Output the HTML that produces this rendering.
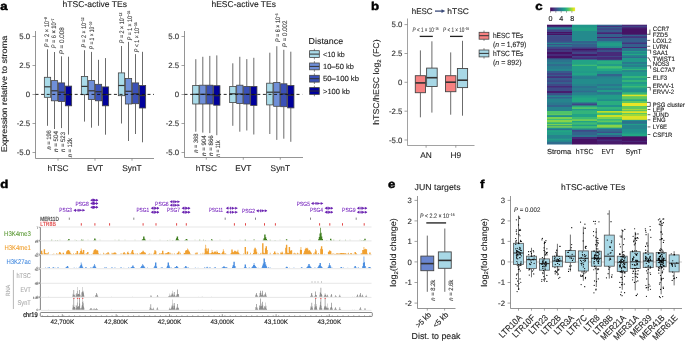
<!DOCTYPE html><html><head><meta charset="utf-8"><style>html,body{margin:0;padding:0;background:#fff;overflow:hidden}svg{display:block;text-rendering:geometricPrecision;will-change:transform}</style></head><body>
<svg width="685" height="341" viewBox="0 0 685 341" font-family='"Liberation Sans", sans-serif'>
<rect width="685" height="341" fill="#fff"/>
<text transform="translate(0.2,10.3) scale(1.15,1)" font-size="11.5" font-weight="bold" fill="#000" stroke="#000" stroke-width="0.45">a</text>
<line x1="35.5" y1="31" x2="35.5" y2="158.5" stroke="#7a7a7a" stroke-width="0.8" />
<line x1="32.5" y1="36.5" x2="35.5" y2="36.5" stroke="#7a7a7a" stroke-width="0.7" />
<text x="30.2" y="39.3" font-size="7.8" fill="#333" stroke="#333" stroke-width="0.12" text-anchor="end" >5.0</text>
<line x1="32.5" y1="65.5" x2="35.5" y2="65.5" stroke="#7a7a7a" stroke-width="0.7" />
<text x="30.2" y="68.3" font-size="7.8" fill="#333" stroke="#333" stroke-width="0.12" text-anchor="end" >2.5</text>
<line x1="32.5" y1="94.5" x2="35.5" y2="94.5" stroke="#7a7a7a" stroke-width="0.7" />
<text x="30.2" y="97.3" font-size="7.8" fill="#333" stroke="#333" stroke-width="0.12" text-anchor="end" >0</text>
<line x1="32.5" y1="123.5" x2="35.5" y2="123.5" stroke="#7a7a7a" stroke-width="0.7" />
<text x="30.2" y="126.3" font-size="7.8" fill="#333" stroke="#333" stroke-width="0.12" text-anchor="end" >-2.5</text>
<line x1="32.5" y1="152.5" x2="35.5" y2="152.5" stroke="#7a7a7a" stroke-width="0.7" />
<text x="30.2" y="155.3" font-size="7.8" fill="#333" stroke="#333" stroke-width="0.12" text-anchor="end" >-5.0</text>
<line x1="35.5" y1="158.5" x2="154.0" y2="158.5" stroke="#7a7a7a" stroke-width="0.8" />
<text x="62.6" y="7" font-size="8.5" fill="#222" stroke="#222" stroke-width="0.12" textLength="64.4" lengthAdjust="spacingAndGlyphs" >hTSC-active TEs</text>
<line x1="47.5" y1="49.3" x2="47.5" y2="77.3" stroke="#454545" stroke-width="0.8" />
<line x1="47.5" y1="97.3" x2="47.5" y2="125.8" stroke="#454545" stroke-width="0.8" />
<rect x="44.35" y="77.30" width="6.30" height="20.00" fill="#a9dbe9" stroke="#454545" stroke-width="0.8"/>
<line x1="44.35" y1="86.8" x2="50.65" y2="86.8" stroke="#333" stroke-width="1.2" />
<line x1="54.5" y1="52" x2="54.5" y2="80.6" stroke="#454545" stroke-width="0.8" />
<line x1="54.5" y1="100.8" x2="54.5" y2="129" stroke="#454545" stroke-width="0.8" />
<rect x="51.35" y="80.60" width="6.30" height="20.20" fill="#6f8fd8" stroke="#454545" stroke-width="0.8"/>
<line x1="51.35" y1="90.8" x2="57.65" y2="90.8" stroke="#333" stroke-width="1.2" />
<line x1="61.5" y1="56.3" x2="61.5" y2="82.9" stroke="#454545" stroke-width="0.8" />
<line x1="61.5" y1="101.4" x2="61.5" y2="128.1" stroke="#454545" stroke-width="0.8" />
<rect x="58.35" y="82.90" width="6.30" height="18.50" fill="#3a50b8" stroke="#454545" stroke-width="0.8"/>
<line x1="58.35" y1="92.2" x2="64.65" y2="92.2" stroke="#333" stroke-width="1.2" />
<line x1="68.5" y1="56.7" x2="68.5" y2="86.1" stroke="#454545" stroke-width="0.8" />
<line x1="68.5" y1="105.8" x2="68.5" y2="134.6" stroke="#454545" stroke-width="0.8" />
<rect x="65.35" y="86.10" width="6.30" height="19.70" fill="#00009b" stroke="#454545" stroke-width="0.8"/>
<line x1="65.35" y1="94.7" x2="71.65" y2="94.7" stroke="#333" stroke-width="1.2" />
<line x1="58.0" y1="158.5" x2="58.0" y2="160.7" stroke="#7a7a7a" stroke-width="0.7" />
<text x="58.0" y="170.7" font-size="8.3" fill="#222" stroke="#222" stroke-width="0.12" text-anchor="middle" >hTSC</text>
<line x1="84.5" y1="50.2" x2="84.5" y2="76.4" stroke="#454545" stroke-width="0.8" />
<line x1="84.5" y1="94.7" x2="84.5" y2="121.6" stroke="#454545" stroke-width="0.8" />
<rect x="81.35" y="76.40" width="6.30" height="18.30" fill="#a9dbe9" stroke="#454545" stroke-width="0.8"/>
<line x1="81.35" y1="86.4" x2="87.65" y2="86.4" stroke="#333" stroke-width="1.2" />
<line x1="91.5" y1="51.9" x2="91.5" y2="80.6" stroke="#454545" stroke-width="0.8" />
<line x1="91.5" y1="99.4" x2="91.5" y2="127.7" stroke="#454545" stroke-width="0.8" />
<rect x="88.35" y="80.60" width="6.30" height="18.80" fill="#6f8fd8" stroke="#454545" stroke-width="0.8"/>
<line x1="88.35" y1="90.8" x2="94.65" y2="90.8" stroke="#333" stroke-width="1.2" />
<line x1="98.5" y1="59.8" x2="98.5" y2="84.3" stroke="#454545" stroke-width="0.8" />
<line x1="98.5" y1="100.8" x2="98.5" y2="125.8" stroke="#454545" stroke-width="0.8" />
<rect x="95.35" y="84.30" width="6.30" height="16.50" fill="#3a50b8" stroke="#454545" stroke-width="0.8"/>
<line x1="95.35" y1="91.7" x2="101.65" y2="91.7" stroke="#333" stroke-width="1.2" />
<line x1="105.5" y1="58.1" x2="105.5" y2="86.9" stroke="#454545" stroke-width="0.8" />
<line x1="105.5" y1="105.8" x2="105.5" y2="134.7" stroke="#454545" stroke-width="0.8" />
<rect x="102.35" y="86.90" width="6.30" height="18.90" fill="#00009b" stroke="#454545" stroke-width="0.8"/>
<line x1="102.35" y1="94.7" x2="108.65" y2="94.7" stroke="#333" stroke-width="1.2" />
<line x1="95.0" y1="158.5" x2="95.0" y2="160.7" stroke="#7a7a7a" stroke-width="0.7" />
<text x="95.0" y="170.7" font-size="8.3" fill="#222" stroke="#222" stroke-width="0.12" text-anchor="middle" >EVT</text>
<line x1="121.5" y1="46" x2="121.5" y2="72.9" stroke="#454545" stroke-width="0.8" />
<line x1="121.5" y1="95.7" x2="121.5" y2="123.5" stroke="#454545" stroke-width="0.8" />
<rect x="118.35" y="72.90" width="6.30" height="22.80" fill="#a9dbe9" stroke="#454545" stroke-width="0.8"/>
<line x1="118.35" y1="85.5" x2="124.65" y2="85.5" stroke="#333" stroke-width="1.2" />
<line x1="128.5" y1="41.9" x2="128.5" y2="78.5" stroke="#454545" stroke-width="0.8" />
<line x1="128.5" y1="104" x2="128.5" y2="141" stroke="#454545" stroke-width="0.8" />
<rect x="125.35" y="78.50" width="6.30" height="25.50" fill="#6f8fd8" stroke="#454545" stroke-width="0.8"/>
<line x1="125.35" y1="91.3" x2="131.65" y2="91.3" stroke="#333" stroke-width="1.2" />
<line x1="135.5" y1="54.1" x2="135.5" y2="82.9" stroke="#454545" stroke-width="0.8" />
<line x1="135.5" y1="103.7" x2="135.5" y2="134" stroke="#454545" stroke-width="0.8" />
<rect x="132.35" y="82.90" width="6.30" height="20.80" fill="#3a50b8" stroke="#454545" stroke-width="0.8"/>
<line x1="132.35" y1="93.8" x2="138.65" y2="93.8" stroke="#333" stroke-width="1.2" />
<line x1="142.5" y1="51.8" x2="142.5" y2="85.5" stroke="#454545" stroke-width="0.8" />
<line x1="142.5" y1="108" x2="142.5" y2="142.3" stroke="#454545" stroke-width="0.8" />
<rect x="139.35" y="85.50" width="6.30" height="22.50" fill="#00009b" stroke="#454545" stroke-width="0.8"/>
<line x1="139.35" y1="95.6" x2="145.65" y2="95.6" stroke="#333" stroke-width="1.2" />
<line x1="132.0" y1="158.5" x2="132.0" y2="160.7" stroke="#7a7a7a" stroke-width="0.7" />
<text x="132.0" y="170.7" font-size="8.3" fill="#222" stroke="#222" stroke-width="0.12" text-anchor="middle" >SynT</text>
<line x1="35.5" y1="94.4" x2="154" y2="94.4" stroke="#111" stroke-width="0.9" stroke-dasharray="3,2.6"/>
<text transform="translate(48.5,47.3) rotate(-90)" font-size="6.6" fill="#444" stroke="#444" stroke-width="0.12" textLength="30.2" lengthAdjust="spacingAndGlyphs" ><tspan font-style="italic">P</tspan> = 2 × 10<tspan dy="-2" font-size="4">−8</tspan></text>
<text transform="translate(56.4,48.3) rotate(-90)" font-size="6.6" fill="#444" stroke="#444" stroke-width="0.12" textLength="29.8" lengthAdjust="spacingAndGlyphs" ><tspan font-style="italic">P</tspan> = 6 × 10<tspan dy="-2" font-size="4">−7</tspan></text>
<text transform="translate(64.10000000000001,54.3) rotate(-90)" font-size="6.6" fill="#444" stroke="#444" stroke-width="0.12" textLength="27" lengthAdjust="spacingAndGlyphs" ><tspan font-style="italic">P</tspan> = 0.008</text>
<text transform="translate(86.2,47.6) rotate(-90)" font-size="6.6" fill="#444" stroke="#444" stroke-width="0.12" textLength="30.2" lengthAdjust="spacingAndGlyphs" ><tspan font-style="italic">P</tspan> = 2 × 10<tspan dy="-2" font-size="4">−12</tspan></text>
<text transform="translate(94.10000000000001,49.2) rotate(-90)" font-size="6.6" fill="#444" stroke="#444" stroke-width="0.12" textLength="27.5" lengthAdjust="spacingAndGlyphs" ><tspan font-style="italic">P</tspan> = 1 × 10<tspan dy="-2" font-size="4">−10</tspan></text>
<text transform="translate(123.5,43.2) rotate(-90)" font-size="6.6" fill="#444" stroke="#444" stroke-width="0.12" textLength="30.5" lengthAdjust="spacingAndGlyphs" ><tspan font-style="italic">P</tspan> = 2 × 10<tspan dy="-2" font-size="4">−12</tspan></text>
<text transform="translate(131.70000000000002,40.2) rotate(-90)" font-size="6.6" fill="#444" stroke="#444" stroke-width="0.12" textLength="29.5" lengthAdjust="spacingAndGlyphs" ><tspan font-style="italic">P</tspan> = 1 × 10<tspan dy="-2" font-size="4">−16</tspan></text>
<text transform="translate(138.8,52.3) rotate(-90)" font-size="6.6" fill="#444" stroke="#444" stroke-width="0.12" textLength="29.8" lengthAdjust="spacingAndGlyphs" ><tspan font-style="italic">P</tspan> &lt; 1 × 10<tspan dy="-2" font-size="4">−16</tspan></text>
<text transform="translate(51.2,149.6) rotate(-90)" font-size="6.4" fill="#444" stroke="#444" stroke-width="0.12" textLength="19.4" lengthAdjust="spacingAndGlyphs" ><tspan font-style="italic">n</tspan> = 196</text>
<text transform="translate(58.0,152) rotate(-90)" font-size="6.4" fill="#444" stroke="#444" stroke-width="0.12" textLength="21" lengthAdjust="spacingAndGlyphs" ><tspan font-style="italic">n</tspan> = 504</text>
<text transform="translate(65.39999999999999,152) rotate(-90)" font-size="6.4" fill="#444" stroke="#444" stroke-width="0.12" textLength="20" lengthAdjust="spacingAndGlyphs" ><tspan font-style="italic">n</tspan> = 523</text>
<text transform="translate(72.39999999999999,157.2) rotate(-90)" font-size="6.4" fill="#444" stroke="#444" stroke-width="0.12" textLength="19" lengthAdjust="spacingAndGlyphs" ><tspan font-style="italic">n</tspan> = 12k</text>
<line x1="184.5" y1="31" x2="184.5" y2="157.5" stroke="#7a7a7a" stroke-width="0.8" />
<line x1="181.5" y1="36.5" x2="184.5" y2="36.5" stroke="#7a7a7a" stroke-width="0.7" />
<text x="179.2" y="39.3" font-size="7.8" fill="#333" stroke="#333" stroke-width="0.12" text-anchor="end" >5.0</text>
<line x1="181.5" y1="65.5" x2="184.5" y2="65.5" stroke="#7a7a7a" stroke-width="0.7" />
<text x="179.2" y="68.3" font-size="7.8" fill="#333" stroke="#333" stroke-width="0.12" text-anchor="end" >2.5</text>
<line x1="181.5" y1="94.5" x2="184.5" y2="94.5" stroke="#7a7a7a" stroke-width="0.7" />
<text x="179.2" y="97.3" font-size="7.8" fill="#333" stroke="#333" stroke-width="0.12" text-anchor="end" >0</text>
<line x1="181.5" y1="123.5" x2="184.5" y2="123.5" stroke="#7a7a7a" stroke-width="0.7" />
<text x="179.2" y="126.3" font-size="7.8" fill="#333" stroke="#333" stroke-width="0.12" text-anchor="end" >-2.5</text>
<line x1="181.5" y1="152.5" x2="184.5" y2="152.5" stroke="#7a7a7a" stroke-width="0.7" />
<text x="179.2" y="155.3" font-size="7.8" fill="#333" stroke="#333" stroke-width="0.12" text-anchor="end" >-5.0</text>
<line x1="184.5" y1="157.5" x2="303.0" y2="157.5" stroke="#7a7a7a" stroke-width="0.8" />
<text x="211.5" y="7" font-size="8.5" fill="#222" stroke="#222" stroke-width="0.12" textLength="64.4" lengthAdjust="spacingAndGlyphs" >hESC-active TEs</text>
<line x1="195.8" y1="59.2" x2="195.8" y2="85.5" stroke="#454545" stroke-width="0.8" />
<line x1="195.8" y1="104" x2="195.8" y2="131.7" stroke="#454545" stroke-width="0.8" />
<rect x="192.65" y="85.50" width="6.30" height="18.50" fill="#a9dbe9" stroke="#454545" stroke-width="0.8"/>
<line x1="192.65" y1="94.3" x2="198.95000000000002" y2="94.3" stroke="#333" stroke-width="1.2" />
<line x1="202.8" y1="56.8" x2="202.8" y2="85.2" stroke="#454545" stroke-width="0.8" />
<line x1="202.8" y1="104" x2="202.8" y2="132.6" stroke="#454545" stroke-width="0.8" />
<rect x="199.65" y="85.20" width="6.30" height="18.80" fill="#6f8fd8" stroke="#454545" stroke-width="0.8"/>
<line x1="199.65" y1="94.3" x2="205.95000000000002" y2="94.3" stroke="#333" stroke-width="1.2" />
<line x1="209.8" y1="55.9" x2="209.8" y2="85.2" stroke="#454545" stroke-width="0.8" />
<line x1="209.8" y1="104" x2="209.8" y2="133.1" stroke="#454545" stroke-width="0.8" />
<rect x="206.65" y="85.20" width="6.30" height="18.80" fill="#3a50b8" stroke="#454545" stroke-width="0.8"/>
<line x1="206.65" y1="94.7" x2="212.95000000000002" y2="94.7" stroke="#333" stroke-width="1.2" />
<line x1="216.8" y1="55.4" x2="216.8" y2="85.7" stroke="#454545" stroke-width="0.8" />
<line x1="216.8" y1="105.2" x2="216.8" y2="135.2" stroke="#454545" stroke-width="0.8" />
<rect x="213.65" y="85.70" width="6.30" height="19.50" fill="#00009b" stroke="#454545" stroke-width="0.8"/>
<line x1="213.65" y1="95.7" x2="219.95000000000002" y2="95.7" stroke="#333" stroke-width="1.2" />
<line x1="206.3" y1="157.5" x2="206.3" y2="159.7" stroke="#7a7a7a" stroke-width="0.7" />
<text x="206.3" y="170.7" font-size="8.3" fill="#222" stroke="#222" stroke-width="0.12" text-anchor="middle" >hTSC</text>
<line x1="232.8" y1="63.3" x2="232.8" y2="86.4" stroke="#454545" stroke-width="0.8" />
<line x1="232.8" y1="102.6" x2="232.8" y2="125.8" stroke="#454545" stroke-width="0.8" />
<rect x="229.65" y="86.40" width="6.30" height="16.20" fill="#a9dbe9" stroke="#454545" stroke-width="0.8"/>
<line x1="229.65" y1="93.8" x2="235.95000000000002" y2="93.8" stroke="#333" stroke-width="1.2" />
<line x1="239.8" y1="56.8" x2="239.8" y2="85.2" stroke="#454545" stroke-width="0.8" />
<line x1="239.8" y1="103.5" x2="239.8" y2="131.7" stroke="#454545" stroke-width="0.8" />
<rect x="236.65" y="85.20" width="6.30" height="18.30" fill="#6f8fd8" stroke="#454545" stroke-width="0.8"/>
<line x1="236.65" y1="94" x2="242.95000000000002" y2="94" stroke="#333" stroke-width="1.2" />
<line x1="246.8" y1="59.1" x2="246.8" y2="86.4" stroke="#454545" stroke-width="0.8" />
<line x1="246.8" y1="104" x2="246.8" y2="130.5" stroke="#454545" stroke-width="0.8" />
<rect x="243.65" y="86.40" width="6.30" height="17.60" fill="#3a50b8" stroke="#454545" stroke-width="0.8"/>
<line x1="243.65" y1="94.3" x2="249.95000000000002" y2="94.3" stroke="#333" stroke-width="1.2" />
<line x1="253.8" y1="57.8" x2="253.8" y2="86.4" stroke="#454545" stroke-width="0.8" />
<line x1="253.8" y1="105.4" x2="253.8" y2="134.5" stroke="#454545" stroke-width="0.8" />
<rect x="250.65" y="86.40" width="6.30" height="19.00" fill="#00009b" stroke="#454545" stroke-width="0.8"/>
<line x1="250.65" y1="94.7" x2="256.95" y2="94.7" stroke="#333" stroke-width="1.2" />
<line x1="243.3" y1="157.5" x2="243.3" y2="159.7" stroke="#7a7a7a" stroke-width="0.7" />
<text x="243.3" y="170.7" font-size="8.3" fill="#222" stroke="#222" stroke-width="0.12" text-anchor="middle" >EVT</text>
<line x1="269.8" y1="52.7" x2="269.8" y2="83.2" stroke="#454545" stroke-width="0.8" />
<line x1="269.8" y1="104.9" x2="269.8" y2="134" stroke="#454545" stroke-width="0.8" />
<rect x="266.65" y="83.20" width="6.30" height="21.70" fill="#a9dbe9" stroke="#454545" stroke-width="0.8"/>
<line x1="266.65000000000003" y1="92.2" x2="272.95" y2="92.2" stroke="#333" stroke-width="1.2" />
<line x1="276.8" y1="46.2" x2="276.8" y2="82.4" stroke="#454545" stroke-width="0.8" />
<line x1="276.8" y1="106.3" x2="276.8" y2="139.9" stroke="#454545" stroke-width="0.8" />
<rect x="273.65" y="82.40" width="6.30" height="23.90" fill="#6f8fd8" stroke="#454545" stroke-width="0.8"/>
<line x1="273.65000000000003" y1="92.2" x2="279.95" y2="92.2" stroke="#333" stroke-width="1.2" />
<line x1="283.8" y1="49.8" x2="283.8" y2="83.8" stroke="#454545" stroke-width="0.8" />
<line x1="283.8" y1="106.7" x2="283.8" y2="138.7" stroke="#454545" stroke-width="0.8" />
<rect x="280.65" y="83.80" width="6.30" height="22.90" fill="#3a50b8" stroke="#454545" stroke-width="0.8"/>
<line x1="280.65000000000003" y1="94" x2="286.95" y2="94" stroke="#333" stroke-width="1.2" />
<line x1="290.8" y1="51.7" x2="290.8" y2="85.5" stroke="#454545" stroke-width="0.8" />
<line x1="290.8" y1="107.9" x2="290.8" y2="141.8" stroke="#454545" stroke-width="0.8" />
<rect x="287.65" y="85.50" width="6.30" height="22.40" fill="#00009b" stroke="#454545" stroke-width="0.8"/>
<line x1="287.65000000000003" y1="95.2" x2="293.95" y2="95.2" stroke="#333" stroke-width="1.2" />
<line x1="280.3" y1="157.5" x2="280.3" y2="159.7" stroke="#7a7a7a" stroke-width="0.7" />
<text x="280.3" y="170.7" font-size="8.3" fill="#222" stroke="#222" stroke-width="0.12" text-anchor="middle" >SynT</text>
<line x1="184.5" y1="94.4" x2="302.3" y2="94.4" stroke="#111" stroke-width="0.9" stroke-dasharray="3,2.6"/>
<text transform="translate(279.5,42) rotate(-90)" font-size="6.6" fill="#444" stroke="#444" stroke-width="0.12" textLength="28.7" lengthAdjust="spacingAndGlyphs" ><tspan font-style="italic">P</tspan> = 6 × 10<tspan dy="-2" font-size="4">−5</tspan></text>
<text transform="translate(286.79999999999995,47.2) rotate(-90)" font-size="6.6" fill="#444" stroke="#444" stroke-width="0.12" textLength="26.7" lengthAdjust="spacingAndGlyphs" ><tspan font-style="italic">P</tspan> = 0.002</text>
<text transform="translate(198.1,152.8) rotate(-90)" font-size="6.4" fill="#444" stroke="#444" stroke-width="0.12" textLength="19.3" lengthAdjust="spacingAndGlyphs" ><tspan font-style="italic">n</tspan> = 368</text>
<text transform="translate(206.0,156) rotate(-90)" font-size="6.4" fill="#444" stroke="#444" stroke-width="0.12" textLength="20.8" lengthAdjust="spacingAndGlyphs" ><tspan font-style="italic">n</tspan> = 904</text>
<text transform="translate(213.0,156) rotate(-90)" font-size="6.4" fill="#444" stroke="#444" stroke-width="0.12" textLength="20.8" lengthAdjust="spacingAndGlyphs" ><tspan font-style="italic">n</tspan> = 866</text>
<text transform="translate(220.0,156.7) rotate(-90)" font-size="6.4" fill="#444" stroke="#444" stroke-width="0.12" textLength="16.2" lengthAdjust="spacingAndGlyphs" ><tspan font-style="italic">n</tspan> = 11k</text>
<text transform="translate(7.2,152.3) rotate(-90)" font-size="8.2" fill="#222" stroke="#222" stroke-width="0.12" textLength="116.5" lengthAdjust="spacingAndGlyphs" >Expression relative to stroma</text>
<text x="308.6" y="44.4" font-size="8.6" fill="#222" stroke="#222" stroke-width="0.12" textLength="34.5" lengthAdjust="spacingAndGlyphs" >Distance</text>
<line x1="314.4" y1="48.800000000000004" x2="314.4" y2="59.4" stroke="#555" stroke-width="0.7" />
<rect x="309.60" y="50.70" width="9.70" height="6.80" fill="#a9dbe9" stroke="#454545" stroke-width="0.8"/>
<line x1="309.6" y1="54.1" x2="319.3" y2="54.1" stroke="#333" stroke-width="1.0" />
<text x="323" y="56.7" font-size="7.4" fill="#222" stroke="#222" stroke-width="0.12" textLength="21.8" lengthAdjust="spacingAndGlyphs" >&lt;10 kb</text>
<line x1="314.4" y1="61.10000000000001" x2="314.4" y2="71.7" stroke="#555" stroke-width="0.7" />
<rect x="309.60" y="63.00" width="9.70" height="6.80" fill="#6f8fd8" stroke="#454545" stroke-width="0.8"/>
<line x1="309.6" y1="66.4" x2="319.3" y2="66.4" stroke="#333" stroke-width="1.0" />
<text x="323" y="69.0" font-size="7.4" fill="#222" stroke="#222" stroke-width="0.12" textLength="30.8" lengthAdjust="spacingAndGlyphs" >10–50 kb</text>
<line x1="314.4" y1="73.4" x2="314.4" y2="84.0" stroke="#555" stroke-width="0.7" />
<rect x="309.60" y="75.30" width="9.70" height="6.80" fill="#3a50b8" stroke="#454545" stroke-width="0.8"/>
<line x1="309.6" y1="78.7" x2="319.3" y2="78.7" stroke="#333" stroke-width="1.0" />
<text x="323" y="81.3" font-size="7.4" fill="#222" stroke="#222" stroke-width="0.12" textLength="36" lengthAdjust="spacingAndGlyphs" >50–100 kb</text>
<line x1="314.4" y1="85.7" x2="314.4" y2="96.3" stroke="#555" stroke-width="0.7" />
<rect x="309.60" y="87.60" width="9.70" height="6.80" fill="#00009b" stroke="#454545" stroke-width="0.8"/>
<line x1="309.6" y1="91.0" x2="319.3" y2="91.0" stroke="#333" stroke-width="1.0" />
<text x="323" y="93.6" font-size="7.4" fill="#222" stroke="#222" stroke-width="0.12" textLength="26.9" lengthAdjust="spacingAndGlyphs" >&gt;100 kb</text>
<text transform="translate(370.9,10.1) scale(1.15,1)" font-size="11.5" font-weight="bold" fill="#000" stroke="#000" stroke-width="0.45">b</text>
<text x="411.8" y="13.7" font-size="8.2" fill="#222" stroke="#222" stroke-width="0.12" textLength="20.8" lengthAdjust="spacingAndGlyphs" >hESC</text>
<line x1="435" y1="11.1" x2="442.5" y2="11.1" stroke="#3a4a78" stroke-width="1.3" />
<path d="M441.5,9.2 L445.3,11.1 L441.5,13 Z" fill="#3a4a78"/>
<text x="447.3" y="13.7" font-size="8.2" fill="#222" stroke="#222" stroke-width="0.12" textLength="21.6" lengthAdjust="spacingAndGlyphs" >hTSC</text>
<line x1="407.5" y1="18.5" x2="407.5" y2="145.5" stroke="#7a7a7a" stroke-width="0.7" />
<line x1="404.5" y1="24.6" x2="407.5" y2="24.6" stroke="#7a7a7a" stroke-width="0.7" />
<text x="402.4" y="27.400000000000002" font-size="7.8" fill="#333" stroke="#333" stroke-width="0.12" text-anchor="end" >5.0</text>
<line x1="404.5" y1="53.5" x2="407.5" y2="53.5" stroke="#7a7a7a" stroke-width="0.7" />
<text x="402.4" y="56.3" font-size="7.8" fill="#333" stroke="#333" stroke-width="0.12" text-anchor="end" >2.5</text>
<line x1="404.5" y1="82.3" x2="407.5" y2="82.3" stroke="#7a7a7a" stroke-width="0.7" />
<text x="402.4" y="85.1" font-size="7.8" fill="#333" stroke="#333" stroke-width="0.12" text-anchor="end" >0</text>
<line x1="404.5" y1="111.2" x2="407.5" y2="111.2" stroke="#7a7a7a" stroke-width="0.7" />
<text x="402.4" y="114.0" font-size="7.8" fill="#333" stroke="#333" stroke-width="0.12" text-anchor="end" >-2.5</text>
<line x1="404.5" y1="140" x2="407.5" y2="140" stroke="#7a7a7a" stroke-width="0.7" />
<text x="402.4" y="142.8" font-size="7.8" fill="#333" stroke="#333" stroke-width="0.12" text-anchor="end" >-5.0</text>
<line x1="407.5" y1="145.5" x2="474.5" y2="145.5" stroke="#7a7a7a" stroke-width="0.7" />
<line x1="426.1" y1="145.5" x2="426.1" y2="147.7" stroke="#7a7a7a" stroke-width="0.7" />
<text x="426.1" y="157.7" font-size="8.3" fill="#222" stroke="#222" stroke-width="0.12" text-anchor="middle" >AN</text>
<line x1="455.8" y1="145.5" x2="455.8" y2="147.7" stroke="#7a7a7a" stroke-width="0.7" />
<text x="455.8" y="157.7" font-size="8.3" fill="#222" stroke="#222" stroke-width="0.12" text-anchor="middle" >H9</text>
<line x1="420.4" y1="50.4" x2="420.4" y2="75.7" stroke="#454545" stroke-width="0.8" />
<line x1="420.4" y1="92.7" x2="420.4" y2="117.3" stroke="#454545" stroke-width="0.8" />
<rect x="415.30" y="75.70" width="10.20" height="17.00" fill="#f78181" stroke="#454545" stroke-width="0.9"/>
<line x1="415.29999999999995" y1="82.9" x2="425.5" y2="82.9" stroke="#333" stroke-width="1.6" />
<line x1="431.9" y1="41.3" x2="431.9" y2="68.1" stroke="#454545" stroke-width="0.8" />
<line x1="431.9" y1="86.5" x2="431.9" y2="112.6" stroke="#454545" stroke-width="0.8" />
<rect x="426.60" y="68.10" width="10.60" height="18.40" fill="#a8d8e6" stroke="#454545" stroke-width="0.9"/>
<line x1="426.59999999999997" y1="77.7" x2="437.2" y2="77.7" stroke="#333" stroke-width="1.6" />
<line x1="450.7" y1="52.4" x2="450.7" y2="75.7" stroke="#454545" stroke-width="0.8" />
<line x1="450.7" y1="91.7" x2="450.7" y2="114.7" stroke="#454545" stroke-width="0.8" />
<rect x="445.50" y="75.70" width="10.40" height="16.00" fill="#f78181" stroke="#454545" stroke-width="0.9"/>
<line x1="445.5" y1="82.2" x2="455.9" y2="82.2" stroke="#333" stroke-width="1.6" />
<line x1="462.5" y1="40.8" x2="462.5" y2="68.5" stroke="#454545" stroke-width="0.8" />
<line x1="462.5" y1="87.6" x2="462.5" y2="115.7" stroke="#454545" stroke-width="0.8" />
<rect x="457.40" y="68.50" width="10.20" height="19.10" fill="#a8d8e6" stroke="#454545" stroke-width="0.9"/>
<line x1="457.4" y1="80.2" x2="467.6" y2="80.2" stroke="#333" stroke-width="1.6" />
<line x1="419.7" y1="36.4" x2="432.8" y2="36.4" stroke="#222" stroke-width="1.3" />
<line x1="450" y1="36.4" x2="462.7" y2="36.4" stroke="#222" stroke-width="1.3" />
<text x="412.6" y="31.8" font-size="6.6" fill="#444" stroke="#444" stroke-width="0.12" textLength="26" lengthAdjust="spacingAndGlyphs" ><tspan font-style="italic">P</tspan> &lt; 1 × 10<tspan dy="-2" font-size="4">−16</tspan></text>
<text x="443" y="31.8" font-size="6.6" fill="#444" stroke="#444" stroke-width="0.12" textLength="26.2" lengthAdjust="spacingAndGlyphs" ><tspan font-style="italic">P</tspan> &lt; 1 × 10<tspan dy="-2" font-size="4">−16</tspan></text>
<text transform="translate(379.3,124.8) rotate(-90)" font-size="8.3" fill="#222" stroke="#222" stroke-width="0.12" textLength="85.4" lengthAdjust="spacingAndGlyphs" >hTSC/hESC log<tspan dy="1.8" font-size="5.5">2</tspan><tspan dy="-1.8"> (FC)</tspan></text>
<line x1="484" y1="30.500000000000004" x2="484" y2="40.900000000000006" stroke="#555" stroke-width="0.7" />
<rect x="479.10" y="32.30" width="9.80" height="6.90" fill="#f78181" stroke="#454545" stroke-width="0.8"/>
<line x1="479.1" y1="35.7" x2="488.9" y2="35.7" stroke="#333" stroke-width="1.0" />
<text x="492.9" y="38.1" font-size="7.5" fill="#222" stroke="#222" stroke-width="0.12" textLength="30.5" lengthAdjust="spacingAndGlyphs" >hESC TEs</text>
<text x="492.9" y="47.0" font-size="7.5" fill="#222" stroke="#222" stroke-width="0.12" textLength="33.4" lengthAdjust="spacingAndGlyphs" >(<tspan font-style="italic">n</tspan> = 1,679)</text>
<line x1="484" y1="48.199999999999996" x2="484" y2="58.6" stroke="#555" stroke-width="0.7" />
<rect x="479.10" y="50.00" width="9.80" height="6.90" fill="#a8d8e6" stroke="#454545" stroke-width="0.8"/>
<line x1="479.1" y1="53.4" x2="488.9" y2="53.4" stroke="#333" stroke-width="1.0" />
<text x="492.9" y="55.8" font-size="7.5" fill="#222" stroke="#222" stroke-width="0.12" textLength="30.5" lengthAdjust="spacingAndGlyphs" >hTSC TEs</text>
<text x="492.9" y="64.7" font-size="7.5" fill="#222" stroke="#222" stroke-width="0.12" textLength="28.6" lengthAdjust="spacingAndGlyphs" >(<tspan font-style="italic">n</tspan> = 892)</text>
<text transform="translate(535.3,10.2) scale(1.15,1)" font-size="11.5" font-weight="bold" fill="#000" stroke="#000" stroke-width="0.45">c</text>
<defs><linearGradient id="vg" x1="0" x2="1" y1="0" y2="0"><stop offset="0.0" stop-color="#440154"/><stop offset="0.1" stop-color="#482475"/><stop offset="0.2" stop-color="#414487"/><stop offset="0.3" stop-color="#355f8d"/><stop offset="0.4" stop-color="#2a788e"/><stop offset="0.5" stop-color="#21918c"/><stop offset="0.6" stop-color="#22a884"/><stop offset="0.7" stop-color="#44bf70"/><stop offset="0.8" stop-color="#7ad151"/><stop offset="0.9" stop-color="#bddf26"/><stop offset="1.0" stop-color="#fde725"/></linearGradient></defs>
<rect x="550.20" y="7.50" width="24.90" height="3.70" fill="url(#vg)"/>
<line x1="550.5" y1="11.2" x2="550.5" y2="12.6" stroke="#444" stroke-width="0.6" />
<line x1="555.8" y1="11.2" x2="555.8" y2="12.6" stroke="#444" stroke-width="0.6" />
<line x1="561.2" y1="11.2" x2="561.2" y2="12.6" stroke="#444" stroke-width="0.6" />
<line x1="566.5" y1="11.2" x2="566.5" y2="12.6" stroke="#444" stroke-width="0.6" />
<line x1="571.9" y1="11.2" x2="571.9" y2="12.6" stroke="#444" stroke-width="0.6" />
<text x="550.5" y="21.2" font-size="7.2" fill="#222" stroke="#222" stroke-width="0.12" text-anchor="middle" >0</text>
<text x="561.3" y="21.2" font-size="7.2" fill="#222" stroke="#222" stroke-width="0.12" text-anchor="middle" >4</text>
<text x="572.2" y="21.2" font-size="7.2" fill="#222" stroke="#222" stroke-width="0.12" text-anchor="middle" >8</text>
<defs><linearGradient id="hm0" gradientUnits="userSpaceOnUse" x1="0" y1="24.7" x2="0" y2="144.5"><stop offset="0.0000" stop-color="#461264"/><stop offset="0.0134" stop-color="#461264"/><stop offset="0.0184" stop-color="#355f8d"/><stop offset="0.0225" stop-color="#355f8d"/><stop offset="0.0275" stop-color="#26848d"/><stop offset="0.0342" stop-color="#26848d"/><stop offset="0.0392" stop-color="#355f8d"/><stop offset="0.0434" stop-color="#355f8d"/><stop offset="0.0484" stop-color="#414487"/><stop offset="0.0576" stop-color="#414487"/><stop offset="0.0626" stop-color="#461264"/><stop offset="0.0668" stop-color="#461264"/><stop offset="0.0718" stop-color="#472a79"/><stop offset="0.0760" stop-color="#472a79"/><stop offset="0.0810" stop-color="#461264"/><stop offset="0.0835" stop-color="#461264"/><stop offset="0.0885" stop-color="#3b528a"/><stop offset="0.0943" stop-color="#3b528a"/><stop offset="0.0993" stop-color="#3f4988"/><stop offset="0.1386" stop-color="#3f4988"/><stop offset="0.1436" stop-color="#355f8d"/><stop offset="0.1494" stop-color="#355f8d"/><stop offset="0.1544" stop-color="#26848d"/><stop offset="0.1569" stop-color="#26848d"/><stop offset="0.1619" stop-color="#3b528a"/><stop offset="0.1678" stop-color="#3b528a"/><stop offset="0.1728" stop-color="#2a788e"/><stop offset="0.1786" stop-color="#2a788e"/><stop offset="0.1836" stop-color="#355f8d"/><stop offset="0.1861" stop-color="#355f8d"/><stop offset="0.1912" stop-color="#414487"/><stop offset="0.2012" stop-color="#414487"/><stop offset="0.2062" stop-color="#472a79"/><stop offset="0.2120" stop-color="#472a79"/><stop offset="0.2170" stop-color="#423e83"/><stop offset="0.2229" stop-color="#423e83"/><stop offset="0.2279" stop-color="#461264"/><stop offset="0.2421" stop-color="#461264"/><stop offset="0.2471" stop-color="#472a79"/><stop offset="0.2604" stop-color="#472a79"/><stop offset="0.2654" stop-color="#461264"/><stop offset="0.2788" stop-color="#461264"/><stop offset="0.2838" stop-color="#355f8d"/><stop offset="0.2896" stop-color="#355f8d"/><stop offset="0.2947" stop-color="#2c738e"/><stop offset="0.3122" stop-color="#2c738e"/><stop offset="0.3172" stop-color="#26848d"/><stop offset="0.3230" stop-color="#26848d"/><stop offset="0.3280" stop-color="#306c8e"/><stop offset="0.3447" stop-color="#306c8e"/><stop offset="0.3497" stop-color="#287d8e"/><stop offset="0.3706" stop-color="#287d8e"/><stop offset="0.3756" stop-color="#238c8c"/><stop offset="0.3815" stop-color="#238c8c"/><stop offset="0.3865" stop-color="#375a8c"/><stop offset="0.3998" stop-color="#375a8c"/><stop offset="0.4048" stop-color="#414487"/><stop offset="0.4182" stop-color="#414487"/><stop offset="0.4232" stop-color="#375a8c"/><stop offset="0.4290" stop-color="#375a8c"/><stop offset="0.4341" stop-color="#472a79"/><stop offset="0.4399" stop-color="#472a79"/><stop offset="0.4449" stop-color="#375a8c"/><stop offset="0.4624" stop-color="#375a8c"/><stop offset="0.4674" stop-color="#3f4988"/><stop offset="0.4766" stop-color="#3f4988"/><stop offset="0.4816" stop-color="#355f8d"/><stop offset="0.4925" stop-color="#355f8d"/><stop offset="0.4975" stop-color="#3f4988"/><stop offset="0.5075" stop-color="#3f4988"/><stop offset="0.5125" stop-color="#472a79"/><stop offset="0.5217" stop-color="#472a79"/><stop offset="0.5267" stop-color="#3f4988"/><stop offset="0.5509" stop-color="#3f4988"/><stop offset="0.5559" stop-color="#471d6e"/><stop offset="0.5659" stop-color="#471d6e"/><stop offset="0.5710" stop-color="#3b528a"/><stop offset="0.5876" stop-color="#3b528a"/><stop offset="0.5927" stop-color="#26848d"/><stop offset="0.6027" stop-color="#26848d"/><stop offset="0.6077" stop-color="#33648d"/><stop offset="0.6135" stop-color="#33648d"/><stop offset="0.6185" stop-color="#26848d"/><stop offset="0.6469" stop-color="#26848d"/><stop offset="0.6519" stop-color="#2a788e"/><stop offset="0.6686" stop-color="#2a788e"/><stop offset="0.6736" stop-color="#33648d"/><stop offset="0.6836" stop-color="#33648d"/><stop offset="0.6886" stop-color="#26848d"/><stop offset="0.7162" stop-color="#26848d"/><stop offset="0.7212" stop-color="#4fc36a"/><stop offset="0.7429" stop-color="#4fc36a"/><stop offset="0.7479" stop-color="#5fc860"/><stop offset="0.7538" stop-color="#5fc860"/><stop offset="0.7588" stop-color="#21918c"/><stop offset="0.7688" stop-color="#21918c"/><stop offset="0.7738" stop-color="#7ad151"/><stop offset="0.7830" stop-color="#7ad151"/><stop offset="0.7880" stop-color="#44bf70"/><stop offset="0.7947" stop-color="#44bf70"/><stop offset="0.7997" stop-color="#87d448"/><stop offset="0.8130" stop-color="#87d448"/><stop offset="0.8180" stop-color="#33b47a"/><stop offset="0.8272" stop-color="#33b47a"/><stop offset="0.8322" stop-color="#7ad151"/><stop offset="0.8381" stop-color="#7ad151"/><stop offset="0.8431" stop-color="#21918c"/><stop offset="0.8456" stop-color="#21918c"/><stop offset="0.8506" stop-color="#7ad151"/><stop offset="0.8564" stop-color="#7ad151"/><stop offset="0.8614" stop-color="#21918c"/><stop offset="0.8681" stop-color="#21918c"/><stop offset="0.8731" stop-color="#2c738e"/><stop offset="0.8790" stop-color="#2c738e"/><stop offset="0.8840" stop-color="#22a884"/><stop offset="0.8898" stop-color="#22a884"/><stop offset="0.8948" stop-color="#229c88"/><stop offset="0.9190" stop-color="#229c88"/><stop offset="0.9240" stop-color="#26848d"/><stop offset="0.9482" stop-color="#26848d"/><stop offset="0.9533" stop-color="#229c88"/><stop offset="0.9633" stop-color="#229c88"/><stop offset="0.9683" stop-color="#26848d"/><stop offset="0.9775" stop-color="#26848d"/><stop offset="0.9825" stop-color="#306c8e"/><stop offset="1.0000" stop-color="#306c8e"/></linearGradient></defs>
<rect x="547" y="24.7" width="25.2" height="119.80" fill="url(#hm0)"/>
<defs><linearGradient id="hm1" gradientUnits="userSpaceOnUse" x1="0" y1="24.7" x2="0" y2="144.5"><stop offset="0.0000" stop-color="#21968a"/><stop offset="0.0209" stop-color="#21968a"/><stop offset="0.0259" stop-color="#22a186"/><stop offset="0.0501" stop-color="#22a186"/><stop offset="0.0551" stop-color="#248a8d"/><stop offset="0.1277" stop-color="#248a8d"/><stop offset="0.1327" stop-color="#21918c"/><stop offset="0.1352" stop-color="#21918c"/><stop offset="0.1402" stop-color="#33648d"/><stop offset="0.1494" stop-color="#33648d"/><stop offset="0.1544" stop-color="#2c738e"/><stop offset="0.1603" stop-color="#2c738e"/><stop offset="0.1653" stop-color="#355f8d"/><stop offset="0.1828" stop-color="#355f8d"/><stop offset="0.1878" stop-color="#3f4988"/><stop offset="0.1970" stop-color="#3f4988"/><stop offset="0.2020" stop-color="#461264"/><stop offset="0.2120" stop-color="#461264"/><stop offset="0.2170" stop-color="#44347e"/><stop offset="0.2262" stop-color="#44347e"/><stop offset="0.2312" stop-color="#414487"/><stop offset="0.2421" stop-color="#414487"/><stop offset="0.2471" stop-color="#471a6b"/><stop offset="0.2604" stop-color="#471a6b"/><stop offset="0.2654" stop-color="#414487"/><stop offset="0.2713" stop-color="#414487"/><stop offset="0.2763" stop-color="#472a79"/><stop offset="0.2821" stop-color="#472a79"/><stop offset="0.2871" stop-color="#3b528a"/><stop offset="0.2896" stop-color="#3b528a"/><stop offset="0.2947" stop-color="#22a386"/><stop offset="0.3306" stop-color="#22a386"/><stop offset="0.3356" stop-color="#3dba74"/><stop offset="0.3414" stop-color="#3dba74"/><stop offset="0.3464" stop-color="#229f87"/><stop offset="0.3890" stop-color="#229f87"/><stop offset="0.3940" stop-color="#21918c"/><stop offset="0.3965" stop-color="#21918c"/><stop offset="0.4015" stop-color="#22a386"/><stop offset="0.4215" stop-color="#22a386"/><stop offset="0.4265" stop-color="#26848d"/><stop offset="0.4290" stop-color="#26848d"/><stop offset="0.4341" stop-color="#287d8e"/><stop offset="0.4516" stop-color="#287d8e"/><stop offset="0.4566" stop-color="#238c8c"/><stop offset="0.4925" stop-color="#238c8c"/><stop offset="0.4975" stop-color="#26848d"/><stop offset="0.5075" stop-color="#26848d"/><stop offset="0.5125" stop-color="#2c738e"/><stop offset="0.5259" stop-color="#2c738e"/><stop offset="0.5309" stop-color="#287d8e"/><stop offset="0.5476" stop-color="#287d8e"/><stop offset="0.5526" stop-color="#306c8e"/><stop offset="0.5626" stop-color="#306c8e"/><stop offset="0.5676" stop-color="#26848d"/><stop offset="0.5876" stop-color="#26848d"/><stop offset="0.5927" stop-color="#229c88"/><stop offset="0.6060" stop-color="#229c88"/><stop offset="0.6110" stop-color="#22a884"/><stop offset="0.6469" stop-color="#22a884"/><stop offset="0.6519" stop-color="#355f8d"/><stop offset="0.6578" stop-color="#355f8d"/><stop offset="0.6628" stop-color="#414487"/><stop offset="0.6720" stop-color="#414487"/><stop offset="0.6770" stop-color="#29ad80"/><stop offset="0.6870" stop-color="#29ad80"/><stop offset="0.6920" stop-color="#4fc36a"/><stop offset="0.7012" stop-color="#4fc36a"/><stop offset="0.7062" stop-color="#229c88"/><stop offset="0.7129" stop-color="#229c88"/><stop offset="0.7179" stop-color="#33b47a"/><stop offset="0.7429" stop-color="#33b47a"/><stop offset="0.7479" stop-color="#22a386"/><stop offset="0.7688" stop-color="#22a386"/><stop offset="0.7738" stop-color="#3dba74"/><stop offset="0.7871" stop-color="#3dba74"/><stop offset="0.7922" stop-color="#6fcd57"/><stop offset="0.8013" stop-color="#6fcd57"/><stop offset="0.8063" stop-color="#22a386"/><stop offset="0.8130" stop-color="#22a386"/><stop offset="0.8180" stop-color="#3dba74"/><stop offset="0.8314" stop-color="#3dba74"/><stop offset="0.8364" stop-color="#229c88"/><stop offset="0.8422" stop-color="#229c88"/><stop offset="0.8472" stop-color="#3dba74"/><stop offset="0.8639" stop-color="#3dba74"/><stop offset="0.8689" stop-color="#26848d"/><stop offset="0.8748" stop-color="#26848d"/><stop offset="0.8798" stop-color="#3f4988"/><stop offset="0.8898" stop-color="#3f4988"/><stop offset="0.8948" stop-color="#33648d"/><stop offset="0.9190" stop-color="#33648d"/><stop offset="0.9240" stop-color="#2c738e"/><stop offset="0.9341" stop-color="#2c738e"/><stop offset="0.9391" stop-color="#472a79"/><stop offset="0.9524" stop-color="#472a79"/><stop offset="0.9574" stop-color="#461264"/><stop offset="1.0000" stop-color="#461264"/></linearGradient></defs>
<rect x="572" y="24.7" width="25.2" height="119.80" fill="url(#hm1)"/>
<defs><linearGradient id="hm2" gradientUnits="userSpaceOnUse" x1="0" y1="24.7" x2="0" y2="144.5"><stop offset="0.0000" stop-color="#355f8d"/><stop offset="0.0067" stop-color="#355f8d"/><stop offset="0.0117" stop-color="#44347e"/><stop offset="0.0175" stop-color="#44347e"/><stop offset="0.0225" stop-color="#355f8d"/><stop offset="0.0284" stop-color="#355f8d"/><stop offset="0.0334" stop-color="#414487"/><stop offset="0.0392" stop-color="#414487"/><stop offset="0.0442" stop-color="#375a8c"/><stop offset="0.0618" stop-color="#375a8c"/><stop offset="0.0668" stop-color="#482475"/><stop offset="0.0760" stop-color="#482475"/><stop offset="0.0810" stop-color="#355f8d"/><stop offset="0.0985" stop-color="#355f8d"/><stop offset="0.1035" stop-color="#482475"/><stop offset="0.1093" stop-color="#482475"/><stop offset="0.1144" stop-color="#355f8d"/><stop offset="0.1352" stop-color="#355f8d"/><stop offset="0.1402" stop-color="#26848d"/><stop offset="0.1461" stop-color="#26848d"/><stop offset="0.1511" stop-color="#229c88"/><stop offset="0.1786" stop-color="#229c88"/><stop offset="0.1836" stop-color="#26848d"/><stop offset="0.1937" stop-color="#26848d"/><stop offset="0.1987" stop-color="#44347e"/><stop offset="0.2120" stop-color="#44347e"/><stop offset="0.2170" stop-color="#375a8c"/><stop offset="0.2229" stop-color="#375a8c"/><stop offset="0.2279" stop-color="#472a79"/><stop offset="0.2571" stop-color="#472a79"/><stop offset="0.2621" stop-color="#414487"/><stop offset="0.2679" stop-color="#414487"/><stop offset="0.2730" stop-color="#472a79"/><stop offset="0.2896" stop-color="#472a79"/><stop offset="0.2947" stop-color="#26848d"/><stop offset="0.2972" stop-color="#26848d"/><stop offset="0.3022" stop-color="#29ad80"/><stop offset="0.3264" stop-color="#29ad80"/><stop offset="0.3314" stop-color="#229c88"/><stop offset="0.3447" stop-color="#229c88"/><stop offset="0.3497" stop-color="#44bf70"/><stop offset="0.3631" stop-color="#44bf70"/><stop offset="0.3681" stop-color="#22a884"/><stop offset="0.3856" stop-color="#22a884"/><stop offset="0.3907" stop-color="#21918c"/><stop offset="0.4107" stop-color="#21918c"/><stop offset="0.4157" stop-color="#33648d"/><stop offset="0.4290" stop-color="#33648d"/><stop offset="0.4341" stop-color="#26848d"/><stop offset="0.4474" stop-color="#26848d"/><stop offset="0.4524" stop-color="#248a8d"/><stop offset="0.4925" stop-color="#248a8d"/><stop offset="0.4975" stop-color="#2a788e"/><stop offset="0.5109" stop-color="#2a788e"/><stop offset="0.5159" stop-color="#238c8c"/><stop offset="0.5292" stop-color="#238c8c"/><stop offset="0.5342" stop-color="#2c738e"/><stop offset="0.5401" stop-color="#2c738e"/><stop offset="0.5451" stop-color="#229c88"/><stop offset="0.5584" stop-color="#229c88"/><stop offset="0.5634" stop-color="#2a788e"/><stop offset="0.5810" stop-color="#2a788e"/><stop offset="0.5860" stop-color="#229c88"/><stop offset="0.6210" stop-color="#229c88"/><stop offset="0.6260" stop-color="#238c8c"/><stop offset="0.6361" stop-color="#238c8c"/><stop offset="0.6411" stop-color="#29ad80"/><stop offset="0.6686" stop-color="#29ad80"/><stop offset="0.6736" stop-color="#21918c"/><stop offset="0.6836" stop-color="#21918c"/><stop offset="0.6886" stop-color="#33b47a"/><stop offset="0.7053" stop-color="#33b47a"/><stop offset="0.7104" stop-color="#22a386"/><stop offset="0.7162" stop-color="#22a386"/><stop offset="0.7212" stop-color="#bddf26"/><stop offset="0.7312" stop-color="#bddf26"/><stop offset="0.7362" stop-color="#44bf70"/><stop offset="0.7504" stop-color="#44bf70"/><stop offset="0.7554" stop-color="#cae126"/><stop offset="0.7688" stop-color="#cae126"/><stop offset="0.7738" stop-color="#7ad151"/><stop offset="0.7830" stop-color="#7ad151"/><stop offset="0.7880" stop-color="#3dba74"/><stop offset="0.7980" stop-color="#3dba74"/><stop offset="0.8030" stop-color="#5fc860"/><stop offset="0.8130" stop-color="#5fc860"/><stop offset="0.8180" stop-color="#22a386"/><stop offset="0.8314" stop-color="#22a386"/><stop offset="0.8364" stop-color="#87d448"/><stop offset="0.8564" stop-color="#87d448"/><stop offset="0.8614" stop-color="#21918c"/><stop offset="0.8681" stop-color="#21918c"/><stop offset="0.8731" stop-color="#306c8e"/><stop offset="0.8898" stop-color="#306c8e"/><stop offset="0.8948" stop-color="#3b528a"/><stop offset="0.9007" stop-color="#3b528a"/><stop offset="0.9057" stop-color="#26848d"/><stop offset="0.9190" stop-color="#26848d"/><stop offset="0.9240" stop-color="#355f8d"/><stop offset="0.9341" stop-color="#355f8d"/><stop offset="0.9391" stop-color="#461264"/><stop offset="0.9558" stop-color="#461264"/><stop offset="0.9608" stop-color="#472a79"/><stop offset="0.9708" stop-color="#472a79"/><stop offset="0.9758" stop-color="#471a6b"/><stop offset="1.0000" stop-color="#471a6b"/></linearGradient></defs>
<rect x="597" y="24.7" width="25.2" height="119.80" fill="url(#hm2)"/>
<defs><linearGradient id="hm3" gradientUnits="userSpaceOnUse" x1="0" y1="24.7" x2="0" y2="144.5"><stop offset="0.0000" stop-color="#472a79"/><stop offset="0.0067" stop-color="#472a79"/><stop offset="0.0117" stop-color="#414487"/><stop offset="0.0175" stop-color="#414487"/><stop offset="0.0225" stop-color="#472a79"/><stop offset="0.0284" stop-color="#472a79"/><stop offset="0.0334" stop-color="#461264"/><stop offset="0.0801" stop-color="#461264"/><stop offset="0.0851" stop-color="#355f8d"/><stop offset="0.0943" stop-color="#355f8d"/><stop offset="0.0993" stop-color="#44347e"/><stop offset="0.1093" stop-color="#44347e"/><stop offset="0.1144" stop-color="#375a8c"/><stop offset="0.1235" stop-color="#375a8c"/><stop offset="0.1285" stop-color="#355f8d"/><stop offset="0.1461" stop-color="#355f8d"/><stop offset="0.1511" stop-color="#44347e"/><stop offset="0.1569" stop-color="#44347e"/><stop offset="0.1619" stop-color="#355f8d"/><stop offset="0.1828" stop-color="#355f8d"/><stop offset="0.1878" stop-color="#472a79"/><stop offset="0.1937" stop-color="#472a79"/><stop offset="0.1987" stop-color="#2c738e"/><stop offset="0.2154" stop-color="#2c738e"/><stop offset="0.2204" stop-color="#229c88"/><stop offset="0.2262" stop-color="#229c88"/><stop offset="0.2312" stop-color="#238c8c"/><stop offset="0.2421" stop-color="#238c8c"/><stop offset="0.2471" stop-color="#22a884"/><stop offset="0.2496" stop-color="#22a884"/><stop offset="0.2546" stop-color="#26848d"/><stop offset="0.2638" stop-color="#26848d"/><stop offset="0.2688" stop-color="#306c8e"/><stop offset="0.2755" stop-color="#306c8e"/><stop offset="0.2805" stop-color="#21988a"/><stop offset="0.3080" stop-color="#21988a"/><stop offset="0.3130" stop-color="#2a788e"/><stop offset="0.3230" stop-color="#2a788e"/><stop offset="0.3280" stop-color="#21918c"/><stop offset="0.3339" stop-color="#21918c"/><stop offset="0.3389" stop-color="#27808d"/><stop offset="0.3523" stop-color="#27808d"/><stop offset="0.3573" stop-color="#229c88"/><stop offset="0.3673" stop-color="#229c88"/><stop offset="0.3723" stop-color="#33b47a"/><stop offset="0.3781" stop-color="#33b47a"/><stop offset="0.3831" stop-color="#27808d"/><stop offset="0.3890" stop-color="#27808d"/><stop offset="0.3940" stop-color="#21988a"/><stop offset="0.4257" stop-color="#21988a"/><stop offset="0.4307" stop-color="#33b47a"/><stop offset="0.4441" stop-color="#33b47a"/><stop offset="0.4491" stop-color="#229c88"/><stop offset="0.4591" stop-color="#229c88"/><stop offset="0.4641" stop-color="#33b47a"/><stop offset="0.4766" stop-color="#33b47a"/><stop offset="0.4816" stop-color="#21988a"/><stop offset="0.4925" stop-color="#21988a"/><stop offset="0.4975" stop-color="#22a884"/><stop offset="0.5075" stop-color="#22a884"/><stop offset="0.5125" stop-color="#3ab876"/><stop offset="0.5217" stop-color="#3ab876"/><stop offset="0.5267" stop-color="#229c88"/><stop offset="0.5367" stop-color="#229c88"/><stop offset="0.5417" stop-color="#21918c"/><stop offset="0.5626" stop-color="#21918c"/><stop offset="0.5676" stop-color="#3ab876"/><stop offset="0.5810" stop-color="#3ab876"/><stop offset="0.5860" stop-color="#dde326"/><stop offset="0.5952" stop-color="#dde326"/><stop offset="0.6002" stop-color="#5fc860"/><stop offset="0.6210" stop-color="#5fc860"/><stop offset="0.6260" stop-color="#29ad80"/><stop offset="0.6361" stop-color="#29ad80"/><stop offset="0.6411" stop-color="#5fc860"/><stop offset="0.6503" stop-color="#5fc860"/><stop offset="0.6553" stop-color="#eae525"/><stop offset="0.6761" stop-color="#eae525"/><stop offset="0.6811" stop-color="#5fc860"/><stop offset="0.7012" stop-color="#5fc860"/><stop offset="0.7062" stop-color="#9bd83c"/><stop offset="0.7129" stop-color="#9bd83c"/><stop offset="0.7179" stop-color="#44bf70"/><stop offset="0.7204" stop-color="#44bf70"/><stop offset="0.7254" stop-color="#dde326"/><stop offset="0.7346" stop-color="#dde326"/><stop offset="0.7396" stop-color="#5fc860"/><stop offset="0.7429" stop-color="#5fc860"/><stop offset="0.7479" stop-color="#9bd83c"/><stop offset="0.7579" stop-color="#9bd83c"/><stop offset="0.7629" stop-color="#dde326"/><stop offset="0.7905" stop-color="#dde326"/><stop offset="0.7955" stop-color="#21918c"/><stop offset="0.8013" stop-color="#21918c"/><stop offset="0.8063" stop-color="#2c738e"/><stop offset="0.8239" stop-color="#2c738e"/><stop offset="0.8289" stop-color="#229c88"/><stop offset="0.8347" stop-color="#229c88"/><stop offset="0.8397" stop-color="#26848d"/><stop offset="0.8681" stop-color="#26848d"/><stop offset="0.8731" stop-color="#21918c"/><stop offset="0.8973" stop-color="#21918c"/><stop offset="0.9023" stop-color="#229c88"/><stop offset="0.9115" stop-color="#229c88"/><stop offset="0.9165" stop-color="#22a884"/><stop offset="0.9299" stop-color="#22a884"/><stop offset="0.9349" stop-color="#461264"/><stop offset="0.9708" stop-color="#461264"/><stop offset="0.9758" stop-color="#472a79"/><stop offset="0.9783" stop-color="#472a79"/><stop offset="0.9833" stop-color="#461264"/><stop offset="1.0000" stop-color="#461264"/></linearGradient></defs>
<rect x="622" y="24.7" width="25.0" height="119.80" fill="url(#hm3)"/>
<text x="559.1" y="154.3" font-size="7.3" fill="#222" stroke="#222" stroke-width="0.12" text-anchor="middle" textLength="24.2" lengthAdjust="spacingAndGlyphs" >Stroma</text>
<text x="584.6" y="154.3" font-size="7.3" fill="#222" stroke="#222" stroke-width="0.12" text-anchor="middle" textLength="17.5" lengthAdjust="spacingAndGlyphs" >hTSC</text>
<text x="608" y="154.3" font-size="7.3" fill="#222" stroke="#222" stroke-width="0.12" text-anchor="middle" textLength="12.8" lengthAdjust="spacingAndGlyphs" >EVT</text>
<text x="633.7" y="154.3" font-size="7.3" fill="#222" stroke="#222" stroke-width="0.12" text-anchor="middle" textLength="16.4" lengthAdjust="spacingAndGlyphs" >SynT</text>
<text x="652.8" y="30.9" font-size="6.3" fill="#222" stroke="#222" stroke-width="0.12" textLength="16.34" lengthAdjust="spacingAndGlyphs" >CCR7</text>
<text x="652.8" y="37.0" font-size="6.3" fill="#222" stroke="#222" stroke-width="0.12" textLength="15.0" lengthAdjust="spacingAndGlyphs" >FZD5</text>
<text x="652.8" y="42.7" font-size="6.3" fill="#222" stroke="#222" stroke-width="0.12" textLength="18.68" lengthAdjust="spacingAndGlyphs" >LOXL2</text>
<text x="652.8" y="48.7" font-size="6.3" fill="#222" stroke="#222" stroke-width="0.12" textLength="15.56" lengthAdjust="spacingAndGlyphs" >LVRN</text>
<text x="652.8" y="54.6" font-size="6.3" fill="#222" stroke="#222" stroke-width="0.12" textLength="15.34" lengthAdjust="spacingAndGlyphs" >SAA1</text>
<text x="652.8" y="61.2" font-size="6.3" fill="#222" stroke="#222" stroke-width="0.12" textLength="22.0" lengthAdjust="spacingAndGlyphs" >TWIST1</text>
<text x="652.8" y="65.6" font-size="6.3" fill="#222" stroke="#222" stroke-width="0.12" textLength="16.34" lengthAdjust="spacingAndGlyphs" >NOS3</text>
<text x="652.8" y="71.8" font-size="6.3" fill="#222" stroke="#222" stroke-width="0.12" textLength="22.35" lengthAdjust="spacingAndGlyphs" >SLC7A7</text>
<text x="652.8" y="79.8" font-size="6.3" fill="#222" stroke="#222" stroke-width="0.12" textLength="14.34" lengthAdjust="spacingAndGlyphs" >ELF3</text>
<text x="652.8" y="88.4" font-size="6.3" fill="#222" stroke="#222" stroke-width="0.12" textLength="21.23" lengthAdjust="spacingAndGlyphs" >ERVV-1</text>
<text x="652.8" y="94.0" font-size="6.3" fill="#222" stroke="#222" stroke-width="0.12" textLength="21.23" lengthAdjust="spacingAndGlyphs" >ERVV-2</text>
<text x="652.8" y="106.6" font-size="6.3" fill="#222" stroke="#222" stroke-width="0.12" textLength="32.01" lengthAdjust="spacingAndGlyphs" >PSG cluster</text>
<text x="652.8" y="111.8" font-size="6.3" fill="#222" stroke="#222" stroke-width="0.12" textLength="11.34" lengthAdjust="spacingAndGlyphs" >LEP</text>
<text x="652.8" y="117.0" font-size="6.3" fill="#222" stroke="#222" stroke-width="0.12" textLength="16.0" lengthAdjust="spacingAndGlyphs" >JUND</text>
<text x="652.8" y="122.0" font-size="6.3" fill="#222" stroke="#222" stroke-width="0.12" textLength="13.0" lengthAdjust="spacingAndGlyphs" >ENG</text>
<text x="652.8" y="128.9" font-size="6.3" fill="#222" stroke="#222" stroke-width="0.12" textLength="14.23" lengthAdjust="spacingAndGlyphs" >LY6E</text>
<text x="652.8" y="136.5" font-size="6.3" fill="#222" stroke="#222" stroke-width="0.12" textLength="19.67" lengthAdjust="spacingAndGlyphs" >CSF1R</text>
<line x1="649.9" y1="29.6" x2="649.9" y2="34.3" stroke="#222" stroke-width="0.7" />
<line x1="647.2" y1="34.3" x2="650.3" y2="34.3" stroke="#222" stroke-width="0.7" />
<line x1="647.2" y1="40.4" x2="650.2" y2="40.4" stroke="#222" stroke-width="0.7" />
<line x1="647.2" y1="46.3" x2="650.2" y2="46.3" stroke="#222" stroke-width="0.7" />
<line x1="647.2" y1="50.1" x2="650.6" y2="50.1" stroke="#222" stroke-width="0.7" />
<line x1="650.6" y1="50.1" x2="650.6" y2="53.6" stroke="#222" stroke-width="0.7" />
<line x1="647.4" y1="57.8" x2="648.6" y2="57.8" stroke="#222" stroke-width="0.7" />
<line x1="648.6" y1="57.8" x2="650.6" y2="61.6" stroke="#222" stroke-width="0.7" />
<line x1="647.2" y1="65.8" x2="650.6" y2="65.8" stroke="#222" stroke-width="0.7" />
<line x1="650.6" y1="65.8" x2="650.6" y2="68.6" stroke="#222" stroke-width="0.7" />
<line x1="647.2" y1="77.5" x2="650.4" y2="77.5" stroke="#222" stroke-width="0.7" />
<line x1="647.2" y1="87.4" x2="650.3" y2="87.4" stroke="#222" stroke-width="0.7" />
<line x1="650.3" y1="87.4" x2="650.3" y2="90.5" stroke="#222" stroke-width="0.7" />
<line x1="647.0" y1="102.4" x2="650.3" y2="102.4" stroke="#222" stroke-width="0.7" />
<line x1="650.3" y1="102.4" x2="650.3" y2="106.4" stroke="#222" stroke-width="0.7" />
<line x1="647.0" y1="106.4" x2="650.3" y2="106.4" stroke="#222" stroke-width="0.7" />
<line x1="647.6" y1="109.5" x2="650.4" y2="109.5" stroke="#222" stroke-width="0.7" />
<line x1="647.6" y1="114.7" x2="650.4" y2="114.7" stroke="#222" stroke-width="0.7" />
<line x1="647.6" y1="119.8" x2="650.4" y2="119.8" stroke="#222" stroke-width="0.7" />
<line x1="647.6" y1="126.9" x2="650.4" y2="126.9" stroke="#222" stroke-width="0.7" />
<line x1="647.6" y1="134.5" x2="650.4" y2="134.5" stroke="#222" stroke-width="0.7" />
<text transform="translate(0.2,187.8) scale(1.15,1)" font-size="11.5" font-weight="bold" fill="#000" stroke="#000" stroke-width="0.45">d</text>
<text x="75.5" y="205.5" font-size="6.0" fill="#7d2fc0" stroke="#7d2fc0" stroke-width="0.12" textLength="13.2" lengthAdjust="spacingAndGlyphs" >PSG8</text>
<text x="59.3" y="212.4" font-size="6.0" fill="#7d2fc0" stroke="#7d2fc0" stroke-width="0.12" textLength="12.7" lengthAdjust="spacingAndGlyphs" >PSG3</text>
<text x="136.4" y="212.4" font-size="6.0" fill="#7d2fc0" stroke="#7d2fc0" stroke-width="0.12" textLength="12.9" lengthAdjust="spacingAndGlyphs" >PSG1</text>
<text x="155.1" y="205.5" font-size="6.0" fill="#7d2fc0" stroke="#7d2fc0" stroke-width="0.12" textLength="13.6" lengthAdjust="spacingAndGlyphs" >PSG6</text>
<text x="166.9" y="212.4" font-size="6.0" fill="#7d2fc0" stroke="#7d2fc0" stroke-width="0.12" textLength="13.2" lengthAdjust="spacingAndGlyphs" >PSG7</text>
<text x="209" y="212.4" font-size="6.0" fill="#7d2fc0" stroke="#7d2fc0" stroke-width="0.12" textLength="14.1" lengthAdjust="spacingAndGlyphs" >PSG11</text>
<text x="241.9" y="212.9" font-size="6.0" fill="#7d2fc0" stroke="#7d2fc0" stroke-width="0.12" textLength="13.2" lengthAdjust="spacingAndGlyphs" >PSG2</text>
<text x="296.7" y="205.5" font-size="6.0" fill="#7d2fc0" stroke="#7d2fc0" stroke-width="0.12" textLength="13.2" lengthAdjust="spacingAndGlyphs" >PSG5</text>
<text x="309.9" y="212.4" font-size="6.0" fill="#7d2fc0" stroke="#7d2fc0" stroke-width="0.12" textLength="13.2" lengthAdjust="spacingAndGlyphs" >PSG4</text>
<text x="342" y="212.4" font-size="6.0" fill="#7d2fc0" stroke="#7d2fc0" stroke-width="0.12" textLength="13.7" lengthAdjust="spacingAndGlyphs" >PSG9</text>
<line x1="91.5" y1="200.2" x2="98" y2="200.2" stroke="#6a22b0" stroke-width="0.7" />
<path d="M90.20,200.20 l2.6,-1.6 v3.2 Z" fill="#6a22b0"/>
<rect x="93.00" y="198.80" width="1.0" height="2.8" fill="#6a22b0"/>
<path d="M93.95,198.70 l2.3,1.5 l-2.3,1.5 Z" fill="#6a22b0"/>
<path d="M96.05,198.70 l2.3,1.5 l-2.3,1.5 Z" fill="#6a22b0"/>
<line x1="91.5" y1="203.4" x2="98" y2="203.4" stroke="#6a22b0" stroke-width="0.7" />
<path d="M90.20,203.40 l2.6,-1.6 v3.2 Z" fill="#6a22b0"/>
<rect x="93.00" y="202.00" width="1.0" height="2.8" fill="#6a22b0"/>
<path d="M93.95,201.90 l2.3,1.5 l-2.3,1.5 Z" fill="#6a22b0"/>
<path d="M96.05,201.90 l2.3,1.5 l-2.3,1.5 Z" fill="#6a22b0"/>
<line x1="91.5" y1="207.3" x2="98" y2="207.3" stroke="#6a22b0" stroke-width="0.7" />
<path d="M90.20,207.30 l2.6,-1.6 v3.2 Z" fill="#6a22b0"/>
<rect x="93.00" y="205.90" width="1.0" height="2.8" fill="#6a22b0"/>
<path d="M93.95,205.80 l2.3,1.5 l-2.3,1.5 Z" fill="#6a22b0"/>
<path d="M96.05,205.80 l2.3,1.5 l-2.3,1.5 Z" fill="#6a22b0"/>
<line x1="74.7" y1="210.3" x2="84.8" y2="210.3" stroke="#6a22b0" stroke-width="0.7" />
<path d="M73.40,210.30 l2.6,-1.6 v3.2 Z" fill="#6a22b0"/>
<rect x="77.64" y="208.90" width="1.0" height="2.8" fill="#6a22b0"/>
<path d="M79.38,208.80 l2.3,1.5 l-2.3,1.5 Z" fill="#6a22b0"/>
<path d="M82.49,208.80 l2.3,1.5 l-2.3,1.5 Z" fill="#6a22b0"/>
<line x1="152" y1="208.2" x2="159" y2="208.2" stroke="#6a22b0" stroke-width="0.7" />
<path d="M150.70,208.20 l2.6,-1.6 v3.2 Z" fill="#6a22b0"/>
<rect x="153.70" y="206.80" width="1.0" height="2.8" fill="#6a22b0"/>
<path d="M154.76,206.70 l2.3,1.5 l-2.3,1.5 Z" fill="#6a22b0"/>
<path d="M157.00,206.70 l2.3,1.5 l-2.3,1.5 Z" fill="#6a22b0"/>
<line x1="152" y1="212.2" x2="159" y2="212.2" stroke="#6a22b0" stroke-width="0.7" />
<path d="M150.70,212.20 l2.6,-1.6 v3.2 Z" fill="#6a22b0"/>
<rect x="153.70" y="210.80" width="1.0" height="2.8" fill="#6a22b0"/>
<path d="M154.76,210.70 l2.3,1.5 l-2.3,1.5 Z" fill="#6a22b0"/>
<path d="M157.00,210.70 l2.3,1.5 l-2.3,1.5 Z" fill="#6a22b0"/>
<line x1="171" y1="201.7" x2="179.6" y2="201.7" stroke="#6a22b0" stroke-width="0.7" />
<path d="M169.70,201.70 l2.6,-1.6 v3.2 Z" fill="#6a22b0"/>
<rect x="173.34" y="200.30" width="1.0" height="2.8" fill="#6a22b0"/>
<path d="M174.75,200.20 l2.3,1.5 l-2.3,1.5 Z" fill="#6a22b0"/>
<path d="M177.44,200.20 l2.3,1.5 l-2.3,1.5 Z" fill="#6a22b0"/>
<line x1="171" y1="205.2" x2="179.6" y2="205.2" stroke="#6a22b0" stroke-width="0.7" />
<path d="M169.70,205.20 l2.6,-1.6 v3.2 Z" fill="#6a22b0"/>
<rect x="173.34" y="203.80" width="1.0" height="2.8" fill="#6a22b0"/>
<path d="M174.75,203.70 l2.3,1.5 l-2.3,1.5 Z" fill="#6a22b0"/>
<path d="M177.44,203.70 l2.3,1.5 l-2.3,1.5 Z" fill="#6a22b0"/>
<line x1="182.9" y1="208.2" x2="190.1" y2="208.2" stroke="#6a22b0" stroke-width="0.7" />
<path d="M181.60,208.20 l2.6,-1.6 v3.2 Z" fill="#6a22b0"/>
<rect x="184.68" y="206.80" width="1.0" height="2.8" fill="#6a22b0"/>
<path d="M185.78,206.70 l2.3,1.5 l-2.3,1.5 Z" fill="#6a22b0"/>
<path d="M188.08,206.70 l2.3,1.5 l-2.3,1.5 Z" fill="#6a22b0"/>
<line x1="182.9" y1="212.2" x2="190.1" y2="212.2" stroke="#6a22b0" stroke-width="0.7" />
<path d="M181.60,212.20 l2.6,-1.6 v3.2 Z" fill="#6a22b0"/>
<rect x="184.68" y="210.80" width="1.0" height="2.8" fill="#6a22b0"/>
<path d="M185.78,210.70 l2.3,1.5 l-2.3,1.5 Z" fill="#6a22b0"/>
<path d="M188.08,210.70 l2.3,1.5 l-2.3,1.5 Z" fill="#6a22b0"/>
<line x1="227.1" y1="208.2" x2="237.5" y2="208.2" stroke="#6a22b0" stroke-width="0.7" />
<path d="M225.80,208.20 l2.6,-1.6 v3.2 Z" fill="#6a22b0"/>
<rect x="230.16" y="206.80" width="1.0" height="2.8" fill="#6a22b0"/>
<path d="M231.97,206.70 l2.3,1.5 l-2.3,1.5 Z" fill="#6a22b0"/>
<path d="M235.16,206.70 l2.3,1.5 l-2.3,1.5 Z" fill="#6a22b0"/>
<line x1="227.1" y1="212.2" x2="237.5" y2="212.2" stroke="#6a22b0" stroke-width="0.7" />
<path d="M225.80,212.20 l2.6,-1.6 v3.2 Z" fill="#6a22b0"/>
<rect x="230.16" y="210.80" width="1.0" height="2.8" fill="#6a22b0"/>
<path d="M231.97,210.70 l2.3,1.5 l-2.3,1.5 Z" fill="#6a22b0"/>
<path d="M235.16,210.70 l2.3,1.5 l-2.3,1.5 Z" fill="#6a22b0"/>
<line x1="257.4" y1="210.8" x2="267.1" y2="210.8" stroke="#6a22b0" stroke-width="0.7" />
<path d="M256.10,210.80 l2.6,-1.6 v3.2 Z" fill="#6a22b0"/>
<rect x="260.18" y="209.40" width="1.0" height="2.8" fill="#6a22b0"/>
<path d="M261.83,209.30 l2.3,1.5 l-2.3,1.5 Z" fill="#6a22b0"/>
<path d="M264.83,209.30 l2.3,1.5 l-2.3,1.5 Z" fill="#6a22b0"/>
<line x1="312.3" y1="203.4" x2="323.1" y2="203.4" stroke="#6a22b0" stroke-width="0.7" />
<path d="M311.00,203.40 l2.6,-1.6 v3.2 Z" fill="#6a22b0"/>
<rect x="315.52" y="202.00" width="1.0" height="2.8" fill="#6a22b0"/>
<path d="M317.42,201.90 l2.3,1.5 l-2.3,1.5 Z" fill="#6a22b0"/>
<path d="M320.72,201.90 l2.3,1.5 l-2.3,1.5 Z" fill="#6a22b0"/>
<line x1="325.9" y1="208.2" x2="332.8" y2="208.2" stroke="#6a22b0" stroke-width="0.7" />
<path d="M324.60,208.20 l2.6,-1.6 v3.2 Z" fill="#6a22b0"/>
<rect x="327.56" y="206.80" width="1.0" height="2.8" fill="#6a22b0"/>
<path d="M328.60,206.70 l2.3,1.5 l-2.3,1.5 Z" fill="#6a22b0"/>
<path d="M330.81,206.70 l2.3,1.5 l-2.3,1.5 Z" fill="#6a22b0"/>
<line x1="325.9" y1="212.2" x2="332.8" y2="212.2" stroke="#6a22b0" stroke-width="0.7" />
<path d="M324.60,212.20 l2.6,-1.6 v3.2 Z" fill="#6a22b0"/>
<rect x="327.56" y="210.80" width="1.0" height="2.8" fill="#6a22b0"/>
<path d="M328.60,210.70 l2.3,1.5 l-2.3,1.5 Z" fill="#6a22b0"/>
<path d="M330.81,210.70 l2.3,1.5 l-2.3,1.5 Z" fill="#6a22b0"/>
<line x1="358.1" y1="208.2" x2="367.1" y2="208.2" stroke="#6a22b0" stroke-width="0.7" />
<path d="M356.80,208.20 l2.6,-1.6 v3.2 Z" fill="#6a22b0"/>
<rect x="360.60" y="206.80" width="1.0" height="2.8" fill="#6a22b0"/>
<path d="M362.10,206.70 l2.3,1.5 l-2.3,1.5 Z" fill="#6a22b0"/>
<path d="M364.90,206.70 l2.3,1.5 l-2.3,1.5 Z" fill="#6a22b0"/>
<line x1="358.1" y1="212.2" x2="367.1" y2="212.2" stroke="#6a22b0" stroke-width="0.7" />
<path d="M356.80,212.20 l2.6,-1.6 v3.2 Z" fill="#6a22b0"/>
<rect x="360.60" y="210.80" width="1.0" height="2.8" fill="#6a22b0"/>
<path d="M362.10,210.70 l2.3,1.5 l-2.3,1.5 Z" fill="#6a22b0"/>
<path d="M364.90,210.70 l2.3,1.5 l-2.3,1.5 Z" fill="#6a22b0"/>
<text x="40.3" y="220.5" font-size="6.0" fill="#222" stroke="#222" stroke-width="0.12" textLength="18.5" lengthAdjust="spacingAndGlyphs" >MER11D</text>
<text x="40.3" y="226.1" font-size="6.0" fill="#d33" stroke="#d33" stroke-width="0.12" textLength="15.5" lengthAdjust="spacingAndGlyphs" >LTR8B</text>
<line x1="69.3" y1="217.6" x2="69.3" y2="219.8" stroke="#666" stroke-width="0.8" />
<line x1="133.8" y1="217.6" x2="133.8" y2="219.8" stroke="#666" stroke-width="0.8" />
<line x1="225.2" y1="217.6" x2="225.2" y2="219.8" stroke="#666" stroke-width="0.8" />
<line x1="255.5" y1="217.6" x2="255.5" y2="219.8" stroke="#666" stroke-width="0.8" />
<line x1="310.5" y1="217.6" x2="310.5" y2="219.8" stroke="#666" stroke-width="0.8" />
<line x1="356.2" y1="217.6" x2="356.2" y2="219.8" stroke="#666" stroke-width="0.8" />
<line x1="81.3" y1="223.2" x2="81.3" y2="225.6" stroke="#e03030" stroke-width="0.9" />
<line x1="94.9" y1="223.2" x2="94.9" y2="225.6" stroke="#e03030" stroke-width="0.9" />
<line x1="109.6" y1="223.2" x2="109.6" y2="225.6" stroke="#e03030" stroke-width="0.9" />
<line x1="143.1" y1="223.2" x2="143.1" y2="225.6" stroke="#e03030" stroke-width="0.9" />
<line x1="156" y1="223.2" x2="156" y2="225.6" stroke="#e03030" stroke-width="0.9" />
<line x1="176.6" y1="223.2" x2="176.6" y2="225.6" stroke="#e03030" stroke-width="0.9" />
<line x1="186.3" y1="223.2" x2="186.3" y2="225.6" stroke="#e03030" stroke-width="0.9" />
<line x1="234.4" y1="223.2" x2="234.4" y2="225.6" stroke="#e03030" stroke-width="0.9" />
<line x1="245.5" y1="223.2" x2="245.5" y2="225.6" stroke="#e03030" stroke-width="0.9" />
<line x1="264.5" y1="223.2" x2="264.5" y2="225.6" stroke="#e03030" stroke-width="0.9" />
<line x1="275.4" y1="223.2" x2="275.4" y2="225.6" stroke="#e03030" stroke-width="0.9" />
<line x1="319.6" y1="223.2" x2="319.6" y2="225.6" stroke="#e03030" stroke-width="0.9" />
<line x1="329.8" y1="223.2" x2="329.8" y2="225.6" stroke="#e03030" stroke-width="0.9" />
<line x1="342.5" y1="223.2" x2="342.5" y2="225.6" stroke="#e03030" stroke-width="0.9" />
<line x1="364.2" y1="223.2" x2="364.2" y2="225.6" stroke="#e03030" stroke-width="0.9" />
<line x1="40.4" y1="227.3" x2="40.4" y2="240.3" stroke="#666" stroke-width="0.8" />
<line x1="38.8" y1="227.3" x2="40.4" y2="227.3" stroke="#666" stroke-width="0.6" />
<line x1="38.8" y1="240.3" x2="40.4" y2="240.3" stroke="#666" stroke-width="0.6" />
<line x1="40.8" y1="240.9" x2="371.5" y2="240.9" stroke="#dcdcdc" stroke-width="0.7" />
<text x="30.8" y="236.3" font-size="7.0" fill="#5f9c3a" stroke="#5f9c3a" stroke-width="0.12" text-anchor="end" textLength="26.7" lengthAdjust="spacingAndGlyphs" >H3K4me3</text>
<text x="38.2" y="228.8" font-size="3.2" fill="#666" stroke="#666" stroke-width="0.12" text-anchor="end" >7</text>
<text x="38.2" y="241.5" font-size="3.2" fill="#666" stroke="#666" stroke-width="0.12" text-anchor="end" >0</text>
<line x1="40.4" y1="241.1" x2="40.4" y2="254.2" stroke="#666" stroke-width="0.8" />
<line x1="38.8" y1="241.1" x2="40.4" y2="241.1" stroke="#666" stroke-width="0.6" />
<line x1="38.8" y1="254.2" x2="40.4" y2="254.2" stroke="#666" stroke-width="0.6" />
<line x1="40.8" y1="254.79999999999998" x2="371.5" y2="254.79999999999998" stroke="#dcdcdc" stroke-width="0.7" />
<text x="30.8" y="250.14999999999998" font-size="7.0" fill="#f0a030" stroke="#f0a030" stroke-width="0.12" text-anchor="end" textLength="26.3" lengthAdjust="spacingAndGlyphs" >H3K4me1</text>
<text x="38.2" y="242.6" font-size="3.2" fill="#666" stroke="#666" stroke-width="0.12" text-anchor="end" >15</text>
<text x="38.2" y="255.39999999999998" font-size="3.2" fill="#666" stroke="#666" stroke-width="0.12" text-anchor="end" >0</text>
<line x1="40.4" y1="255.1" x2="40.4" y2="268.1" stroke="#666" stroke-width="0.8" />
<line x1="38.8" y1="255.1" x2="40.4" y2="255.1" stroke="#666" stroke-width="0.6" />
<line x1="38.8" y1="268.1" x2="40.4" y2="268.1" stroke="#666" stroke-width="0.6" />
<line x1="40.8" y1="268.70000000000005" x2="371.5" y2="268.70000000000005" stroke="#dcdcdc" stroke-width="0.7" />
<text x="30.8" y="264.1" font-size="7.0" fill="#4a8ee0" stroke="#4a8ee0" stroke-width="0.12" text-anchor="end" textLength="24.2" lengthAdjust="spacingAndGlyphs" >H3K27ac</text>
<text x="38.2" y="256.6" font-size="3.2" fill="#666" stroke="#666" stroke-width="0.12" text-anchor="end" >50</text>
<text x="38.2" y="269.3" font-size="3.2" fill="#666" stroke="#666" stroke-width="0.12" text-anchor="end" >0</text>
<line x1="40.4" y1="269.3" x2="40.4" y2="282.7" stroke="#666" stroke-width="0.8" />
<line x1="38.8" y1="269.3" x2="40.4" y2="269.3" stroke="#666" stroke-width="0.6" />
<line x1="38.8" y1="282.7" x2="40.4" y2="282.7" stroke="#666" stroke-width="0.6" />
<line x1="40.8" y1="283.3" x2="371.5" y2="283.3" stroke="#dcdcdc" stroke-width="0.7" />
<text x="30.8" y="277.6" font-size="7.0" fill="#aaa" stroke="#aaa" stroke-width="0.12" text-anchor="end" textLength="14.4" lengthAdjust="spacingAndGlyphs" >hTSC</text>
<text x="38.2" y="270.8" font-size="3.2" fill="#666" stroke="#666" stroke-width="0.12" text-anchor="end" >50</text>
<text x="38.2" y="283.9" font-size="3.2" fill="#666" stroke="#666" stroke-width="0.12" text-anchor="end" >0</text>
<line x1="40.4" y1="283.5" x2="40.4" y2="296.8" stroke="#666" stroke-width="0.8" />
<line x1="38.8" y1="283.5" x2="40.4" y2="283.5" stroke="#666" stroke-width="0.6" />
<line x1="38.8" y1="296.8" x2="40.4" y2="296.8" stroke="#666" stroke-width="0.6" />
<line x1="40.8" y1="297.40000000000003" x2="371.5" y2="297.40000000000003" stroke="#dcdcdc" stroke-width="0.7" />
<text x="30.8" y="291.75" font-size="7.0" fill="#aaa" stroke="#aaa" stroke-width="0.12" text-anchor="end" textLength="10.3" lengthAdjust="spacingAndGlyphs" >EVT</text>
<text x="38.2" y="285.0" font-size="3.2" fill="#666" stroke="#666" stroke-width="0.12" text-anchor="end" >50</text>
<text x="38.2" y="298.0" font-size="3.2" fill="#666" stroke="#666" stroke-width="0.12" text-anchor="end" >0</text>
<line x1="40.4" y1="297.6" x2="40.4" y2="309.8" stroke="#666" stroke-width="0.8" />
<line x1="38.8" y1="297.6" x2="40.4" y2="297.6" stroke="#666" stroke-width="0.6" />
<line x1="38.8" y1="309.8" x2="40.4" y2="309.8" stroke="#666" stroke-width="0.6" />
<line x1="40.8" y1="310.40000000000003" x2="371.5" y2="310.40000000000003" stroke="#dcdcdc" stroke-width="0.7" />
<text x="30.8" y="305.30000000000007" font-size="7.0" fill="#aaa" stroke="#aaa" stroke-width="0.12" text-anchor="end" textLength="13.2" lengthAdjust="spacingAndGlyphs" >SynT</text>
<text x="38.2" y="299.1" font-size="3.2" fill="#666" stroke="#666" stroke-width="0.12" text-anchor="end" >100</text>
<text x="38.2" y="311.0" font-size="3.2" fill="#666" stroke="#666" stroke-width="0.12" text-anchor="end" >0</text>
<line x1="40.8" y1="227.0" x2="371.5" y2="227.0" stroke="#dcdcdc" stroke-width="0.7" />
<line x1="13.4" y1="270" x2="13.4" y2="309" stroke="#999" stroke-width="0.7" />
<text transform="translate(10.4,296.3) rotate(-90)" font-size="6.0" fill="#aaa" stroke="#aaa" stroke-width="0.12" textLength="11.5" lengthAdjust="spacingAndGlyphs" >RNA</text>
<path d="M40.90,240.3M51.40,240.3L51.40,239.71L52.10,239.71L52.10,240.3ZL52.10,240.3M54.90,240.3L54.90,239.98L55.60,239.98L55.60,240.19L56.30,240.19L56.30,240.3ZL56.30,240.3M57.00,240.3L57.00,240.02L57.70,240.02L57.70,240.3ZL57.70,240.3M67.50,240.3L67.50,240.11L68.20,240.11L68.20,239.00L68.90,239.00L68.90,239.00L69.60,239.00L69.60,240.3ZL69.60,240.3M72.40,240.3L72.40,240.17L73.10,240.17L73.10,240.3ZL73.10,240.3M75.90,240.3L75.90,239.92L76.60,239.92L76.60,240.3ZL76.60,240.3M80.80,240.3L80.80,239.97L81.50,239.97L81.50,239.20L82.20,239.20L82.20,239.92L82.90,239.92L82.90,239.82L83.60,239.82L83.60,240.3ZL83.60,240.3M93.40,240.3L93.40,240.00L94.10,240.00L94.10,238.60L94.80,238.60L94.80,238.60L95.50,238.60L95.50,239.70L96.20,239.70L96.20,240.15L96.90,240.15L96.90,240.3ZL96.90,240.3M101.80,240.3L101.80,240.25L102.50,240.25L102.50,240.3ZL102.50,240.3M118.60,240.3L118.60,239.72L119.30,239.72L119.30,240.3ZL119.30,240.3M124.90,240.3L124.90,240.16L125.60,240.16L125.60,240.3ZL125.60,240.3M129.80,240.3L129.80,240.14L130.50,240.14L130.50,240.3ZL130.50,240.3M131.20,240.3L131.20,240.19L131.90,240.19L131.90,240.3ZL131.90,240.3M141.70,240.3L141.70,239.87L142.40,239.87L142.40,239.04L143.10,239.04L143.10,236.60L143.80,236.60L143.80,236.60L144.50,236.60L144.50,238.64L145.20,238.64L145.20,239.76L145.90,239.76L145.90,240.3ZL145.90,240.3M166.90,240.3L166.90,239.94L167.60,239.94L167.60,240.3ZL167.60,240.3M172.50,240.3L172.50,240.12L173.20,240.12L173.20,240.3ZL173.20,240.3M174.60,240.3L174.60,240.21L175.30,240.21L175.30,239.63L176.00,239.63L176.00,238.32L176.70,238.32L176.70,236.40L177.40,236.40L177.40,236.40L178.10,236.40L178.10,239.23L178.80,239.23L178.80,239.99L179.50,239.99L179.50,240.3ZL179.50,240.3M184.40,240.3L184.40,240.11L185.10,240.11L185.10,239.82L185.80,239.82L185.80,239.00L186.50,239.00L186.50,239.00L187.20,239.00L187.20,239.83L187.90,239.83L187.90,240.14L188.60,240.14L188.60,240.3ZL188.60,240.3M199.10,240.3L199.10,239.87L199.80,239.87L199.80,240.3ZL199.80,240.3M201.90,240.3L201.90,240.22L202.60,240.22L202.60,240.3ZL202.60,240.3M203.30,240.3L203.30,239.80L204.00,239.80L204.00,240.3ZL204.00,240.3M205.40,240.3L205.40,239.92L206.10,239.92L206.10,240.3ZL206.10,240.3M211.00,240.3L211.00,239.20L211.70,239.20L211.70,239.20L212.40,239.20L212.40,240.02L213.10,240.02L213.10,240.3ZL213.10,240.3M244.60,240.3L244.60,239.81L245.30,239.81L245.30,239.82L246.00,239.82L246.00,240.3ZL246.00,240.3M253.00,240.3L253.00,240.20L253.70,240.20L253.70,239.20L254.40,239.20L254.40,240.13L255.10,240.13L255.10,240.3ZL255.10,240.3M262.80,240.3L262.80,239.64L263.50,239.64L263.50,238.24L264.20,238.24L264.20,234.60L264.90,234.60L264.90,234.60L265.60,234.60L265.60,237.30L266.30,237.30L266.30,239.08L267.00,239.08L267.00,239.93L267.70,239.93L267.70,240.3ZL267.70,240.3M269.80,240.3L269.80,239.72L270.50,239.72L270.50,240.3ZL270.50,240.3M274.70,240.3L274.70,239.98L275.40,239.98L275.40,240.3ZL275.40,240.3M285.90,240.3L285.90,239.30L286.60,239.30L286.60,239.30L287.30,239.30L287.30,240.3ZL287.30,240.3M318.10,240.3L318.10,239.21L318.80,239.21L318.80,237.10L319.50,237.10L319.50,233.51L320.20,233.51L320.20,227.80L320.90,227.80L320.90,232.63L321.60,232.63L321.60,236.51L322.30,236.51L322.30,238.91L323.00,238.91L323.00,240.3ZL323.00,240.3M325.80,240.3L325.80,240.24L326.50,240.24L326.50,239.97L327.20,239.97L327.20,240.3ZL327.20,240.3M329.30,240.3L329.30,240.17L330.00,240.17L330.00,238.80L330.70,238.80L330.70,238.80L331.40,238.80L331.40,240.03L332.10,240.03L332.10,240.3ZL332.10,240.3M333.50,240.3L333.50,239.73L334.20,239.73L334.20,240.3ZL334.20,240.3M339.10,240.3L339.10,239.88L339.80,239.88L339.80,240.3ZL339.80,240.3M345.40,240.3L345.40,239.76L346.10,239.76L346.10,240.3ZL346.10,240.3M361.50,240.3L361.50,240.09L362.20,240.09L362.20,240.3ZL362.20,240.3M362.90,240.3L362.90,240.09L363.60,240.09L363.60,239.94L364.30,239.94L364.30,238.80L365.00,238.80L365.00,238.80L365.70,238.80L365.70,240.22L366.40,240.22L366.40,240.3ZL366.40,240.3" fill="#3f7f1f"/>
<line x1="52" y1="239.5" x2="52" y2="240.3" stroke="#b5d0a0" stroke-width="0.6" />
<line x1="60" y1="239.5" x2="60" y2="240.3" stroke="#b5d0a0" stroke-width="0.6" />
<line x1="75" y1="239.5" x2="75" y2="240.3" stroke="#b5d0a0" stroke-width="0.6" />
<line x1="88" y1="239.5" x2="88" y2="240.3" stroke="#b5d0a0" stroke-width="0.6" />
<line x1="100" y1="239.5" x2="100" y2="240.3" stroke="#b5d0a0" stroke-width="0.6" />
<line x1="115" y1="239.5" x2="115" y2="240.3" stroke="#b5d0a0" stroke-width="0.6" />
<line x1="125" y1="239.5" x2="125" y2="240.3" stroke="#b5d0a0" stroke-width="0.6" />
<line x1="135" y1="239.5" x2="135" y2="240.3" stroke="#b5d0a0" stroke-width="0.6" />
<line x1="150" y1="239.5" x2="150" y2="240.3" stroke="#b5d0a0" stroke-width="0.6" />
<line x1="160" y1="239.5" x2="160" y2="240.3" stroke="#b5d0a0" stroke-width="0.6" />
<line x1="170" y1="239.5" x2="170" y2="240.3" stroke="#b5d0a0" stroke-width="0.6" />
<line x1="195" y1="239.5" x2="195" y2="240.3" stroke="#b5d0a0" stroke-width="0.6" />
<line x1="200" y1="239.5" x2="200" y2="240.3" stroke="#b5d0a0" stroke-width="0.6" />
<line x1="220" y1="239.5" x2="220" y2="240.3" stroke="#b5d0a0" stroke-width="0.6" />
<line x1="230" y1="239.5" x2="230" y2="240.3" stroke="#b5d0a0" stroke-width="0.6" />
<line x1="240" y1="239.5" x2="240" y2="240.3" stroke="#b5d0a0" stroke-width="0.6" />
<line x1="280" y1="239.5" x2="280" y2="240.3" stroke="#b5d0a0" stroke-width="0.6" />
<line x1="300" y1="239.5" x2="300" y2="240.3" stroke="#b5d0a0" stroke-width="0.6" />
<line x1="310" y1="239.5" x2="310" y2="240.3" stroke="#b5d0a0" stroke-width="0.6" />
<line x1="340" y1="239.5" x2="340" y2="240.3" stroke="#b5d0a0" stroke-width="0.6" />
<line x1="350" y1="239.5" x2="350" y2="240.3" stroke="#b5d0a0" stroke-width="0.6" />
<line x1="360" y1="239.5" x2="360" y2="240.3" stroke="#b5d0a0" stroke-width="0.6" />
<path d="M40.90,254.2M40.90,254.2L40.90,250.70L41.60,250.70L41.60,250.70L42.30,250.70L42.30,253.39L43.00,253.39L43.00,254.2ZL43.00,254.2M43.70,254.2L43.70,249.20L44.40,249.20L44.40,249.20L45.10,249.20L45.10,252.92L45.80,252.92L45.80,253.71L46.50,253.71L46.50,252.90L47.20,252.90L47.20,253.44L47.90,253.44L47.90,252.00L48.60,252.00L48.60,254.2ZL48.60,254.2M52.10,254.2L52.10,253.90L52.80,253.90L52.80,254.2ZL52.80,254.2M53.50,254.2L53.50,253.50L54.20,253.50L54.20,254.2ZL54.20,254.2M56.30,254.2L56.30,253.14L57.00,253.14L57.00,253.75L57.70,253.75L57.70,254.2ZL57.70,254.2M58.40,254.2L58.40,253.53L59.10,253.53L59.10,252.00L59.80,252.00L59.80,252.00L60.50,252.00L60.50,253.04L61.20,253.04L61.20,254.09L61.90,254.09L61.90,254.2ZL61.90,254.2M62.60,254.2L62.60,252.85L63.30,252.85L63.30,252.67L64.00,252.67L64.00,254.2ZL64.00,254.2M64.70,254.2L64.70,253.86L65.40,253.86L65.40,254.2ZL65.40,254.2M66.10,254.2L66.10,251.53L66.80,251.53L66.80,250.74L67.50,250.74L67.50,249.90L68.20,249.90L68.20,249.90L68.90,249.90L68.90,250.43L69.60,250.43L69.60,251.47L70.30,251.47L70.30,253.36L71.00,253.36L71.00,253.81L71.70,253.81L71.70,254.10L72.40,254.10L72.40,254.2ZL72.40,254.2M73.10,254.2L73.10,253.31L73.80,253.31L73.80,253.89L74.50,253.89L74.50,254.2ZL74.50,254.2M75.20,254.2L75.20,253.17L75.90,253.17L75.90,253.53L76.60,253.53L76.60,251.00L77.30,251.00L77.30,251.00L78.00,251.00L78.00,254.2ZL78.00,254.2M78.70,254.2L78.70,252.78L79.40,252.78L79.40,253.57L80.10,253.57L80.10,250.88L80.80,250.88L80.80,248.50L81.50,248.50L81.50,250.49L82.20,250.49L82.20,252.44L82.90,252.44L82.90,250.00L83.60,250.00L83.60,250.00L84.30,250.00L84.30,254.06L85.00,254.06L85.00,254.2ZL85.00,254.2M85.70,254.2L85.70,253.24L86.40,253.24L86.40,253.47L87.10,253.47L87.10,252.00L87.80,252.00L87.80,252.00L88.50,252.00L88.50,254.2ZL88.50,254.2M89.20,254.2L89.20,253.95L89.90,253.95L89.90,254.2ZL89.90,254.2M91.30,254.2L91.30,253.90L92.00,253.90L92.00,254.2ZL92.00,254.2M92.70,254.2L92.70,252.86L93.40,252.86L93.40,250.58L94.10,250.58L94.10,249.65L94.80,249.65L94.80,249.31L95.50,249.31L95.50,249.20L96.20,249.20L96.20,250.29L96.90,250.29L96.90,250.09L97.60,250.09L97.60,250.85L98.30,250.85L98.30,253.51L99.00,253.51L99.00,253.92L99.70,253.92L99.70,254.2ZL99.70,254.2M100.40,254.2L100.40,253.83L101.10,253.83L101.10,254.2ZL101.10,254.2M103.20,254.2L103.20,252.73L103.90,252.73L103.90,254.2ZL103.90,254.2M104.60,254.2L104.60,253.49L105.30,253.49L105.30,253.92L106.00,253.92L106.00,253.28L106.70,253.28L106.70,253.62L107.40,253.62L107.40,252.30L108.10,252.30L108.10,252.30L108.80,252.30L108.80,253.40L109.50,253.40L109.50,254.2ZL109.50,254.2M110.90,254.2L110.90,254.14L111.60,254.14L111.60,252.74L112.30,252.74L112.30,253.42L113.00,253.42L113.00,253.17L113.70,253.17L113.70,252.50L114.40,252.50L114.40,252.50L115.10,252.50L115.10,252.60L115.80,252.60L115.80,253.33L116.50,253.33L116.50,254.2ZL116.50,254.2M120.70,254.2L120.70,253.10L121.40,253.10L121.40,254.2ZL121.40,254.2M122.80,254.2L122.80,252.94L123.50,252.94L123.50,252.30L124.20,252.30L124.20,252.30L124.90,252.30L124.90,253.65L125.60,253.65L125.60,253.27L126.30,253.27L126.30,254.2ZL126.30,254.2M127.00,254.2L127.00,252.26L127.70,252.26L127.70,251.40L128.40,251.40L128.40,252.99L129.10,252.99L129.10,254.2ZL129.10,254.2M129.80,254.2L129.80,253.02L130.50,253.02L130.50,254.2ZL130.50,254.2M131.20,254.2L131.20,251.53L131.90,251.53L131.90,250.00L132.60,250.00L132.60,250.00L133.30,250.00L133.30,252.64L134.00,252.64L134.00,254.2ZL134.00,254.2M134.70,254.2L134.70,253.22L135.40,253.22L135.40,254.2ZL135.40,254.2M136.80,254.2L136.80,253.11L137.50,253.11L137.50,253.93L138.20,253.93L138.20,254.2ZL138.20,254.2M139.60,254.2L139.60,252.77L140.30,252.77L140.30,253.13L141.00,253.13L141.00,252.23L141.70,252.23L141.70,251.94L142.40,251.94L142.40,250.70L143.10,250.70L143.10,250.70L143.80,250.70L143.80,251.99L144.50,251.99L144.50,252.44L145.20,252.44L145.20,252.86L145.90,252.86L145.90,254.2ZL145.90,254.2M148.00,254.2L148.00,253.93L148.70,253.93L148.70,253.76L149.40,253.76L149.40,253.54L150.10,253.54L150.10,254.2ZL150.10,254.2M150.80,254.2L150.80,253.70L151.50,253.70L151.50,254.2ZL151.50,254.2M152.90,254.2L152.90,254.08L153.60,254.08L153.60,252.80L154.30,252.80L154.30,250.20L155.00,250.20L155.00,250.20L155.70,250.20L155.70,251.34L156.40,251.34L156.40,253.98L157.10,253.98L157.10,254.2ZL157.10,254.2M158.50,254.2L158.50,253.97L159.20,253.97L159.20,253.19L159.90,253.19L159.90,253.19L160.60,253.19L160.60,254.2ZL160.60,254.2M161.30,254.2L161.30,252.92L162.00,252.92L162.00,250.70L162.70,250.70L162.70,250.70L163.40,250.70L163.40,253.44L164.10,253.44L164.10,254.2ZL164.10,254.2M164.80,254.2L164.80,253.06L165.50,253.06L165.50,253.76L166.20,253.76L166.20,253.08L166.90,253.08L166.90,252.82L167.60,252.82L167.60,252.00L168.30,252.00L168.30,252.00L169.00,252.00L169.00,252.39L169.70,252.39L169.70,254.2ZL169.70,254.2M170.40,254.2L170.40,252.71L171.10,252.71L171.10,254.2ZL171.10,254.2M171.80,254.2L171.80,253.47L172.50,253.47L172.50,254.2ZL172.50,254.2M173.90,254.2L173.90,253.29L174.60,253.29L174.60,254.2ZL174.60,254.2M176.70,254.2L176.70,253.16L177.40,253.16L177.40,252.82L178.10,252.82L178.10,251.50L178.80,251.50L178.80,251.50L179.50,251.50L179.50,254.2ZL179.50,254.2M180.20,254.2L180.20,252.76L180.90,252.76L180.90,254.2ZL180.90,254.2M183.70,254.2L183.70,252.74L184.40,252.74L184.40,252.99L185.10,252.99L185.10,250.69L185.80,250.69L185.80,249.92L186.50,249.92L186.50,250.37L187.20,250.37L187.20,248.50L187.90,248.50L187.90,249.40L188.60,249.40L188.60,250.66L189.30,250.66L189.30,251.87L190.00,251.87L190.00,253.39L190.70,253.39L190.70,253.96L191.40,253.96L191.40,254.2ZL191.40,254.2M194.90,254.2L194.90,252.68L195.60,252.68L195.60,253.85L196.30,253.85L196.30,252.50L197.00,252.50L197.00,252.50L197.70,252.50L197.70,254.2ZL197.70,254.2M200.50,254.2L200.50,253.59L201.20,253.59L201.20,254.2ZL201.20,254.2M202.60,254.2L202.60,252.84L203.30,252.84L203.30,254.2ZL203.30,254.2M204.00,254.2L204.00,253.46L204.70,253.46L204.70,248.73L205.40,248.73L205.40,244.80L206.10,244.80L206.10,248.15L206.80,248.15L206.80,251.16L207.50,251.16L207.50,248.50L208.20,248.50L208.20,248.50L208.90,248.50L208.90,252.92L209.60,252.92L209.60,254.2ZL209.60,254.2M210.30,254.2L210.30,253.09L211.00,253.09L211.00,252.71L211.70,252.71L211.70,250.00L212.40,250.00L212.40,251.95L213.10,251.95L213.10,252.70L213.80,252.70L213.80,251.64L214.50,251.64L214.50,251.40L215.20,251.40L215.20,251.40L215.90,251.40L215.90,252.56L216.60,252.56L216.60,250.50L217.30,250.50L217.30,251.94L218.00,251.94L218.00,252.89L218.70,252.89L218.70,253.09L219.40,253.09L219.40,253.10L220.10,253.10L220.10,253.63L220.80,253.63L220.80,254.2ZL220.80,254.2M221.50,254.2L221.50,253.03L222.20,253.03L222.20,251.63L222.90,251.63L222.90,249.20L223.60,249.20L223.60,251.22L224.30,251.22L224.30,253.60L225.00,253.60L225.00,253.35L225.70,253.35L225.70,253.87L226.40,253.87L226.40,254.2ZL226.40,254.2M230.60,254.2L230.60,253.01L231.30,253.01L231.30,249.50L232.00,249.50L232.00,249.50L232.70,249.50L232.70,251.87L233.40,251.87L233.40,252.17L234.10,252.17L234.10,250.70L234.80,250.70L234.80,250.70L235.50,250.70L235.50,251.15L236.20,251.15L236.20,251.74L236.90,251.74L236.90,251.38L237.60,251.38L237.60,249.80L238.30,249.80L238.30,252.53L239.00,252.53L239.00,253.56L239.70,253.56L239.70,254.2ZL239.70,254.2M240.40,254.2L240.40,253.88L241.10,253.88L241.10,254.2ZL241.10,254.2M243.20,254.2L243.20,253.39L243.90,253.39L243.90,254.2ZL243.90,254.2M244.60,254.2L244.60,247.00L245.30,247.00L245.30,247.00L246.00,247.00L246.00,254.09L246.70,254.09L246.70,251.40L247.40,251.40L247.40,251.40L248.10,251.40L248.10,254.2ZL248.10,254.2M249.50,254.2L249.50,253.90L250.20,253.90L250.20,252.86L250.90,252.86L250.90,254.2ZL250.90,254.2M252.30,254.2L252.30,254.10L253.00,254.10L253.00,253.08L253.70,253.08L253.70,249.41L254.40,249.41L254.40,247.70L255.10,247.70L255.10,247.70L255.80,247.70L255.80,249.31L256.50,249.31L256.50,251.81L257.20,251.81L257.20,254.2ZL257.20,254.2M257.90,254.2L257.90,253.47L258.60,253.47L258.60,254.2ZL258.60,254.2M259.30,254.2L259.30,253.89L260.00,253.89L260.00,253.38L260.70,253.38L260.70,252.77L261.40,252.77L261.40,254.2ZL261.40,254.2M262.10,254.2L262.10,243.30L262.80,243.30L262.80,243.30L263.50,243.30L263.50,252.85L264.20,252.85L264.20,253.24L264.90,253.24L264.90,248.37L265.60,248.37L265.60,246.30L266.30,246.30L266.30,246.30L267.00,246.30L267.00,250.05L267.70,250.05L267.70,254.2ZL267.70,254.2M269.80,254.2L269.80,252.77L270.50,252.77L270.50,254.2ZL270.50,254.2M273.30,254.2L273.30,253.04L274.00,253.04L274.00,251.40L274.70,251.40L274.70,251.40L275.40,251.40L275.40,253.18L276.10,253.18L276.10,254.2ZL276.10,254.2M276.80,254.2L276.80,252.69L277.50,252.69L277.50,254.2ZL277.50,254.2M278.20,254.2L278.20,253.14L278.90,253.14L278.90,254.2ZL278.90,254.2M280.30,254.2L280.30,252.60L281.00,252.60L281.00,252.79L281.70,252.79L281.70,251.40L282.40,251.40L282.40,252.56L283.10,252.56L283.10,254.2ZL283.10,254.2M283.80,254.2L283.80,253.22L284.50,253.22L284.50,254.2ZL284.50,254.2M285.20,254.2L285.20,247.78L285.90,247.78L285.90,244.80L286.60,244.80L286.60,244.80L287.30,244.80L287.30,252.75L288.00,252.75L288.00,253.11L288.70,253.11L288.70,247.00L289.40,247.00L289.40,247.00L290.10,247.00L290.10,250.70L290.80,250.70L290.80,250.20L291.50,250.20L291.50,250.20L292.20,250.20L292.20,254.2ZL292.20,254.2M292.90,254.2L292.90,253.24L293.60,253.24L293.60,254.2ZL293.60,254.2M294.30,254.2L294.30,252.71L295.00,252.71L295.00,253.45L295.70,253.45L295.70,253.41L296.40,253.41L296.40,254.2ZL296.40,254.2M297.10,254.2L297.10,252.69L297.80,252.69L297.80,253.36L298.50,253.36L298.50,254.2ZL298.50,254.2M299.20,254.2L299.20,253.74L299.90,253.74L299.90,249.67L300.60,249.67L300.60,247.00L301.30,247.00L301.30,250.06L302.00,250.06L302.00,254.2ZL302.00,254.2M302.70,254.2L302.70,254.13L303.40,254.13L303.40,252.83L304.10,252.83L304.10,250.68L304.80,250.68L304.80,249.05L305.50,249.05L305.50,247.86L306.20,247.86L306.20,248.32L306.90,248.32L306.90,247.70L307.60,247.70L307.60,248.85L308.30,248.85L308.30,250.62L309.00,250.62L309.00,249.97L309.70,249.97L309.70,250.65L310.40,250.65L310.40,251.75L311.10,251.75L311.10,252.63L311.80,252.63L311.80,254.2ZL311.80,254.2M313.20,254.2L313.20,253.20L313.90,253.20L313.90,253.87L314.60,253.87L314.60,251.74L315.30,251.74L315.30,249.20L316.00,249.20L316.00,250.48L316.70,250.48L316.70,253.78L317.40,253.78L317.40,254.2ZL317.40,254.2M318.10,254.2L318.10,252.96L318.80,252.96L318.80,254.2ZL318.80,254.2M320.20,254.2L320.20,248.73L320.90,248.73L320.90,246.30L321.60,246.30L321.60,246.30L322.30,246.30L322.30,249.26L323.00,249.26L323.00,254.2ZL323.00,254.2M324.40,254.2L324.40,253.77L325.10,253.77L325.10,254.2ZL325.10,254.2M327.90,254.2L327.90,251.95L328.60,251.95L328.60,251.13L329.30,251.13L329.30,250.20L330.00,250.20L330.00,250.78L330.70,250.78L330.70,251.32L331.40,251.32L331.40,254.10L332.10,254.10L332.10,253.52L332.80,253.52L332.80,254.2ZL332.80,254.2M333.50,254.2L333.50,253.33L334.20,253.33L334.20,254.06L334.90,254.06L334.90,254.03L335.60,254.03L335.60,253.82L336.30,253.82L336.30,253.35L337.00,253.35L337.00,253.34L337.70,253.34L337.70,253.48L338.40,253.48L338.40,253.51L339.10,253.51L339.10,253.41L339.80,253.41L339.80,253.23L340.50,253.23L340.50,253.00L341.20,253.00L341.20,253.00L341.90,253.00L341.90,253.04L342.60,253.04L342.60,253.35L343.30,253.35L343.30,252.90L344.00,252.90L344.00,253.15L344.70,253.15L344.70,253.26L345.40,253.26L345.40,253.32L346.10,253.32L346.10,253.83L346.80,253.83L346.80,254.2ZL346.80,254.2M347.50,254.2L347.50,253.61L348.20,253.61L348.20,252.80L348.90,252.80L348.90,254.07L349.60,254.07L349.60,254.2ZL349.60,254.2M350.30,254.2L350.30,253.10L351.00,253.10L351.00,252.96L351.70,252.96L351.70,253.86L352.40,253.86L352.40,254.2ZL352.40,254.2M353.10,254.2L353.10,253.71L353.80,253.71L353.80,254.2ZL353.80,254.2M354.50,254.2L354.50,252.00L355.20,252.00L355.20,252.00L355.90,252.00L355.90,253.04L356.60,253.04L356.60,254.01L357.30,254.01L357.30,254.2ZL357.30,254.2M360.80,254.2L360.80,252.92L361.50,252.92L361.50,253.69L362.20,253.69L362.20,249.92L362.90,249.92L362.90,249.93L363.60,249.93L363.60,247.00L364.30,247.00L364.30,249.36L365.00,249.36L365.00,248.76L365.70,248.76L365.70,249.20L366.40,249.20L366.40,249.20L367.10,249.20L367.10,253.61L367.80,253.61L367.80,254.2ZL367.80,254.2M369.20,254.2L369.20,252.50L369.90,252.50L369.90,252.50L370.60,252.50L370.60,254.02L371.30,254.02L371.30,254.2Z" fill="#f0a030"/>
<path d="M40.90,268.1M45.10,268.1L45.10,267.59L45.80,267.59L45.80,268.1ZL45.80,268.1M47.20,268.1L47.20,267.80L47.90,267.80L47.90,267.29L48.60,267.29L48.60,268.1ZL48.60,268.1M49.30,268.1L49.30,267.12L50.00,267.12L50.00,268.1ZL50.00,268.1M52.10,268.1L52.10,267.81L52.80,267.81L52.80,267.30L53.50,267.30L53.50,267.30L54.20,267.30L54.20,268.01L54.90,268.01L54.90,267.64L55.60,267.64L55.60,268.1ZL55.60,268.1M57.00,268.1L57.00,267.73L57.70,267.73L57.70,267.30L58.40,267.30L58.40,267.77L59.10,267.77L59.10,268.1ZL59.10,268.1M65.40,268.1L65.40,267.60L66.10,267.60L66.10,267.01L66.80,267.01L66.80,266.00L67.50,266.00L67.50,266.00L68.20,266.00L68.20,267.39L68.90,267.39L68.90,267.94L69.60,267.94L69.60,268.1ZL69.60,268.1M70.30,268.1L70.30,267.89L71.00,267.89L71.00,268.1ZL71.00,268.1M73.80,268.1L73.80,267.47L74.50,267.47L74.50,268.1ZL74.50,268.1M75.90,268.1L75.90,267.77L76.60,267.77L76.60,268.1ZL76.60,268.1M78.00,268.1L78.00,267.85L78.70,267.85L78.70,267.99L79.40,267.99L79.40,266.61L80.10,266.61L80.10,265.21L80.80,265.21L80.80,262.40L81.50,262.40L81.50,264.57L82.20,264.57L82.20,266.41L82.90,266.41L82.90,267.68L83.60,267.68L83.60,268.1ZL83.60,268.1M84.30,268.1L84.30,268.04L85.00,268.04L85.00,267.61L85.70,267.61L85.70,267.00L86.40,267.00L86.40,267.67L87.10,267.67L87.10,268.1ZL87.10,268.1M90.60,268.1L90.60,267.11L91.30,267.11L91.30,268.1ZL91.30,268.1M92.00,268.1L92.00,267.87L92.70,267.87L92.70,266.78L93.40,266.78L93.40,265.74L94.10,265.74L94.10,263.90L94.80,263.90L94.80,265.57L95.50,265.57L95.50,266.94L96.20,266.94L96.20,268.01L96.90,268.01L96.90,268.1ZL96.90,268.1M101.80,268.1L101.80,267.95L102.50,267.95L102.50,268.1ZL102.50,268.1M103.90,268.1L103.90,267.80L104.60,267.80L104.60,267.30L105.30,267.30L105.30,267.73L106.00,267.73L106.00,267.15L106.70,267.15L106.70,268.1ZL106.70,268.1M110.90,268.1L110.90,267.77L111.60,267.77L111.60,267.30L112.30,267.30L112.30,267.76L113.00,267.76L113.00,268.05L113.70,268.05L113.70,268.1ZL113.70,268.1M114.40,268.1L114.40,267.38L115.10,267.38L115.10,267.87L115.80,267.87L115.80,268.1ZL115.80,268.1M120.00,268.1L120.00,267.71L120.70,267.71L120.70,267.30L121.40,267.30L121.40,267.82L122.10,267.82L122.10,268.1ZL122.10,268.1M123.50,268.1L123.50,267.74L124.20,267.74L124.20,268.1ZL124.20,268.1M128.40,268.1L128.40,267.19L129.10,267.19L129.10,268.1ZL129.10,268.1M130.50,268.1L130.50,267.46L131.20,267.46L131.20,267.11L131.90,267.11L131.90,266.36L132.60,266.36L132.60,264.90L133.30,264.90L133.30,266.50L134.00,266.50L134.00,267.34L134.70,267.34L134.70,268.03L135.40,268.03L135.40,268.1ZL135.40,268.1M139.60,268.1L139.60,267.90L140.30,267.90L140.30,267.18L141.00,267.18L141.00,266.26L141.70,266.26L141.70,265.46L142.40,265.46L142.40,263.90L143.10,263.90L143.10,265.28L143.80,265.28L143.80,266.26L144.50,266.26L144.50,267.35L145.20,267.35L145.20,268.00L145.90,268.00L145.90,268.1ZL145.90,268.1M147.30,268.1L147.30,267.46L148.00,267.46L148.00,268.1ZL148.00,268.1M153.60,268.1L153.60,267.35L154.30,267.35L154.30,265.84L155.00,265.84L155.00,262.40L155.70,262.40L155.70,262.40L156.40,262.40L156.40,266.49L157.10,266.49L157.10,268.1ZL157.10,268.1M159.90,268.1L159.90,267.80L160.60,267.80L160.60,267.92L161.30,267.92L161.30,267.30L162.00,267.30L162.00,267.19L162.70,267.19L162.70,267.91L163.40,267.91L163.40,268.1ZL163.40,268.1M166.20,268.1L166.20,267.45L166.90,267.45L166.90,265.81L167.60,265.81L167.60,262.40L168.30,262.40L168.30,262.40L169.00,262.40L169.00,265.52L169.70,265.52L169.70,267.14L170.40,267.14L170.40,268.1ZL170.40,268.1M171.10,268.1L171.10,267.60L171.80,267.60L171.80,268.1ZL171.80,268.1M173.90,268.1L173.90,267.79L174.60,267.79L174.60,267.34L175.30,267.34L175.30,266.90L176.00,266.90L176.00,266.10L176.70,266.10L176.70,266.10L177.40,266.10L177.40,267.10L178.10,267.10L178.10,267.64L178.80,267.64L178.80,267.97L179.50,267.97L179.50,268.1ZL179.50,268.1M183.70,268.1L183.70,267.39L184.40,267.39L184.40,267.45L185.10,267.45L185.10,266.10L185.80,266.10L185.80,266.10L186.50,266.10L186.50,267.13L187.20,267.13L187.20,267.69L187.90,267.69L187.90,267.27L188.60,267.27L188.60,268.1ZL188.60,268.1M194.90,268.1L194.90,267.62L195.60,267.62L195.60,268.1ZL195.60,268.1M197.70,268.1L197.70,267.83L198.40,267.83L198.40,268.1ZL198.40,268.1M204.00,268.1L204.00,267.17L204.70,267.17L204.70,268.1ZL204.70,268.1M205.40,268.1L205.40,267.65L206.10,267.65L206.10,267.61L206.80,267.61L206.80,266.80L207.50,266.80L207.50,267.48L208.20,267.48L208.20,268.03L208.90,268.03L208.90,267.76L209.60,267.76L209.60,267.30L210.30,267.30L210.30,267.74L211.00,267.74L211.00,268.1ZL211.00,268.1M213.80,268.1L213.80,267.85L214.50,267.85L214.50,267.30L215.20,267.30L215.20,267.30L215.90,267.30L215.90,268.01L216.60,268.01L216.60,268.1ZL216.60,268.1M221.50,268.1L221.50,267.72L222.20,267.72L222.20,267.31L222.90,267.31L222.90,266.86L223.60,266.86L223.60,266.10L224.30,266.10L224.30,266.79L225.00,266.79L225.00,267.28L225.70,267.28L225.70,267.29L226.40,267.29L226.40,267.30L227.10,267.30L227.10,267.76L227.80,267.76L227.80,268.1ZL227.80,268.1M228.50,268.1L228.50,267.95L229.20,267.95L229.20,268.1ZL229.20,268.1M232.00,268.1L232.00,266.66L232.70,266.66L232.70,265.07L233.40,265.07L233.40,261.70L234.10,261.70L234.10,261.70L234.80,261.70L234.80,266.03L235.50,266.03L235.50,267.64L236.20,267.64L236.20,268.1ZL236.20,268.1M243.90,268.1L243.90,267.35L244.60,267.35L244.60,264.60L245.30,264.60L245.30,264.60L246.00,264.60L246.00,267.28L246.70,267.28L246.70,268.1ZL246.70,268.1M248.80,268.1L248.80,267.13L249.50,267.13L249.50,268.1ZL249.50,268.1M250.90,268.1L250.90,267.97L251.60,267.97L251.60,267.04L252.30,267.04L252.30,266.26L253.00,266.26L253.00,264.88L253.70,264.88L253.70,263.10L254.40,263.10L254.40,265.05L255.10,265.05L255.10,266.11L255.80,266.11L255.80,266.91L256.50,266.91L256.50,267.85L257.20,267.85L257.20,268.1ZL257.20,268.1M257.90,268.1L257.90,267.67L258.60,267.67L258.60,268.1ZL258.60,268.1M261.40,268.1L261.40,267.48L262.10,267.48L262.10,265.49L262.80,265.49L262.80,263.38L263.50,263.38L263.50,258.40L264.20,258.40L264.20,258.40L264.90,258.40L264.90,261.90L265.60,261.90L265.60,264.43L266.30,264.43L266.30,266.35L267.00,266.35L267.00,268.04L267.70,268.04L267.70,267.37L268.40,267.37L268.40,267.59L269.10,267.59L269.10,268.1ZL269.10,268.1M269.80,268.1L269.80,267.57L270.50,267.57L270.50,268.1ZL270.50,268.1M273.30,268.1L273.30,267.90L274.00,267.90L274.00,268.1ZL274.00,268.1M285.20,268.1L285.20,267.63L285.90,267.63L285.90,266.80L286.60,266.80L286.60,266.80L287.30,266.80L287.30,267.27L288.00,267.27L288.00,268.1ZL288.00,268.1M289.40,268.1L289.40,267.70L290.10,267.70L290.10,268.1ZL290.10,268.1M290.80,268.1L290.80,267.90L291.50,267.90L291.50,268.1ZL291.50,268.1M293.60,268.1L293.60,267.59L294.30,267.59L294.30,268.1ZL294.30,268.1M296.40,268.1L296.40,268.03L297.10,268.03L297.10,268.1ZL297.10,268.1M299.90,268.1L299.90,267.92L300.60,267.92L300.60,267.65L301.30,267.65L301.30,267.00L302.00,267.00L302.00,267.61L302.70,267.61L302.70,268.03L303.40,268.03L303.40,268.04L304.10,268.04L304.10,268.1ZL304.10,268.1M306.20,268.1L306.20,267.57L306.90,267.57L306.90,266.69L307.60,266.69L307.60,265.68L308.30,265.68L308.30,263.90L309.00,263.90L309.00,263.90L309.70,263.90L309.70,265.78L310.40,265.78L310.40,266.77L311.10,266.77L311.10,267.58L311.80,267.58L311.80,268.1ZL311.80,268.1M313.20,268.1L313.20,267.93L313.90,267.93L313.90,268.1ZL313.90,268.1M314.60,268.1L314.60,267.21L315.30,267.21L315.30,268.1ZL315.30,268.1M317.40,268.1L317.40,267.26L318.10,267.26L318.10,266.37L318.80,266.37L318.80,264.92L319.50,264.92L319.50,263.10L320.20,263.10L320.20,263.10L320.90,263.10L320.90,265.92L321.60,265.92L321.60,266.91L322.30,266.91L322.30,267.76L323.00,267.76L323.00,268.1ZL323.00,268.1M327.20,268.1L327.20,267.83L327.90,267.83L327.90,266.75L328.60,266.75L328.60,265.24L329.30,265.24L329.30,263.10L330.00,263.10L330.00,265.24L330.70,265.24L330.70,266.72L331.40,266.72L331.40,268.00L332.10,268.00L332.10,267.74L332.80,267.74L332.80,268.1ZL332.80,268.1M339.80,268.1L339.80,267.94L340.50,267.94L340.50,267.00L341.20,267.00L341.20,267.00L341.90,267.00L341.90,267.78L342.60,267.78L342.60,268.1ZL342.60,268.1M343.30,268.1L343.30,267.48L344.00,267.48L344.00,268.1ZL344.00,268.1M346.10,268.1L346.10,267.90L346.80,267.90L346.80,268.1ZL346.80,268.1M347.50,268.1L347.50,267.85L348.20,267.85L348.20,268.1ZL348.20,268.1M353.80,268.1L353.80,267.50L354.50,267.50L354.50,266.10L355.20,266.10L355.20,266.10L355.90,266.10L355.90,267.63L356.60,267.63L356.60,267.60L357.30,267.60L357.30,268.1ZL357.30,268.1M358.00,268.1L358.00,267.15L358.70,267.15L358.70,268.1ZL358.70,268.1M362.20,268.1L362.20,266.30L362.90,266.30L362.90,262.79L363.60,262.79L363.60,256.50L364.30,256.50L364.30,262.14L365.00,262.14L365.00,266.00L365.70,266.00L365.70,267.85L366.40,267.85L366.40,267.94L367.10,267.94L367.10,268.1ZL367.10,268.1M367.80,268.1L367.80,267.73L368.50,267.73L368.50,267.00L369.20,267.00L369.20,267.00L369.90,267.00L369.90,267.11L370.60,267.11L370.60,268.1ZL370.60,268.1" fill="#4a8ee0"/>
<path d="M40.90,296.8M48.25,296.8L48.25,296.48L48.60,296.48L48.60,296.8ZL48.60,296.8M58.05,296.8L58.05,296.67L58.40,296.67L58.40,296.8ZL58.40,296.8M72.40,296.8L72.40,295.64L72.75,295.64L72.75,293.82L73.10,293.82L73.10,294.87L73.45,294.87L73.45,289.90L73.80,289.90L73.80,289.90L74.15,289.90L74.15,295.23L74.50,295.23L74.50,295.14L74.85,295.14L74.85,294.12L75.20,294.12L75.20,295.91L75.55,295.91L75.55,296.8ZL75.55,296.8M75.90,296.8L75.90,295.52L76.25,295.52L76.25,293.44L76.60,293.44L76.60,293.35L76.95,293.35L76.95,290.99L77.30,290.99L77.30,287.00L77.65,287.00L77.65,294.54L78.00,294.54L78.00,294.11L78.35,294.11L78.35,294.08L78.70,294.08L78.70,293.76L79.05,293.76L79.05,290.00L79.40,290.00L79.40,290.00L79.75,290.00L79.75,294.43L80.10,294.43L80.10,294.74L80.45,294.74L80.45,296.62L80.80,296.62L80.80,296.8ZL80.80,296.8M81.15,296.8L81.15,296.06L81.50,296.06L81.50,292.42L81.85,292.42L81.85,292.09L82.20,292.09L82.20,291.61L82.55,291.61L82.55,287.00L82.90,287.00L82.90,290.79L83.25,290.79L83.25,291.86L83.60,291.86L83.60,293.37L83.95,293.37L83.95,295.42L84.30,295.42L84.30,296.8ZL84.30,296.8M88.50,296.8L88.50,296.64L88.85,296.64L88.85,296.8ZL88.85,296.8M93.75,296.8L93.75,296.25L94.10,296.25L94.10,296.8ZL94.10,296.8M94.80,296.8L94.80,296.72L95.15,296.72L95.15,295.82L95.50,295.82L95.50,294.96L95.85,294.96L95.85,295.18L96.20,295.18L96.20,292.90L96.55,292.90L96.55,292.90L96.90,292.90L96.90,293.89L97.25,293.89L97.25,295.31L97.60,295.31L97.60,295.90L97.95,295.90L97.95,296.58L98.30,296.58L98.30,296.8ZL98.30,296.8M111.25,296.8L111.25,296.62L111.60,296.62L111.60,296.8ZL111.60,296.8M126.65,296.8L126.65,296.72L127.00,296.72L127.00,296.8ZL127.00,296.8M132.60,296.8L132.60,296.52L132.95,296.52L132.95,296.8ZL132.95,296.8M150.10,296.8L150.10,296.58L150.45,296.58L150.45,295.72L150.80,295.72L150.80,295.00L151.15,295.00L151.15,295.66L151.50,295.66L151.50,296.21L151.85,296.21L151.85,296.67L152.20,296.67L152.20,296.8ZL152.20,296.8M156.40,296.8L156.40,296.41L156.75,296.41L156.75,296.44L157.10,296.44L157.10,295.00L157.45,295.00L157.45,295.00L157.80,295.00L157.80,296.16L158.15,296.16L158.15,296.60L158.50,296.60L158.50,296.8ZL158.50,296.8M168.30,296.8L168.30,296.37L168.65,296.37L168.65,295.92L169.00,295.92L169.00,295.90L169.35,295.90L169.35,295.49L169.70,295.49L169.70,293.60L170.05,293.60L170.05,295.60L170.40,295.60L170.40,296.14L170.75,296.14L170.75,295.42L171.10,295.42L171.10,295.59L171.45,295.59L171.45,293.55L171.80,293.55L171.80,294.63L172.15,294.63L172.15,290.70L172.50,290.70L172.50,293.40L172.85,293.40L172.85,293.48L173.20,293.48L173.20,294.80L173.55,294.80L173.55,295.97L173.90,295.97L173.90,292.00L174.25,292.00L174.25,292.00L174.60,292.00L174.60,295.00L174.95,295.00L174.95,296.07L175.30,296.07L175.30,295.80L175.65,295.80L175.65,296.8ZL175.65,296.8M176.00,296.8L176.00,295.88L176.35,295.88L176.35,294.34L176.70,294.34L176.70,295.33L177.05,295.33L177.05,289.60L177.40,289.60L177.40,289.60L177.75,289.60L177.75,293.93L178.10,293.93L178.10,293.99L178.45,293.99L178.45,294.12L178.80,294.12L178.80,295.84L179.15,295.84L179.15,296.8ZL179.15,296.8M187.55,296.8L187.55,296.68L187.90,296.68L187.90,296.8ZL187.90,296.8M198.75,296.8L198.75,296.38L199.10,296.38L199.10,296.8ZL199.10,296.8M201.90,296.8L201.90,296.26L202.25,296.26L202.25,296.8ZL202.25,296.8M211.00,296.8L211.00,296.59L211.35,296.59L211.35,296.8ZL211.35,296.8M230.60,296.8L230.60,296.65L230.95,296.65L230.95,296.8ZL230.95,296.8M255.10,296.8L255.10,296.34L255.45,296.34L255.45,294.98L255.80,294.98L255.80,294.22L256.15,294.22L256.15,292.90L256.50,292.90L256.50,292.90L256.85,292.90L256.85,295.13L257.20,295.13L257.20,295.33L257.55,295.33L257.55,296.22L257.90,296.22L257.90,296.32L258.25,296.32L258.25,296.8ZL258.25,296.8M258.95,296.8L258.95,296.19L259.30,296.19L259.30,295.76L259.65,295.76L259.65,292.95L260.00,292.95L260.00,290.70L260.35,290.70L260.35,290.70L260.70,290.70L260.70,293.11L261.05,293.11L261.05,295.29L261.40,295.29L261.40,294.76L261.75,294.76L261.75,292.76L262.10,292.76L262.10,290.70L262.45,290.70L262.45,290.70L262.80,290.70L262.80,294.86L263.15,294.86L263.15,295.30L263.50,295.30L263.50,295.72L263.85,295.72L263.85,296.37L264.20,296.37L264.20,295.14L264.55,295.14L264.55,294.02L264.90,294.02L264.90,294.57L265.25,294.57L265.25,292.00L265.60,292.00L265.60,293.05L265.95,293.05L265.95,294.62L266.30,294.62L266.30,295.94L266.65,295.94L266.65,296.40L267.00,296.40L267.00,296.8ZL267.00,296.8M310.05,296.8L310.05,296.56L310.40,296.56L310.40,295.68L310.75,295.68L310.75,296.03L311.10,296.03L311.10,293.61L311.45,293.61L311.45,292.90L311.80,292.90L311.80,292.90L312.15,292.90L312.15,294.99L312.50,294.99L312.50,296.25L312.85,296.25L312.85,296.12L313.20,296.12L313.20,296.8ZL313.20,296.8M314.25,296.8L314.25,296.16L314.60,296.16L314.60,296.06L314.95,296.06L314.95,295.06L315.30,295.06L315.30,291.40L315.65,291.40L315.65,291.40L316.00,291.40L316.00,294.91L316.35,294.91L316.35,294.98L316.70,294.98L316.70,296.33L317.05,296.33L317.05,296.8ZL317.05,296.8M319.15,296.8L319.15,296.46L319.50,296.46L319.50,294.67L319.85,294.67L319.85,292.17L320.20,292.17L320.20,292.74L320.55,292.74L320.55,287.70L320.90,287.70L320.90,287.70L321.25,287.70L321.25,294.29L321.60,294.29L321.60,293.79L321.95,293.79L321.95,295.14L322.30,295.14L322.30,296.8ZL322.30,296.8M323.70,296.8L323.70,296.14L324.05,296.14L324.05,295.79L324.40,295.79L324.40,295.36L324.75,295.36L324.75,293.60L325.10,293.60L325.10,293.60L325.45,293.60L325.45,295.10L325.80,295.10L325.80,294.87L326.15,294.87L326.15,296.32L326.50,296.32L326.50,296.08L326.85,296.08L326.85,295.26L327.20,295.26L327.20,294.50L327.55,294.50L327.55,295.17L327.90,295.17L327.90,296.23L328.25,296.23L328.25,296.40L328.60,296.40L328.60,296.8ZL328.60,296.8M330.00,296.8L330.00,296.47L330.35,296.47L330.35,296.41L330.70,296.41L330.70,295.29L331.05,295.29L331.05,294.00L331.40,294.00L331.40,294.00L331.75,294.00L331.75,295.23L332.10,295.23L332.10,296.45L332.45,296.45L332.45,296.8ZL332.45,296.8M334.55,296.8L334.55,296.44L334.90,296.44L334.90,296.15L335.25,296.15L335.25,295.20L335.60,295.20L335.60,295.20L335.95,295.20L335.95,296.09L336.30,296.09L336.30,296.73L336.65,296.73L336.65,296.21L337.00,296.21L337.00,296.8ZL337.00,296.8M338.75,296.8L338.75,296.36L339.10,296.36L339.10,295.98L339.45,295.98L339.45,294.80L339.80,294.80L339.80,294.80L340.15,294.80L340.15,296.25L340.50,296.25L340.50,296.32L340.85,296.32L340.85,296.69L341.20,296.69L341.20,296.8ZL341.20,296.8M352.05,296.8L352.05,296.56L352.40,296.56L352.40,296.8ZL352.40,296.8M354.15,296.8L354.15,296.60L354.50,296.60L354.50,296.8ZL354.50,296.8M356.25,296.8L356.25,296.32L356.60,296.32L356.60,296.16L356.95,296.16L356.95,294.50L357.30,294.50L357.30,294.50L357.65,294.50L357.65,295.27L358.00,295.27L358.00,296.36L358.35,296.36L358.35,296.61L358.70,296.61L358.70,296.8ZL358.70,296.8M359.05,296.8L359.05,296.39L359.40,296.39L359.40,295.28L359.75,295.28L359.75,294.45L360.10,294.45L360.10,293.00L360.45,293.00L360.45,293.00L360.80,293.00L360.80,295.49L361.15,295.49L361.15,296.22L361.50,296.22L361.50,296.40L361.85,296.40L361.85,295.65L362.20,295.65L362.20,294.70L362.55,294.70L362.55,294.70L362.90,294.70L362.90,296.09L363.25,296.09L363.25,296.46L363.60,296.46L363.60,296.8ZL363.60,296.8M365.00,296.8L365.00,296.56L365.35,296.56L365.35,295.73L365.70,295.73L365.70,296.20L366.05,296.20L366.05,294.80L366.40,294.80L366.40,296.04L366.75,296.04L366.75,296.18L367.10,296.18L367.10,296.66L367.45,296.66L367.45,296.8ZL367.45,296.8" fill="#8a8a8a"/>
<path d="M40.90,309.8M48.25,309.8L48.25,309.48L48.60,309.48L48.60,309.8ZL48.60,309.8M58.05,309.8L58.05,309.67L58.40,309.67L58.40,309.8ZL58.40,309.8M72.40,309.8L72.40,307.81L72.75,307.81L72.75,304.70L73.10,304.70L73.10,306.51L73.45,306.51L73.45,298.00L73.80,298.00L73.80,298.00L74.15,298.00L74.15,307.12L74.50,307.12L74.50,306.96L74.85,306.96L74.85,305.22L75.20,305.22L75.20,308.27L75.55,308.27L75.55,309.8ZL75.55,309.8M75.90,309.8L75.90,308.21L76.25,308.21L76.25,305.61L76.60,305.61L76.60,305.50L76.95,305.50L76.95,302.57L77.30,302.57L77.30,297.60L77.65,297.60L77.65,306.99L78.00,306.99L78.00,306.45L78.35,306.45L78.35,306.24L78.70,306.24L78.70,305.95L79.05,305.95L79.05,298.00L79.40,298.00L79.40,298.00L79.75,298.00L79.75,303.52L80.10,303.52L80.10,308.25L80.45,308.25L80.45,308.18L80.80,308.18L80.80,309.8ZL80.80,309.8M81.15,309.8L81.15,308.00L81.50,308.00L81.50,306.41L81.85,306.41L81.85,305.12L82.20,305.12L82.20,302.10L82.55,302.10L82.55,297.60L82.90,297.60L82.90,301.27L83.25,301.27L83.25,303.28L83.60,303.28L83.60,306.60L83.95,306.60L83.95,307.69L84.30,307.69L84.30,309.8ZL84.30,309.8M88.50,309.8L88.50,309.64L88.85,309.64L88.85,309.67L89.20,309.67L89.20,309.46L89.55,309.46L89.55,309.18L89.90,309.18L89.90,308.67L90.25,308.67L90.25,308.84L90.60,308.84L90.60,308.00L90.95,308.00L90.95,308.00L91.30,308.00L91.30,308.36L91.65,308.36L91.65,309.16L92.00,309.16L92.00,309.51L92.35,309.51L92.35,309.26L92.70,309.26L92.70,309.49L93.05,309.49L93.05,309.42L93.40,309.42L93.40,309.03L93.75,309.03L93.75,308.30L94.10,308.30L94.10,308.30L94.45,308.30L94.45,309.45L94.80,309.45L94.80,309.04L95.15,309.04L95.15,309.33L95.50,309.33L95.50,309.06L95.85,309.06L95.85,308.71L96.20,308.71L96.20,308.30L96.55,308.30L96.55,308.30L96.90,308.30L96.90,309.12L97.25,309.12L97.25,309.04L97.60,309.04L97.60,309.58L97.95,309.58L97.95,309.68L98.30,309.68L98.30,309.8ZL98.30,309.8M111.25,309.8L111.25,309.62L111.60,309.62L111.60,309.8ZL111.60,309.8M126.65,309.8L126.65,309.72L127.00,309.72L127.00,309.8ZL127.00,309.8M132.60,309.8L132.60,309.52L132.95,309.52L132.95,309.8ZL132.95,309.8M149.05,309.8L149.05,309.50L149.40,309.50L149.40,309.23L149.75,309.23L149.75,307.19L150.10,307.19L150.10,308.34L150.45,308.34L150.45,304.30L150.80,304.30L150.80,304.30L151.15,304.30L151.15,308.73L151.50,308.73L151.50,308.46L151.85,308.46L151.85,308.96L152.20,308.96L152.20,309.21L152.55,309.21L152.55,308.65L152.90,308.65L152.90,308.74L153.25,308.74L153.25,307.50L153.60,307.50L153.60,308.52L153.95,308.52L153.95,309.45L154.30,309.45L154.30,309.65L154.65,309.65L154.65,309.8ZL154.65,309.8M156.05,309.8L156.05,309.64L156.40,309.64L156.40,309.14L156.75,309.14L156.75,308.19L157.10,308.19L157.10,307.50L157.45,307.50L157.45,307.50L157.80,307.50L157.80,309.18L158.15,309.18L158.15,309.40L158.50,309.40L158.50,309.70L158.85,309.70L158.85,309.8ZL158.85,309.8M168.65,309.8L168.65,309.59L169.00,309.59L169.00,308.71L169.35,308.71L169.35,308.85L169.70,308.85L169.70,307.50L170.05,307.50L170.05,309.07L170.40,309.07L170.40,308.58L170.75,308.58L170.75,308.94L171.10,308.94L171.10,305.47L171.45,305.47L171.45,307.77L171.80,307.77L171.80,306.82L172.15,306.82L172.15,299.50L172.50,299.50L172.50,305.53L172.85,305.53L172.85,303.54L173.20,303.54L173.20,305.83L173.55,305.83L173.55,308.36L173.90,308.36L173.90,303.10L174.25,303.10L174.25,303.10L174.60,303.10L174.60,305.81L174.95,305.81L174.95,308.44L175.30,308.44L175.30,309.22L175.65,309.22L175.65,309.8ZL175.65,309.8M176.00,309.8L176.00,308.57L176.35,308.57L176.35,308.25L176.70,308.25L176.70,306.64L177.05,306.64L177.05,303.90L177.40,303.90L177.40,303.90L177.75,303.90L177.75,307.74L178.10,307.74L178.10,308.04L178.45,308.04L178.45,307.61L178.80,307.61L178.80,309.20L179.15,309.20L179.15,309.8ZL179.15,309.8M187.55,309.8L187.55,309.68L187.90,309.68L187.90,309.8ZL187.90,309.8M198.75,309.8L198.75,309.38L199.10,309.38L199.10,309.8ZL199.10,309.8M201.90,309.8L201.90,309.26L202.25,309.26L202.25,309.8ZL202.25,309.8M211.00,309.8L211.00,309.59L211.35,309.59L211.35,309.8ZL211.35,309.8M230.60,309.8L230.60,309.65L230.95,309.65L230.95,309.8ZL230.95,309.8M255.10,309.8L255.10,309.34L255.45,309.34L255.45,306.91L255.80,306.91L255.80,307.35L256.15,307.35L256.15,303.90L256.50,303.90L256.50,303.90L256.85,303.90L256.85,308.41L257.20,308.41L257.20,307.22L257.55,307.22L257.55,308.73L257.90,308.73L257.90,309.45L258.25,309.45L258.25,309.8ZL258.25,309.8M258.60,309.8L258.60,309.73L258.95,309.73L258.95,308.29L259.30,308.29L259.30,304.88L259.65,304.88L259.65,306.11L260.00,306.11L260.00,298.40L260.35,298.40L260.35,298.40L260.70,298.40L260.70,306.24L261.05,306.24L261.05,303.55L261.40,303.55L261.40,305.77L261.75,305.77L261.75,306.29L262.10,306.29L262.10,301.70L262.45,301.70L262.45,301.70L262.80,301.70L262.80,305.28L263.15,305.28L263.15,307.65L263.50,307.65L263.50,308.44L263.85,308.44L263.85,308.82L264.20,308.82L264.20,306.78L264.55,306.78L264.55,305.92L264.90,305.92L264.90,305.63L265.25,305.63L265.25,302.40L265.60,302.40L265.60,307.39L265.95,307.39L265.95,305.74L266.30,305.74L266.30,308.62L266.65,308.62L266.65,308.89L267.00,308.89L267.00,309.8ZL267.00,309.8M310.05,309.8L310.05,309.01L310.40,309.01L310.40,307.49L310.75,307.49L310.75,306.11L311.10,306.11L311.10,307.32L311.45,307.32L311.45,302.80L311.80,302.80L311.80,302.80L312.15,302.80L312.15,306.36L312.50,306.36L312.50,307.64L312.85,307.64L312.85,309.32L313.20,309.32L313.20,309.8ZL313.20,309.8M313.90,309.8L313.90,309.62L314.25,309.62L314.25,307.59L314.60,307.59L314.60,304.35L314.95,304.35L314.95,306.53L315.30,306.53L315.30,298.40L315.65,298.40L315.65,298.40L316.00,298.40L316.00,304.11L316.35,304.11L316.35,305.90L316.70,305.90L316.70,307.44L317.05,307.44L317.05,309.30L317.40,309.30L317.40,309.8ZL317.40,309.8M319.15,309.8L319.15,308.36L319.50,308.36L319.50,306.77L319.85,306.77L319.85,305.11L320.20,305.11L320.20,301.83L320.55,301.83L320.55,298.40L320.90,298.40L320.90,298.40L321.25,298.40L321.25,305.85L321.60,305.85L321.60,308.21L321.95,308.21L321.95,308.43L322.30,308.43L322.30,309.8ZL322.30,309.8M323.70,309.8L323.70,308.53L324.05,308.53L324.05,305.89L324.40,305.89L324.40,307.21L324.75,307.21L324.75,298.40L325.10,298.40L325.10,298.40L325.45,298.40L325.45,305.63L325.80,305.63L325.80,307.16L326.15,307.16L326.15,306.37L326.50,306.37L326.50,307.87L326.85,307.87L326.85,307.66L327.20,307.66L327.20,303.50L327.55,303.50L327.55,308.28L327.90,308.28L327.90,307.38L328.25,307.38L328.25,307.98L328.60,307.98L328.60,309.49L328.95,309.49L328.95,309.8ZL328.95,309.8M329.65,309.8L329.65,309.24L330.00,309.24L330.00,307.58L330.35,307.58L330.35,308.58L330.70,308.58L330.70,307.30L331.05,307.30L331.05,302.80L331.40,302.80L331.40,302.80L331.75,302.80L331.75,307.07L332.10,307.07L332.10,308.16L332.45,308.16L332.45,308.81L332.80,308.81L332.80,309.8ZL332.80,309.8M334.20,309.8L334.20,309.33L334.55,309.33L334.55,308.77L334.90,308.77L334.90,308.26L335.25,308.26L335.25,307.30L335.60,307.30L335.60,307.30L335.95,307.30L335.95,308.77L336.30,308.77L336.30,309.45L336.65,309.45L336.65,309.21L337.00,309.21L337.00,309.8ZL337.00,309.8M338.75,309.8L338.75,309.37L339.10,309.37L339.10,309.02L339.45,309.02L339.45,307.30L339.80,307.30L339.80,307.30L340.15,307.30L340.15,309.26L340.50,309.26L340.50,309.11L340.85,309.11L340.85,309.45L341.20,309.45L341.20,309.8ZL341.20,309.8M352.05,309.8L352.05,309.56L352.40,309.56L352.40,309.8ZL352.40,309.8M354.15,309.8L354.15,309.60L354.50,309.60L354.50,309.8ZL354.50,309.8M359.05,309.8L359.05,309.62L359.40,309.62L359.40,308.92L359.75,308.92L359.75,308.15L360.10,308.15L360.10,307.30L360.45,307.30L360.45,307.30L360.80,307.30L360.80,308.81L361.15,308.81L361.15,309.30L361.50,309.30L361.50,309.70L361.85,309.70L361.85,309.8ZL361.85,309.8M363.95,309.8L363.95,309.41L364.30,309.41L364.30,309.34L364.65,309.34L364.65,308.00L365.00,308.00L365.00,308.00L365.35,308.00L365.35,309.06L365.70,309.06L365.70,309.63L366.05,309.63L366.05,309.8ZL366.05,309.8" fill="#8a8a8a"/>
<rect x="73.30000000000001" y="297.9" width="1.2" height="1" fill="#e85050"/>
<rect x="76.9" y="297.9" width="1.2" height="1" fill="#e85050"/>
<rect x="78.80000000000001" y="297.9" width="1.2" height="1" fill="#e85050"/>
<rect x="82.10000000000001" y="297.9" width="1.2" height="1" fill="#e85050"/>
<rect x="315.09999999999997" y="297.9" width="1.2" height="1" fill="#e85050"/>
<rect x="320.2" y="297.9" width="1.2" height="1" fill="#e85050"/>
<rect x="324.59999999999997" y="297.9" width="1.2" height="1" fill="#e85050"/>
<line x1="312" y1="281.4" x2="312" y2="282.6" stroke="#999" stroke-width="0.8" />
<line x1="315" y1="281.4" x2="315" y2="282.6" stroke="#999" stroke-width="0.8" />
<line x1="318" y1="281.4" x2="318" y2="282.6" stroke="#999" stroke-width="0.8" />
<line x1="321.5" y1="281.4" x2="321.5" y2="282.6" stroke="#999" stroke-width="0.8" />
<text x="37.7" y="317.2" font-size="6.8" fill="#111" text-anchor="end" textLength="14.5" lengthAdjust="spacingAndGlyphs" stroke="#111" stroke-width="0.22">chr19</text>
<rect x="40.3" y="312.5" width="332" height="4.0" rx="0.8" fill="none" stroke="#555" stroke-width="0.7"/>
<line x1="42.3" y1="315.1" x2="42.3" y2="316.5" stroke="#777" stroke-width="0.5" />
<line x1="47.67" y1="315.1" x2="47.67" y2="316.5" stroke="#777" stroke-width="0.5" />
<line x1="53.04" y1="315.1" x2="53.04" y2="316.5" stroke="#777" stroke-width="0.5" />
<line x1="58.41" y1="315.1" x2="58.41" y2="316.5" stroke="#777" stroke-width="0.5" />
<line x1="63.78" y1="315.1" x2="63.78" y2="316.5" stroke="#777" stroke-width="0.5" />
<line x1="69.15" y1="315.1" x2="69.15" y2="316.5" stroke="#777" stroke-width="0.5" />
<line x1="74.52" y1="315.1" x2="74.52" y2="316.5" stroke="#777" stroke-width="0.5" />
<line x1="79.89" y1="315.1" x2="79.89" y2="316.5" stroke="#777" stroke-width="0.5" />
<line x1="85.26" y1="315.1" x2="85.26" y2="316.5" stroke="#777" stroke-width="0.5" />
<line x1="90.63" y1="315.1" x2="90.63" y2="316.5" stroke="#777" stroke-width="0.5" />
<line x1="96.0" y1="315.1" x2="96.0" y2="316.5" stroke="#777" stroke-width="0.5" />
<line x1="101.37" y1="315.1" x2="101.37" y2="316.5" stroke="#777" stroke-width="0.5" />
<line x1="106.74" y1="315.1" x2="106.74" y2="316.5" stroke="#777" stroke-width="0.5" />
<line x1="112.11" y1="315.1" x2="112.11" y2="316.5" stroke="#777" stroke-width="0.5" />
<line x1="117.48" y1="315.1" x2="117.48" y2="316.5" stroke="#777" stroke-width="0.5" />
<line x1="122.85" y1="315.1" x2="122.85" y2="316.5" stroke="#777" stroke-width="0.5" />
<line x1="128.22" y1="315.1" x2="128.22" y2="316.5" stroke="#777" stroke-width="0.5" />
<line x1="133.59" y1="315.1" x2="133.59" y2="316.5" stroke="#777" stroke-width="0.5" />
<line x1="138.96" y1="315.1" x2="138.96" y2="316.5" stroke="#777" stroke-width="0.5" />
<line x1="144.33" y1="315.1" x2="144.33" y2="316.5" stroke="#777" stroke-width="0.5" />
<line x1="149.7" y1="315.1" x2="149.7" y2="316.5" stroke="#777" stroke-width="0.5" />
<line x1="155.07" y1="315.1" x2="155.07" y2="316.5" stroke="#777" stroke-width="0.5" />
<line x1="160.44" y1="315.1" x2="160.44" y2="316.5" stroke="#777" stroke-width="0.5" />
<line x1="165.81" y1="315.1" x2="165.81" y2="316.5" stroke="#777" stroke-width="0.5" />
<line x1="171.18" y1="315.1" x2="171.18" y2="316.5" stroke="#777" stroke-width="0.5" />
<line x1="176.55" y1="315.1" x2="176.55" y2="316.5" stroke="#777" stroke-width="0.5" />
<line x1="181.92" y1="315.1" x2="181.92" y2="316.5" stroke="#777" stroke-width="0.5" />
<line x1="187.29" y1="315.1" x2="187.29" y2="316.5" stroke="#777" stroke-width="0.5" />
<line x1="192.66" y1="315.1" x2="192.66" y2="316.5" stroke="#777" stroke-width="0.5" />
<line x1="198.03" y1="315.1" x2="198.03" y2="316.5" stroke="#777" stroke-width="0.5" />
<line x1="203.4" y1="315.1" x2="203.4" y2="316.5" stroke="#777" stroke-width="0.5" />
<line x1="208.77" y1="315.1" x2="208.77" y2="316.5" stroke="#777" stroke-width="0.5" />
<line x1="214.14" y1="315.1" x2="214.14" y2="316.5" stroke="#777" stroke-width="0.5" />
<line x1="219.51" y1="315.1" x2="219.51" y2="316.5" stroke="#777" stroke-width="0.5" />
<line x1="224.88" y1="315.1" x2="224.88" y2="316.5" stroke="#777" stroke-width="0.5" />
<line x1="230.25" y1="315.1" x2="230.25" y2="316.5" stroke="#777" stroke-width="0.5" />
<line x1="235.62" y1="315.1" x2="235.62" y2="316.5" stroke="#777" stroke-width="0.5" />
<line x1="240.99" y1="315.1" x2="240.99" y2="316.5" stroke="#777" stroke-width="0.5" />
<line x1="246.36" y1="315.1" x2="246.36" y2="316.5" stroke="#777" stroke-width="0.5" />
<line x1="251.73" y1="315.1" x2="251.73" y2="316.5" stroke="#777" stroke-width="0.5" />
<line x1="257.1" y1="315.1" x2="257.1" y2="316.5" stroke="#777" stroke-width="0.5" />
<line x1="262.47" y1="315.1" x2="262.47" y2="316.5" stroke="#777" stroke-width="0.5" />
<line x1="267.84" y1="315.1" x2="267.84" y2="316.5" stroke="#777" stroke-width="0.5" />
<line x1="273.21" y1="315.1" x2="273.21" y2="316.5" stroke="#777" stroke-width="0.5" />
<line x1="278.58" y1="315.1" x2="278.58" y2="316.5" stroke="#777" stroke-width="0.5" />
<line x1="283.95" y1="315.1" x2="283.95" y2="316.5" stroke="#777" stroke-width="0.5" />
<line x1="289.32" y1="315.1" x2="289.32" y2="316.5" stroke="#777" stroke-width="0.5" />
<line x1="294.69" y1="315.1" x2="294.69" y2="316.5" stroke="#777" stroke-width="0.5" />
<line x1="300.06" y1="315.1" x2="300.06" y2="316.5" stroke="#777" stroke-width="0.5" />
<line x1="305.43" y1="315.1" x2="305.43" y2="316.5" stroke="#777" stroke-width="0.5" />
<line x1="310.8" y1="315.1" x2="310.8" y2="316.5" stroke="#777" stroke-width="0.5" />
<line x1="316.17" y1="315.1" x2="316.17" y2="316.5" stroke="#777" stroke-width="0.5" />
<line x1="321.54" y1="315.1" x2="321.54" y2="316.5" stroke="#777" stroke-width="0.5" />
<line x1="326.91" y1="315.1" x2="326.91" y2="316.5" stroke="#777" stroke-width="0.5" />
<line x1="332.28" y1="315.1" x2="332.28" y2="316.5" stroke="#777" stroke-width="0.5" />
<line x1="337.65" y1="315.1" x2="337.65" y2="316.5" stroke="#777" stroke-width="0.5" />
<line x1="343.02" y1="315.1" x2="343.02" y2="316.5" stroke="#777" stroke-width="0.5" />
<line x1="348.39" y1="315.1" x2="348.39" y2="316.5" stroke="#777" stroke-width="0.5" />
<line x1="353.76" y1="315.1" x2="353.76" y2="316.5" stroke="#777" stroke-width="0.5" />
<line x1="359.13" y1="315.1" x2="359.13" y2="316.5" stroke="#777" stroke-width="0.5" />
<line x1="364.5" y1="315.1" x2="364.5" y2="316.5" stroke="#777" stroke-width="0.5" />
<line x1="369.87" y1="315.1" x2="369.87" y2="316.5" stroke="#777" stroke-width="0.5" />
<line x1="62.3" y1="314.2" x2="62.3" y2="316.5" stroke="#555" stroke-width="0.6" />
<text x="62.3" y="323.6" font-size="6.4" fill="#222" stroke="#222" stroke-width="0.12" text-anchor="middle" textLength="23.7" lengthAdjust="spacingAndGlyphs" >42,700K</text>
<line x1="116.2" y1="314.2" x2="116.2" y2="316.5" stroke="#555" stroke-width="0.6" />
<text x="116.2" y="323.6" font-size="6.4" fill="#222" stroke="#222" stroke-width="0.12" text-anchor="middle" textLength="23.7" lengthAdjust="spacingAndGlyphs" >42,800K</text>
<line x1="169.5" y1="314.2" x2="169.5" y2="316.5" stroke="#555" stroke-width="0.6" />
<text x="169.5" y="323.6" font-size="6.4" fill="#222" stroke="#222" stroke-width="0.12" text-anchor="middle" textLength="23.7" lengthAdjust="spacingAndGlyphs" >42,900K</text>
<line x1="222.3" y1="314.2" x2="222.3" y2="316.5" stroke="#555" stroke-width="0.6" />
<text x="222.3" y="323.6" font-size="6.4" fill="#222" stroke="#222" stroke-width="0.12" text-anchor="middle" textLength="23.7" lengthAdjust="spacingAndGlyphs" >43,000K</text>
<line x1="276.1" y1="314.2" x2="276.1" y2="316.5" stroke="#555" stroke-width="0.6" />
<text x="276.1" y="323.6" font-size="6.4" fill="#222" stroke="#222" stroke-width="0.12" text-anchor="middle" textLength="23.7" lengthAdjust="spacingAndGlyphs" >43,100K</text>
<line x1="329.3" y1="314.2" x2="329.3" y2="316.5" stroke="#555" stroke-width="0.6" />
<text x="329.3" y="323.6" font-size="6.4" fill="#222" stroke="#222" stroke-width="0.12" text-anchor="middle" textLength="23.7" lengthAdjust="spacingAndGlyphs" >43,200K</text>
<text transform="translate(388.0,187.9) scale(1.15,1)" font-size="11.5" font-weight="bold" fill="#000" stroke="#000" stroke-width="0.45">e</text>
<text x="414.6" y="190.3" font-size="8.5" fill="#222" stroke="#222" stroke-width="0.12" textLength="46" lengthAdjust="spacingAndGlyphs" >JUN targets</text>
<line x1="417.5" y1="196" x2="417.5" y2="308.5" stroke="#7a7a7a" stroke-width="0.8" />
<line x1="414.5" y1="200.4" x2="417.5" y2="200.4" stroke="#7a7a7a" stroke-width="0.7" />
<text x="411.9" y="203.20000000000002" font-size="7.8" fill="#333" stroke="#333" stroke-width="0.12" text-anchor="end" >3</text>
<line x1="414.5" y1="220.9" x2="417.5" y2="220.9" stroke="#7a7a7a" stroke-width="0.7" />
<text x="411.9" y="223.70000000000002" font-size="7.8" fill="#333" stroke="#333" stroke-width="0.12" text-anchor="end" >2</text>
<line x1="414.5" y1="241.4" x2="417.5" y2="241.4" stroke="#7a7a7a" stroke-width="0.7" />
<text x="411.9" y="244.20000000000002" font-size="7.8" fill="#333" stroke="#333" stroke-width="0.12" text-anchor="end" >1</text>
<line x1="414.5" y1="261.9" x2="417.5" y2="261.9" stroke="#7a7a7a" stroke-width="0.7" />
<text x="411.9" y="264.7" font-size="7.8" fill="#333" stroke="#333" stroke-width="0.12" text-anchor="end" >0</text>
<line x1="414.5" y1="282.5" x2="417.5" y2="282.5" stroke="#7a7a7a" stroke-width="0.7" />
<text x="411.9" y="285.3" font-size="7.8" fill="#333" stroke="#333" stroke-width="0.12" text-anchor="end" >-1</text>
<line x1="414.5" y1="303.1" x2="417.5" y2="303.1" stroke="#7a7a7a" stroke-width="0.7" />
<text x="411.9" y="305.90000000000003" font-size="7.8" fill="#333" stroke="#333" stroke-width="0.12" text-anchor="end" >-2</text>
<line x1="417.5" y1="308.5" x2="455.5" y2="308.5" stroke="#7a7a7a" stroke-width="0.8" />
<text transform="translate(396.0,286.7) rotate(-90)" font-size="8.4" fill="#222" stroke="#222" stroke-width="0.12" textLength="68.6" lengthAdjust="spacingAndGlyphs" >log<tspan dy="1.8" font-size="5.5">2</tspan><tspan dy="-1.8">(fold change)</tspan></text>
<line x1="427.3" y1="235.6" x2="427.3" y2="256.1" stroke="#454545" stroke-width="0.8" />
<line x1="427.3" y1="270.7" x2="427.3" y2="291.8" stroke="#454545" stroke-width="0.8" />
<rect x="420.85" y="256.10" width="12.90" height="14.60" fill="#6a86cf" stroke="#454545" stroke-width="0.9"/>
<line x1="420.85" y1="263.6" x2="433.75" y2="263.6" stroke="#333" stroke-width="1.6" />
<line x1="444.8" y1="228.5" x2="444.8" y2="251.9" stroke="#454545" stroke-width="0.8" />
<line x1="444.8" y1="268.3" x2="444.8" y2="291.8" stroke="#454545" stroke-width="0.8" />
<rect x="438.35" y="251.90" width="12.90" height="16.40" fill="#a8d8e6" stroke="#454545" stroke-width="0.9"/>
<line x1="438.35" y1="260.4" x2="451.25" y2="260.4" stroke="#333" stroke-width="1.6" />
<line x1="426.3" y1="222.9" x2="446.1" y2="222.9" stroke="#444" stroke-width="1.6" />
<text x="420" y="218.2" font-size="6.4" fill="#444" stroke="#444" stroke-width="0.12" textLength="34.5" lengthAdjust="spacingAndGlyphs" ><tspan font-style="italic">P</tspan> &lt; 2.2 × 10<tspan dy="-2" font-size="4">−16</tspan></text>
<text transform="translate(434.9,300.7) rotate(-90)" font-size="6.3" fill="#444" stroke="#444" stroke-width="0.12" textLength="21" lengthAdjust="spacingAndGlyphs" ><tspan font-style="italic">n</tspan> = 8.2k</text>
<text transform="translate(452.5,300.7) rotate(-90)" font-size="6.3" fill="#444" stroke="#444" stroke-width="0.12" textLength="21" lengthAdjust="spacingAndGlyphs" ><tspan font-style="italic">n</tspan> = 2.6k</text>
<line x1="427.3" y1="308.5" x2="427.3" y2="310.6" stroke="#7a7a7a" stroke-width="0.7" />
<text transform="translate(431.5,315.4) rotate(-45)" font-size="7.8" fill="#222" stroke="#222" stroke-width="0.12" text-anchor="end" textLength="18.06" lengthAdjust="spacingAndGlyphs" >&gt;5 kb</text>
<line x1="444.6" y1="308.5" x2="444.6" y2="310.6" stroke="#7a7a7a" stroke-width="0.7" />
<text transform="translate(448.8,315.4) rotate(-45)" font-size="7.8" fill="#222" stroke="#222" stroke-width="0.12" text-anchor="end" textLength="18.06" lengthAdjust="spacingAndGlyphs" >&lt;5 kb</text>
<text x="411.6" y="338.6" font-size="8.7" fill="#222" stroke="#222" stroke-width="0.12" textLength="48.9" lengthAdjust="spacingAndGlyphs" >Dist. to peak</text>
<text transform="translate(480.0,187.9) scale(1.15,1)" font-size="11.5" font-weight="bold" fill="#000" stroke="#000" stroke-width="0.45">f</text>
<text x="561" y="190" font-size="8.5" fill="#222" stroke="#222" stroke-width="0.12" textLength="64.2" lengthAdjust="spacingAndGlyphs" >hTSC-active TEs</text>
<line x1="510.5" y1="196" x2="510.5" y2="308.5" stroke="#7a7a7a" stroke-width="0.8" />
<line x1="507.6" y1="200.4" x2="510.6" y2="200.4" stroke="#7a7a7a" stroke-width="0.7" />
<text x="505.0" y="203.20000000000002" font-size="7.8" fill="#333" stroke="#333" stroke-width="0.12" text-anchor="end" >3</text>
<line x1="507.6" y1="220.9" x2="510.6" y2="220.9" stroke="#7a7a7a" stroke-width="0.7" />
<text x="505.0" y="223.70000000000002" font-size="7.8" fill="#333" stroke="#333" stroke-width="0.12" text-anchor="end" >2</text>
<line x1="507.6" y1="241.4" x2="510.6" y2="241.4" stroke="#7a7a7a" stroke-width="0.7" />
<text x="505.0" y="244.20000000000002" font-size="7.8" fill="#333" stroke="#333" stroke-width="0.12" text-anchor="end" >1</text>
<line x1="507.6" y1="261.9" x2="510.6" y2="261.9" stroke="#7a7a7a" stroke-width="0.7" />
<text x="505.0" y="264.7" font-size="7.8" fill="#333" stroke="#333" stroke-width="0.12" text-anchor="end" >0</text>
<line x1="507.6" y1="282.5" x2="510.6" y2="282.5" stroke="#7a7a7a" stroke-width="0.7" />
<text x="505.0" y="285.3" font-size="7.8" fill="#333" stroke="#333" stroke-width="0.12" text-anchor="end" >-1</text>
<line x1="507.6" y1="303.1" x2="510.6" y2="303.1" stroke="#7a7a7a" stroke-width="0.7" />
<text x="505.0" y="305.90000000000003" font-size="7.8" fill="#333" stroke="#333" stroke-width="0.12" text-anchor="end" >-2</text>
<line x1="510.5" y1="308.5" x2="682" y2="308.5" stroke="#7a7a7a" stroke-width="0.8" />
<text transform="translate(486.6,286.7) rotate(-90)" font-size="8.4" fill="#222" stroke="#222" stroke-width="0.12" textLength="68.6" lengthAdjust="spacingAndGlyphs" >log<tspan dy="1.8" font-size="5.5">2</tspan><tspan dy="-1.8">(fold change)</tspan></text>
<line x1="510.6" y1="262.0" x2="682" y2="262.0" stroke="#bbb" stroke-width="0.8" />
<text x="514" y="212.4" font-size="6.6" fill="#333" stroke="#333" stroke-width="0.12" textLength="26.3" lengthAdjust="spacingAndGlyphs" ><tspan font-style="italic">P</tspan> = 0.002</text>
<line x1="518.5" y1="215.6" x2="518.5" y2="243.3" stroke="#333" stroke-width="0.7" />
<line x1="518.5" y1="264.4" x2="518.5" y2="289.2" stroke="#333" stroke-width="0.7" />
<rect x="513.50" y="243.30" width="10.00" height="21.10" fill="#a8d8e6" stroke="#555" stroke-width="0.8"/>
<line x1="513.5" y1="253" x2="523.5" y2="253" stroke="#333" stroke-width="1.1" />
<circle cx="519.69" cy="252.90" r="0.6" fill="#000"/>
<circle cx="520.24" cy="270.91" r="0.6" fill="#000"/>
<circle cx="518.24" cy="242.81" r="0.6" fill="#000"/>
<circle cx="517.55" cy="262.99" r="0.6" fill="#000"/>
<circle cx="516.64" cy="256.25" r="0.6" fill="#000"/>
<circle cx="521.19" cy="250.62" r="0.6" fill="#000"/>
<circle cx="520.83" cy="263.47" r="0.6" fill="#000"/>
<circle cx="519.36" cy="265.73" r="0.6" fill="#000"/>
<circle cx="520.09" cy="248.21" r="0.6" fill="#000"/>
<circle cx="520.48" cy="241.31" r="0.6" fill="#000"/>
<circle cx="518.20" cy="266.88" r="0.6" fill="#000"/>
<circle cx="516.33" cy="219.80" r="0.6" fill="#000"/>
<circle cx="519.13" cy="216.98" r="0.6" fill="#000"/>
<circle cx="518.54" cy="224.88" r="0.6" fill="#000"/>
<circle cx="517.59" cy="255.76" r="0.6" fill="#000"/>
<circle cx="518.40" cy="269.30" r="0.6" fill="#000"/>
<circle cx="520.76" cy="282.24" r="0.6" fill="#000"/>
<circle cx="520.51" cy="240.24" r="0.6" fill="#000"/>
<circle cx="520.05" cy="278.89" r="0.6" fill="#000"/>
<circle cx="518.98" cy="234.35" r="0.6" fill="#000"/>
<circle cx="516.56" cy="257.56" r="0.6" fill="#000"/>
<circle cx="516.30" cy="278.61" r="0.6" fill="#000"/>
<circle cx="517.40" cy="254.43" r="0.6" fill="#000"/>
<circle cx="519.94" cy="229.37" r="0.6" fill="#000"/>
<circle cx="515.67" cy="238.51" r="0.6" fill="#000"/>
<circle cx="519.78" cy="247.37" r="0.6" fill="#000"/>
<circle cx="517.92" cy="251.53" r="0.6" fill="#000"/>
<circle cx="519.43" cy="230.46" r="0.6" fill="#000"/>
<circle cx="516.53" cy="254.80" r="0.6" fill="#000"/>
<circle cx="515.87" cy="284.35" r="0.6" fill="#000"/>
<circle cx="516.41" cy="250.77" r="0.6" fill="#000"/>
<circle cx="515.99" cy="242.33" r="0.6" fill="#000"/>
<circle cx="518.74" cy="251.78" r="0.6" fill="#000"/>
<circle cx="516.73" cy="250.55" r="0.6" fill="#000"/>
<circle cx="516.44" cy="240.26" r="0.6" fill="#000"/>
<circle cx="519.07" cy="252.01" r="0.6" fill="#000"/>
<circle cx="517.11" cy="291.60" r="0.6" fill="#000"/>
<circle cx="521.39" cy="241.35" r="0.6" fill="#000"/>
<circle cx="517.37" cy="251.01" r="0.6" fill="#000"/>
<circle cx="518.84" cy="288.89" r="0.6" fill="#000"/>
<circle cx="517.33" cy="248.25" r="0.6" fill="#000"/>
<circle cx="520.55" cy="230.20" r="0.6" fill="#000"/>
<circle cx="519.51" cy="269.08" r="0.6" fill="#000"/>
<circle cx="521.26" cy="255.83" r="0.6" fill="#000"/>
<circle cx="520.24" cy="254.67" r="0.6" fill="#000"/>
<circle cx="519.86" cy="257.55" r="0.6" fill="#000"/>
<circle cx="516.61" cy="233.95" r="0.6" fill="#000"/>
<circle cx="516.53" cy="252.86" r="0.6" fill="#000"/>
<circle cx="517.17" cy="273.92" r="0.6" fill="#000"/>
<circle cx="516.39" cy="229.97" r="0.6" fill="#000"/>
<circle cx="516.24" cy="231.57" r="0.6" fill="#000"/>
<circle cx="516.89" cy="261.51" r="0.6" fill="#000"/>
<circle cx="520.59" cy="252.97" r="0.6" fill="#000"/>
<circle cx="515.72" cy="244.28" r="0.6" fill="#000"/>
<circle cx="519.23" cy="249.27" r="0.6" fill="#000"/>
<circle cx="516.41" cy="255.26" r="0.6" fill="#000"/>
<circle cx="516.59" cy="274.89" r="0.6" fill="#000"/>
<circle cx="517.80" cy="258.84" r="0.6" fill="#000"/>
<circle cx="520.44" cy="265.06" r="0.6" fill="#000"/>
<circle cx="520.91" cy="265.19" r="0.6" fill="#000"/>
<circle cx="517.23" cy="285.90" r="0.6" fill="#000"/>
<circle cx="517.62" cy="281.05" r="0.6" fill="#000"/>
<circle cx="518.78" cy="243.60" r="0.6" fill="#000"/>
<circle cx="518.37" cy="254.81" r="0.6" fill="#000"/>
<circle cx="515.88" cy="241.13" r="0.6" fill="#000"/>
<circle cx="519.01" cy="283.61" r="0.6" fill="#000"/>
<circle cx="520.05" cy="254.38" r="0.6" fill="#000"/>
<circle cx="518.95" cy="243.14" r="0.6" fill="#000"/>
<circle cx="516.89" cy="258.56" r="0.6" fill="#000"/>
<circle cx="517.34" cy="265.24" r="0.6" fill="#000"/>
<circle cx="521.02" cy="261.90" r="0.6" fill="#000"/>
<circle cx="520.04" cy="249.08" r="0.6" fill="#000"/>
<circle cx="519.73" cy="218.42" r="0.6" fill="#000"/>
<circle cx="517.15" cy="251.47" r="0.6" fill="#000"/>
<circle cx="519.99" cy="235.75" r="0.6" fill="#000"/>
<circle cx="519.91" cy="257.74" r="0.6" fill="#000"/>
<circle cx="518.75" cy="264.56" r="0.6" fill="#000"/>
<circle cx="518.48" cy="289.24" r="0.6" fill="#000"/>
<circle cx="516.65" cy="252.17" r="0.6" fill="#000"/>
<circle cx="520.83" cy="250.44" r="0.6" fill="#000"/>
<circle cx="515.76" cy="248.78" r="0.6" fill="#000"/>
<line x1="518.5" y1="308.5" x2="518.5" y2="310.7" stroke="#7a7a7a" stroke-width="0.7" />
<text transform="translate(522.6,318.4) rotate(-45)" font-size="9.0" fill="#222" stroke="#222" stroke-width="0.12" text-anchor="end" textLength="28.39" lengthAdjust="spacingAndGlyphs" >LTR10A</text>
<line x1="531.47" y1="247.8" x2="531.47" y2="256.2" stroke="#333" stroke-width="0.7" />
<line x1="531.47" y1="268.4" x2="531.47" y2="277.3" stroke="#333" stroke-width="0.7" />
<rect x="526.47" y="256.20" width="10.00" height="12.20" fill="#a8d8e6" stroke="#555" stroke-width="0.8"/>
<line x1="526.47" y1="259.6" x2="536.47" y2="259.6" stroke="#333" stroke-width="1.1" />
<circle cx="534.17" cy="255.59" r="0.6" fill="#000"/>
<circle cx="532.42" cy="271.03" r="0.6" fill="#000"/>
<circle cx="532.59" cy="259.25" r="0.6" fill="#000"/>
<circle cx="529.69" cy="263.82" r="0.6" fill="#000"/>
<circle cx="531.31" cy="262.60" r="0.6" fill="#000"/>
<circle cx="529.78" cy="263.98" r="0.6" fill="#000"/>
<circle cx="533.35" cy="259.76" r="0.6" fill="#000"/>
<circle cx="533.69" cy="251.83" r="0.6" fill="#000"/>
<circle cx="530.92" cy="260.83" r="0.6" fill="#000"/>
<circle cx="531.26" cy="256.20" r="0.6" fill="#000"/>
<circle cx="528.70" cy="254.67" r="0.6" fill="#000"/>
<circle cx="531.84" cy="256.20" r="0.6" fill="#000"/>
<circle cx="528.95" cy="258.11" r="0.6" fill="#000"/>
<circle cx="530.67" cy="264.56" r="0.6" fill="#000"/>
<circle cx="531.46" cy="253.65" r="0.6" fill="#000"/>
<circle cx="533.62" cy="269.78" r="0.6" fill="#000"/>
<circle cx="528.60" cy="251.63" r="0.6" fill="#000"/>
<circle cx="534.06" cy="258.10" r="0.6" fill="#000"/>
<circle cx="529.26" cy="275.12" r="0.6" fill="#000"/>
<circle cx="533.26" cy="250.62" r="0.6" fill="#000"/>
<circle cx="529.61" cy="268.78" r="0.6" fill="#000"/>
<circle cx="533.75" cy="273.88" r="0.6" fill="#000"/>
<circle cx="534.12" cy="263.33" r="0.6" fill="#000"/>
<circle cx="528.96" cy="269.97" r="0.6" fill="#000"/>
<circle cx="530.60" cy="251.57" r="0.6" fill="#000"/>
<circle cx="529.10" cy="259.60" r="0.6" fill="#000"/>
<circle cx="529.76" cy="269.37" r="0.6" fill="#000"/>
<line x1="531.47" y1="308.5" x2="531.47" y2="310.7" stroke="#7a7a7a" stroke-width="0.7" />
<text transform="translate(535.57,318.4) rotate(-45)" font-size="9.0" fill="#222" stroke="#222" stroke-width="0.12" text-anchor="end" textLength="27.95" lengthAdjust="spacingAndGlyphs" >LTR10F</text>
<line x1="544.44" y1="241.2" x2="544.44" y2="258.9" stroke="#333" stroke-width="0.7" />
<line x1="544.44" y1="270.2" x2="544.44" y2="282" stroke="#333" stroke-width="0.7" />
<rect x="539.44" y="258.90" width="10.00" height="11.30" fill="#a8d8e6" stroke="#555" stroke-width="0.8"/>
<line x1="539.44" y1="263.6" x2="549.44" y2="263.6" stroke="#333" stroke-width="1.1" />
<circle cx="545.67" cy="264.73" r="0.6" fill="#000"/>
<circle cx="545.12" cy="255.07" r="0.6" fill="#000"/>
<circle cx="544.61" cy="258.78" r="0.6" fill="#000"/>
<circle cx="546.64" cy="252.69" r="0.6" fill="#000"/>
<circle cx="542.86" cy="272.68" r="0.6" fill="#000"/>
<circle cx="545.07" cy="268.06" r="0.6" fill="#000"/>
<circle cx="544.62" cy="264.08" r="0.6" fill="#000"/>
<circle cx="545.43" cy="265.92" r="0.6" fill="#000"/>
<circle cx="545.53" cy="261.77" r="0.6" fill="#000"/>
<circle cx="544.04" cy="247.79" r="0.6" fill="#000"/>
<circle cx="542.74" cy="266.38" r="0.6" fill="#000"/>
<circle cx="544.05" cy="250.42" r="0.6" fill="#000"/>
<circle cx="545.42" cy="254.13" r="0.6" fill="#000"/>
<circle cx="545.25" cy="278.87" r="0.6" fill="#000"/>
<circle cx="545.17" cy="269.61" r="0.6" fill="#000"/>
<circle cx="543.81" cy="276.62" r="0.6" fill="#000"/>
<circle cx="546.85" cy="275.42" r="0.6" fill="#000"/>
<circle cx="547.19" cy="252.42" r="0.6" fill="#000"/>
<circle cx="546.98" cy="254.84" r="0.6" fill="#000"/>
<circle cx="541.96" cy="239.82" r="0.6" fill="#000"/>
<circle cx="543.77" cy="279.87" r="0.6" fill="#000"/>
<circle cx="542.78" cy="266.63" r="0.6" fill="#000"/>
<circle cx="543.95" cy="264.99" r="0.6" fill="#000"/>
<circle cx="542.01" cy="263.96" r="0.6" fill="#000"/>
<circle cx="542.41" cy="262.10" r="0.6" fill="#000"/>
<circle cx="543.94" cy="262.49" r="0.6" fill="#000"/>
<circle cx="545.85" cy="262.31" r="0.6" fill="#000"/>
<circle cx="546.35" cy="264.16" r="0.6" fill="#000"/>
<circle cx="542.86" cy="268.42" r="0.6" fill="#000"/>
<circle cx="543.80" cy="260.82" r="0.6" fill="#000"/>
<circle cx="546.87" cy="281.39" r="0.6" fill="#000"/>
<circle cx="542.81" cy="261.29" r="0.6" fill="#000"/>
<circle cx="546.89" cy="248.85" r="0.6" fill="#000"/>
<circle cx="545.24" cy="242.33" r="0.6" fill="#000"/>
<circle cx="546.06" cy="265.98" r="0.6" fill="#000"/>
<circle cx="541.89" cy="279.59" r="0.6" fill="#000"/>
<circle cx="544.16" cy="266.62" r="0.6" fill="#000"/>
<circle cx="546.64" cy="253.39" r="0.6" fill="#000"/>
<circle cx="542.32" cy="238.47" r="0.6" fill="#000"/>
<circle cx="542.98" cy="273.53" r="0.6" fill="#000"/>
<circle cx="543.17" cy="259.00" r="0.6" fill="#000"/>
<circle cx="544.35" cy="243.29" r="0.6" fill="#000"/>
<circle cx="545.94" cy="240.67" r="0.6" fill="#000"/>
<circle cx="541.72" cy="281.23" r="0.6" fill="#000"/>
<circle cx="545.01" cy="251.97" r="0.6" fill="#000"/>
<circle cx="546.63" cy="261.98" r="0.6" fill="#000"/>
<circle cx="544.75" cy="242.34" r="0.6" fill="#000"/>
<circle cx="545.90" cy="265.17" r="0.6" fill="#000"/>
<circle cx="542.42" cy="257.48" r="0.6" fill="#000"/>
<circle cx="542.86" cy="260.90" r="0.6" fill="#000"/>
<circle cx="543.50" cy="270.68" r="0.6" fill="#000"/>
<circle cx="542.93" cy="262.95" r="0.6" fill="#000"/>
<circle cx="545.54" cy="262.41" r="0.6" fill="#000"/>
<circle cx="542.06" cy="264.40" r="0.6" fill="#000"/>
<line x1="544.44" y1="308.5" x2="544.44" y2="310.7" stroke="#7a7a7a" stroke-width="0.7" />
<text transform="translate(548.5400000000001,318.4) rotate(-45)" font-size="9.0" fill="#222" stroke="#222" stroke-width="0.12" text-anchor="end" textLength="23.12" lengthAdjust="spacingAndGlyphs" >LTR23</text>
<line x1="557.41" y1="243.8" x2="557.41" y2="256.2" stroke="#333" stroke-width="0.7" />
<line x1="557.41" y1="266.8" x2="557.41" y2="275.5" stroke="#333" stroke-width="0.7" />
<rect x="552.41" y="256.20" width="10.00" height="10.60" fill="#a8d8e6" stroke="#555" stroke-width="0.8"/>
<line x1="552.41" y1="261" x2="562.41" y2="261" stroke="#333" stroke-width="1.1" />
<circle cx="558.68" cy="278.24" r="0.6" fill="#000"/>
<circle cx="554.96" cy="267.54" r="0.6" fill="#000"/>
<circle cx="556.73" cy="255.77" r="0.6" fill="#000"/>
<circle cx="555.20" cy="273.79" r="0.6" fill="#000"/>
<circle cx="554.65" cy="258.56" r="0.6" fill="#000"/>
<circle cx="557.55" cy="259.17" r="0.6" fill="#000"/>
<circle cx="558.70" cy="260.54" r="0.6" fill="#000"/>
<circle cx="559.31" cy="264.53" r="0.6" fill="#000"/>
<circle cx="560.00" cy="260.11" r="0.6" fill="#000"/>
<circle cx="555.97" cy="252.44" r="0.6" fill="#000"/>
<circle cx="559.65" cy="258.49" r="0.6" fill="#000"/>
<circle cx="558.62" cy="269.94" r="0.6" fill="#000"/>
<circle cx="556.95" cy="261.15" r="0.6" fill="#000"/>
<circle cx="555.07" cy="257.26" r="0.6" fill="#000"/>
<circle cx="555.03" cy="271.71" r="0.6" fill="#000"/>
<circle cx="557.78" cy="266.76" r="0.6" fill="#000"/>
<circle cx="556.20" cy="271.81" r="0.6" fill="#000"/>
<circle cx="556.80" cy="250.77" r="0.6" fill="#000"/>
<circle cx="558.86" cy="269.18" r="0.6" fill="#000"/>
<circle cx="558.26" cy="260.96" r="0.6" fill="#000"/>
<circle cx="557.79" cy="270.08" r="0.6" fill="#000"/>
<circle cx="556.75" cy="255.03" r="0.6" fill="#000"/>
<circle cx="556.71" cy="250.03" r="0.6" fill="#000"/>
<circle cx="558.43" cy="259.71" r="0.6" fill="#000"/>
<circle cx="557.62" cy="263.46" r="0.6" fill="#000"/>
<circle cx="559.84" cy="277.36" r="0.6" fill="#000"/>
<circle cx="554.70" cy="260.05" r="0.6" fill="#000"/>
<circle cx="559.99" cy="246.25" r="0.6" fill="#000"/>
<circle cx="556.44" cy="253.94" r="0.6" fill="#000"/>
<circle cx="554.67" cy="256.04" r="0.6" fill="#000"/>
<circle cx="555.45" cy="270.92" r="0.6" fill="#000"/>
<circle cx="556.17" cy="259.26" r="0.6" fill="#000"/>
<circle cx="556.36" cy="272.22" r="0.6" fill="#000"/>
<circle cx="557.96" cy="261.36" r="0.6" fill="#000"/>
<circle cx="555.30" cy="264.62" r="0.6" fill="#000"/>
<circle cx="558.46" cy="274.09" r="0.6" fill="#000"/>
<circle cx="559.93" cy="246.24" r="0.6" fill="#000"/>
<circle cx="556.44" cy="261.18" r="0.6" fill="#000"/>
<circle cx="559.50" cy="261.09" r="0.6" fill="#000"/>
<circle cx="559.05" cy="256.32" r="0.6" fill="#000"/>
<line x1="557.41" y1="308.5" x2="557.41" y2="310.7" stroke="#7a7a7a" stroke-width="0.7" />
<text transform="translate(561.51,318.4) rotate(-45)" font-size="9.0" fill="#222" stroke="#222" stroke-width="0.12" text-anchor="end" textLength="24.0" lengthAdjust="spacingAndGlyphs" >LTR2B</text>
<line x1="570.38" y1="234.6" x2="570.38" y2="250.4" stroke="#333" stroke-width="0.7" />
<line x1="570.38" y1="262.3" x2="570.38" y2="271.5" stroke="#333" stroke-width="0.7" />
<rect x="565.38" y="250.40" width="10.00" height="11.90" fill="#a8d8e6" stroke="#555" stroke-width="0.8"/>
<line x1="565.38" y1="256.2" x2="575.38" y2="256.2" stroke="#333" stroke-width="1.1" />
<circle cx="571.73" cy="227.63" r="0.6" fill="#000"/>
<circle cx="572.16" cy="254.33" r="0.6" fill="#000"/>
<circle cx="568.17" cy="252.38" r="0.6" fill="#000"/>
<circle cx="571.22" cy="247.72" r="0.6" fill="#000"/>
<circle cx="569.75" cy="266.16" r="0.6" fill="#000"/>
<circle cx="569.86" cy="257.79" r="0.6" fill="#000"/>
<circle cx="568.52" cy="256.49" r="0.6" fill="#000"/>
<circle cx="570.95" cy="250.00" r="0.6" fill="#000"/>
<circle cx="568.94" cy="269.10" r="0.6" fill="#000"/>
<circle cx="573.23" cy="258.79" r="0.6" fill="#000"/>
<circle cx="571.35" cy="258.30" r="0.6" fill="#000"/>
<circle cx="571.15" cy="265.81" r="0.6" fill="#000"/>
<circle cx="568.52" cy="271.45" r="0.6" fill="#000"/>
<circle cx="569.68" cy="250.31" r="0.6" fill="#000"/>
<circle cx="567.97" cy="252.31" r="0.6" fill="#000"/>
<circle cx="568.89" cy="250.52" r="0.6" fill="#000"/>
<circle cx="571.14" cy="257.79" r="0.6" fill="#000"/>
<circle cx="571.65" cy="244.60" r="0.6" fill="#000"/>
<circle cx="572.46" cy="260.43" r="0.6" fill="#000"/>
<circle cx="570.49" cy="269.26" r="0.6" fill="#000"/>
<line x1="570.38" y1="308.5" x2="570.38" y2="310.7" stroke="#7a7a7a" stroke-width="0.7" />
<text transform="translate(574.48,318.4) rotate(-45)" font-size="9.0" fill="#222" stroke="#222" stroke-width="0.12" text-anchor="end" textLength="24.0" lengthAdjust="spacingAndGlyphs" >LTR3A</text>
<line x1="583.35" y1="226.7" x2="583.35" y2="250.9" stroke="#333" stroke-width="0.7" />
<line x1="583.35" y1="271" x2="583.35" y2="280.8" stroke="#333" stroke-width="0.7" />
<rect x="578.35" y="250.90" width="10.00" height="20.10" fill="#a8d8e6" stroke="#555" stroke-width="0.8"/>
<line x1="578.35" y1="258.3" x2="588.35" y2="258.3" stroke="#333" stroke-width="1.1" />
<circle cx="585.04" cy="272.82" r="0.6" fill="#000"/>
<circle cx="584.91" cy="224.20" r="0.6" fill="#000"/>
<circle cx="584.81" cy="256.25" r="0.6" fill="#000"/>
<circle cx="581.43" cy="261.23" r="0.6" fill="#000"/>
<circle cx="585.56" cy="258.67" r="0.6" fill="#000"/>
<circle cx="586.18" cy="271.92" r="0.6" fill="#000"/>
<circle cx="585.19" cy="228.24" r="0.6" fill="#000"/>
<circle cx="585.84" cy="248.25" r="0.6" fill="#000"/>
<circle cx="581.13" cy="284.55" r="0.6" fill="#000"/>
<circle cx="585.55" cy="277.39" r="0.6" fill="#000"/>
<circle cx="584.72" cy="286.65" r="0.6" fill="#000"/>
<circle cx="584.86" cy="261.60" r="0.6" fill="#000"/>
<circle cx="583.44" cy="233.07" r="0.6" fill="#000"/>
<circle cx="585.04" cy="228.10" r="0.6" fill="#000"/>
<circle cx="581.17" cy="276.52" r="0.6" fill="#000"/>
<circle cx="581.19" cy="257.52" r="0.6" fill="#000"/>
<circle cx="585.48" cy="260.57" r="0.6" fill="#000"/>
<circle cx="580.53" cy="222.04" r="0.6" fill="#000"/>
<circle cx="582.31" cy="252.05" r="0.6" fill="#000"/>
<circle cx="583.84" cy="273.74" r="0.6" fill="#000"/>
<circle cx="580.88" cy="276.01" r="0.6" fill="#000"/>
<circle cx="586.11" cy="246.27" r="0.6" fill="#000"/>
<circle cx="582.85" cy="255.76" r="0.6" fill="#000"/>
<circle cx="583.30" cy="266.90" r="0.6" fill="#000"/>
<circle cx="581.87" cy="263.30" r="0.6" fill="#000"/>
<circle cx="581.15" cy="263.46" r="0.6" fill="#000"/>
<circle cx="581.67" cy="264.97" r="0.6" fill="#000"/>
<circle cx="585.45" cy="247.92" r="0.6" fill="#000"/>
<circle cx="583.55" cy="264.64" r="0.6" fill="#000"/>
<circle cx="584.47" cy="254.69" r="0.6" fill="#000"/>
<circle cx="580.74" cy="275.07" r="0.6" fill="#000"/>
<circle cx="585.42" cy="278.54" r="0.6" fill="#000"/>
<circle cx="582.48" cy="276.08" r="0.6" fill="#000"/>
<circle cx="582.42" cy="254.72" r="0.6" fill="#000"/>
<circle cx="581.98" cy="271.95" r="0.6" fill="#000"/>
<circle cx="585.24" cy="256.53" r="0.6" fill="#000"/>
<circle cx="584.42" cy="271.05" r="0.6" fill="#000"/>
<circle cx="585.90" cy="246.40" r="0.6" fill="#000"/>
<circle cx="585.27" cy="247.12" r="0.6" fill="#000"/>
<circle cx="583.21" cy="260.36" r="0.6" fill="#000"/>
<circle cx="583.06" cy="262.84" r="0.6" fill="#000"/>
<circle cx="580.62" cy="260.31" r="0.6" fill="#000"/>
<circle cx="584.64" cy="268.56" r="0.6" fill="#000"/>
<circle cx="584.77" cy="259.97" r="0.6" fill="#000"/>
<circle cx="585.95" cy="255.37" r="0.6" fill="#000"/>
<circle cx="582.50" cy="275.49" r="0.6" fill="#000"/>
<circle cx="583.13" cy="240.91" r="0.6" fill="#000"/>
<line x1="583.35" y1="308.5" x2="583.35" y2="310.7" stroke="#7a7a7a" stroke-width="0.7" />
<text transform="translate(587.45,318.4) rotate(-45)" font-size="9.0" fill="#222" stroke="#222" stroke-width="0.12" text-anchor="end" textLength="24.44" lengthAdjust="spacingAndGlyphs" >LTR7C</text>
<line x1="596.32" y1="228" x2="596.32" y2="251.2" stroke="#333" stroke-width="0.7" />
<line x1="596.32" y1="266.2" x2="596.32" y2="287" stroke="#333" stroke-width="0.7" />
<rect x="591.32" y="251.20" width="10.00" height="15.00" fill="#a8d8e6" stroke="#555" stroke-width="0.8"/>
<line x1="591.32" y1="258.3" x2="601.32" y2="258.3" stroke="#333" stroke-width="1.1" />
<circle cx="593.52" cy="231.56" r="0.6" fill="#000"/>
<circle cx="593.75" cy="221.43" r="0.6" fill="#000"/>
<circle cx="594.51" cy="280.89" r="0.6" fill="#000"/>
<circle cx="596.04" cy="289.18" r="0.6" fill="#000"/>
<circle cx="597.75" cy="238.38" r="0.6" fill="#000"/>
<circle cx="595.01" cy="258.38" r="0.6" fill="#000"/>
<circle cx="598.15" cy="255.31" r="0.6" fill="#000"/>
<circle cx="597.70" cy="258.00" r="0.6" fill="#000"/>
<circle cx="595.99" cy="253.93" r="0.6" fill="#000"/>
<circle cx="596.30" cy="240.70" r="0.6" fill="#000"/>
<circle cx="594.60" cy="255.90" r="0.6" fill="#000"/>
<circle cx="594.66" cy="256.02" r="0.6" fill="#000"/>
<circle cx="598.23" cy="256.77" r="0.6" fill="#000"/>
<circle cx="598.95" cy="221.87" r="0.6" fill="#000"/>
<circle cx="595.65" cy="244.67" r="0.6" fill="#000"/>
<circle cx="596.46" cy="248.84" r="0.6" fill="#000"/>
<circle cx="597.24" cy="261.23" r="0.6" fill="#000"/>
<circle cx="596.54" cy="260.10" r="0.6" fill="#000"/>
<circle cx="597.58" cy="252.61" r="0.6" fill="#000"/>
<circle cx="598.20" cy="262.13" r="0.6" fill="#000"/>
<circle cx="594.08" cy="263.67" r="0.6" fill="#000"/>
<circle cx="597.12" cy="255.60" r="0.6" fill="#000"/>
<circle cx="598.43" cy="260.26" r="0.6" fill="#000"/>
<circle cx="596.10" cy="255.51" r="0.6" fill="#000"/>
<circle cx="595.01" cy="258.78" r="0.6" fill="#000"/>
<circle cx="595.08" cy="266.00" r="0.6" fill="#000"/>
<circle cx="594.34" cy="259.28" r="0.6" fill="#000"/>
<circle cx="597.52" cy="242.85" r="0.6" fill="#000"/>
<circle cx="597.85" cy="269.63" r="0.6" fill="#000"/>
<circle cx="596.53" cy="281.54" r="0.6" fill="#000"/>
<circle cx="594.53" cy="266.29" r="0.6" fill="#000"/>
<circle cx="596.96" cy="242.16" r="0.6" fill="#000"/>
<circle cx="594.58" cy="255.12" r="0.6" fill="#000"/>
<circle cx="597.83" cy="248.90" r="0.6" fill="#000"/>
<circle cx="596.98" cy="246.07" r="0.6" fill="#000"/>
<circle cx="593.75" cy="269.77" r="0.6" fill="#000"/>
<circle cx="598.59" cy="269.07" r="0.6" fill="#000"/>
<circle cx="594.08" cy="257.31" r="0.6" fill="#000"/>
<circle cx="597.92" cy="268.87" r="0.6" fill="#000"/>
<circle cx="595.38" cy="221.30" r="0.6" fill="#000"/>
<circle cx="595.15" cy="223.78" r="0.6" fill="#000"/>
<circle cx="596.00" cy="252.47" r="0.6" fill="#000"/>
<circle cx="596.03" cy="232.11" r="0.6" fill="#000"/>
<circle cx="596.89" cy="259.25" r="0.6" fill="#000"/>
<circle cx="597.25" cy="244.78" r="0.6" fill="#000"/>
<circle cx="594.67" cy="257.44" r="0.6" fill="#000"/>
<circle cx="599.09" cy="254.52" r="0.6" fill="#000"/>
<circle cx="593.51" cy="235.74" r="0.6" fill="#000"/>
<circle cx="593.73" cy="262.01" r="0.6" fill="#000"/>
<circle cx="593.94" cy="292.83" r="0.6" fill="#000"/>
<circle cx="594.38" cy="261.60" r="0.6" fill="#000"/>
<circle cx="597.89" cy="240.28" r="0.6" fill="#000"/>
<circle cx="598.86" cy="258.53" r="0.6" fill="#000"/>
<circle cx="594.21" cy="285.43" r="0.6" fill="#000"/>
<circle cx="598.35" cy="263.44" r="0.6" fill="#000"/>
<circle cx="594.09" cy="251.09" r="0.6" fill="#000"/>
<circle cx="595.75" cy="268.81" r="0.6" fill="#000"/>
<circle cx="594.00" cy="250.99" r="0.6" fill="#000"/>
<circle cx="595.67" cy="254.89" r="0.6" fill="#000"/>
<circle cx="597.39" cy="252.46" r="0.6" fill="#000"/>
<circle cx="596.14" cy="257.99" r="0.6" fill="#000"/>
<circle cx="596.63" cy="258.80" r="0.6" fill="#000"/>
<circle cx="597.32" cy="258.52" r="0.6" fill="#000"/>
<circle cx="598.29" cy="278.91" r="0.6" fill="#000"/>
<circle cx="595.87" cy="289.96" r="0.6" fill="#000"/>
<circle cx="595.19" cy="268.05" r="0.6" fill="#000"/>
<circle cx="599.09" cy="251.09" r="0.6" fill="#000"/>
<circle cx="597.02" cy="273.33" r="0.6" fill="#000"/>
<circle cx="595.45" cy="258.19" r="0.6" fill="#000"/>
<circle cx="598.40" cy="257.25" r="0.6" fill="#000"/>
<circle cx="598.86" cy="253.22" r="0.6" fill="#000"/>
<circle cx="598.42" cy="243.07" r="0.6" fill="#000"/>
<circle cx="596.83" cy="251.23" r="0.6" fill="#000"/>
<circle cx="598.25" cy="261.51" r="0.6" fill="#000"/>
<circle cx="594.78" cy="255.25" r="0.6" fill="#000"/>
<circle cx="599.13" cy="259.62" r="0.6" fill="#000"/>
<circle cx="598.78" cy="261.31" r="0.6" fill="#000"/>
<circle cx="597.58" cy="258.90" r="0.6" fill="#000"/>
<circle cx="595.76" cy="237.16" r="0.6" fill="#000"/>
<circle cx="596.33" cy="256.01" r="0.6" fill="#000"/>
<circle cx="598.25" cy="252.37" r="0.6" fill="#000"/>
<line x1="596.32" y1="308.5" x2="596.32" y2="310.7" stroke="#7a7a7a" stroke-width="0.7" />
<text transform="translate(600.4200000000001,318.4) rotate(-45)" font-size="9.0" fill="#222" stroke="#222" stroke-width="0.12" text-anchor="end" textLength="18.73" lengthAdjust="spacingAndGlyphs" >LTR8</text>
<line x1="609.29" y1="210.3" x2="609.29" y2="235.1" stroke="#333" stroke-width="0.7" />
<line x1="609.29" y1="266.2" x2="609.29" y2="278.6" stroke="#333" stroke-width="0.7" />
<rect x="604.29" y="235.10" width="10.00" height="31.10" fill="#a8d8e6" stroke="#555" stroke-width="0.8"/>
<line x1="604.29" y1="256.2" x2="614.29" y2="256.2" stroke="#333" stroke-width="1.1" />
<circle cx="610.21" cy="253.18" r="0.6" fill="#000"/>
<circle cx="612.18" cy="250.45" r="0.6" fill="#000"/>
<circle cx="609.84" cy="267.55" r="0.6" fill="#000"/>
<circle cx="608.02" cy="213.89" r="0.6" fill="#000"/>
<circle cx="611.74" cy="240.92" r="0.6" fill="#000"/>
<circle cx="608.55" cy="266.73" r="0.6" fill="#000"/>
<circle cx="607.28" cy="240.10" r="0.6" fill="#000"/>
<circle cx="611.35" cy="242.66" r="0.6" fill="#000"/>
<circle cx="608.08" cy="254.17" r="0.6" fill="#000"/>
<circle cx="610.64" cy="259.32" r="0.6" fill="#000"/>
<circle cx="608.12" cy="273.67" r="0.6" fill="#000"/>
<circle cx="610.94" cy="252.72" r="0.6" fill="#000"/>
<circle cx="612.05" cy="274.84" r="0.6" fill="#000"/>
<circle cx="611.03" cy="221.64" r="0.6" fill="#000"/>
<circle cx="609.36" cy="259.92" r="0.6" fill="#000"/>
<circle cx="609.67" cy="246.95" r="0.6" fill="#000"/>
<circle cx="610.36" cy="247.21" r="0.6" fill="#000"/>
<circle cx="606.47" cy="277.86" r="0.6" fill="#000"/>
<circle cx="609.97" cy="258.21" r="0.6" fill="#000"/>
<circle cx="610.28" cy="247.09" r="0.6" fill="#000"/>
<circle cx="611.73" cy="277.01" r="0.6" fill="#000"/>
<circle cx="611.60" cy="276.97" r="0.6" fill="#000"/>
<circle cx="608.76" cy="269.22" r="0.6" fill="#000"/>
<circle cx="610.29" cy="258.94" r="0.6" fill="#000"/>
<line x1="609.29" y1="308.5" x2="609.29" y2="310.7" stroke="#7a7a7a" stroke-width="0.7" />
<text transform="translate(613.39,318.4) rotate(-45)" font-size="9.0" fill="#222" stroke="#222" stroke-width="0.12" text-anchor="end" textLength="24.0" lengthAdjust="spacingAndGlyphs" >LTR8B</text>
<line x1="622.26" y1="231.9" x2="622.26" y2="256.2" stroke="#333" stroke-width="0.7" />
<line x1="622.26" y1="271.5" x2="622.26" y2="289.8" stroke="#333" stroke-width="0.7" />
<rect x="617.26" y="256.20" width="10.00" height="15.30" fill="#a8d8e6" stroke="#555" stroke-width="0.8"/>
<line x1="617.26" y1="262.3" x2="627.26" y2="262.3" stroke="#333" stroke-width="1.1" />
<circle cx="621.59" cy="268.68" r="0.6" fill="#000"/>
<circle cx="620.61" cy="260.75" r="0.6" fill="#000"/>
<circle cx="620.46" cy="265.78" r="0.6" fill="#000"/>
<circle cx="619.95" cy="287.44" r="0.6" fill="#000"/>
<circle cx="623.00" cy="266.81" r="0.6" fill="#000"/>
<circle cx="619.68" cy="244.09" r="0.6" fill="#000"/>
<circle cx="621.96" cy="284.66" r="0.6" fill="#000"/>
<circle cx="624.83" cy="267.26" r="0.6" fill="#000"/>
<circle cx="625.08" cy="267.81" r="0.6" fill="#000"/>
<circle cx="624.59" cy="292.70" r="0.6" fill="#000"/>
<circle cx="621.71" cy="272.05" r="0.6" fill="#000"/>
<circle cx="621.90" cy="230.02" r="0.6" fill="#000"/>
<circle cx="623.91" cy="251.62" r="0.6" fill="#000"/>
<circle cx="619.52" cy="265.34" r="0.6" fill="#000"/>
<circle cx="624.30" cy="284.06" r="0.6" fill="#000"/>
<circle cx="623.61" cy="263.31" r="0.6" fill="#000"/>
<circle cx="620.15" cy="235.99" r="0.6" fill="#000"/>
<circle cx="623.10" cy="257.30" r="0.6" fill="#000"/>
<circle cx="621.69" cy="267.50" r="0.6" fill="#000"/>
<circle cx="622.17" cy="282.60" r="0.6" fill="#000"/>
<circle cx="620.44" cy="262.21" r="0.6" fill="#000"/>
<circle cx="622.74" cy="264.76" r="0.6" fill="#000"/>
<circle cx="621.20" cy="256.66" r="0.6" fill="#000"/>
<circle cx="620.00" cy="267.20" r="0.6" fill="#000"/>
<circle cx="622.34" cy="259.51" r="0.6" fill="#000"/>
<circle cx="619.97" cy="266.15" r="0.6" fill="#000"/>
<circle cx="621.84" cy="261.90" r="0.6" fill="#000"/>
<circle cx="621.24" cy="292.05" r="0.6" fill="#000"/>
<circle cx="624.87" cy="263.88" r="0.6" fill="#000"/>
<circle cx="622.95" cy="256.15" r="0.6" fill="#000"/>
<circle cx="620.01" cy="266.29" r="0.6" fill="#000"/>
<circle cx="624.44" cy="264.11" r="0.6" fill="#000"/>
<circle cx="619.80" cy="254.47" r="0.6" fill="#000"/>
<circle cx="620.05" cy="265.82" r="0.6" fill="#000"/>
<circle cx="620.36" cy="246.85" r="0.6" fill="#000"/>
<circle cx="623.59" cy="244.60" r="0.6" fill="#000"/>
<circle cx="625.09" cy="257.32" r="0.6" fill="#000"/>
<circle cx="621.56" cy="236.00" r="0.6" fill="#000"/>
<circle cx="624.34" cy="264.33" r="0.6" fill="#000"/>
<circle cx="621.17" cy="271.66" r="0.6" fill="#000"/>
<circle cx="620.66" cy="271.68" r="0.6" fill="#000"/>
<circle cx="623.47" cy="266.81" r="0.6" fill="#000"/>
<circle cx="624.05" cy="272.87" r="0.6" fill="#000"/>
<circle cx="620.65" cy="294.72" r="0.6" fill="#000"/>
<circle cx="621.74" cy="270.59" r="0.6" fill="#000"/>
<circle cx="622.82" cy="256.81" r="0.6" fill="#000"/>
<circle cx="624.67" cy="258.17" r="0.6" fill="#000"/>
<circle cx="621.96" cy="258.78" r="0.6" fill="#000"/>
<circle cx="621.56" cy="277.27" r="0.6" fill="#000"/>
<circle cx="624.82" cy="229.41" r="0.6" fill="#000"/>
<circle cx="624.76" cy="272.19" r="0.6" fill="#000"/>
<circle cx="622.47" cy="230.93" r="0.6" fill="#000"/>
<circle cx="624.72" cy="260.06" r="0.6" fill="#000"/>
<circle cx="621.76" cy="284.54" r="0.6" fill="#000"/>
<circle cx="621.24" cy="237.19" r="0.6" fill="#000"/>
<circle cx="624.61" cy="276.31" r="0.6" fill="#000"/>
<circle cx="620.20" cy="264.56" r="0.6" fill="#000"/>
<circle cx="624.81" cy="267.45" r="0.6" fill="#000"/>
<circle cx="622.25" cy="272.13" r="0.6" fill="#000"/>
<circle cx="623.08" cy="256.46" r="0.6" fill="#000"/>
<circle cx="623.83" cy="265.75" r="0.6" fill="#000"/>
<circle cx="622.36" cy="279.00" r="0.6" fill="#000"/>
<circle cx="619.53" cy="253.94" r="0.6" fill="#000"/>
<circle cx="619.86" cy="282.40" r="0.6" fill="#000"/>
<circle cx="623.40" cy="261.03" r="0.6" fill="#000"/>
<circle cx="624.01" cy="261.05" r="0.6" fill="#000"/>
<circle cx="620.86" cy="263.56" r="0.6" fill="#000"/>
<circle cx="619.53" cy="261.52" r="0.6" fill="#000"/>
<circle cx="620.98" cy="277.46" r="0.6" fill="#000"/>
<circle cx="624.36" cy="266.37" r="0.6" fill="#000"/>
<circle cx="620.96" cy="256.53" r="0.6" fill="#000"/>
<circle cx="620.12" cy="271.87" r="0.6" fill="#000"/>
<circle cx="623.90" cy="254.85" r="0.6" fill="#000"/>
<circle cx="623.17" cy="270.84" r="0.6" fill="#000"/>
<circle cx="621.05" cy="261.53" r="0.6" fill="#000"/>
<circle cx="622.49" cy="252.13" r="0.6" fill="#000"/>
<circle cx="622.13" cy="261.66" r="0.6" fill="#000"/>
<circle cx="622.06" cy="295.68" r="0.6" fill="#000"/>
<circle cx="624.34" cy="238.96" r="0.6" fill="#000"/>
<circle cx="623.13" cy="254.72" r="0.6" fill="#000"/>
<circle cx="623.58" cy="260.31" r="0.6" fill="#000"/>
<circle cx="621.18" cy="260.57" r="0.6" fill="#000"/>
<circle cx="620.37" cy="253.98" r="0.6" fill="#000"/>
<circle cx="624.40" cy="255.80" r="0.6" fill="#000"/>
<circle cx="622.91" cy="230.97" r="0.6" fill="#000"/>
<circle cx="624.92" cy="272.92" r="0.6" fill="#000"/>
<circle cx="621.08" cy="259.67" r="0.6" fill="#000"/>
<line x1="622.26" y1="308.5" x2="622.26" y2="310.7" stroke="#7a7a7a" stroke-width="0.7" />
<text transform="translate(626.36,318.4) rotate(-45)" font-size="9.0" fill="#222" stroke="#222" stroke-width="0.12" text-anchor="end" textLength="31.61" lengthAdjust="spacingAndGlyphs" >MER21A</text>
<line x1="635.23" y1="231.9" x2="635.23" y2="251.7" stroke="#333" stroke-width="0.7" />
<line x1="635.23" y1="268.4" x2="635.23" y2="290.3" stroke="#333" stroke-width="0.7" />
<rect x="630.23" y="251.70" width="10.00" height="16.70" fill="#a8d8e6" stroke="#555" stroke-width="0.8"/>
<line x1="630.23" y1="261.8" x2="640.23" y2="261.8" stroke="#333" stroke-width="1.1" />
<circle cx="632.92" cy="259.37" r="0.6" fill="#000"/>
<circle cx="635.59" cy="233.26" r="0.6" fill="#000"/>
<circle cx="634.95" cy="238.12" r="0.6" fill="#000"/>
<circle cx="637.49" cy="263.76" r="0.6" fill="#000"/>
<circle cx="635.32" cy="276.77" r="0.6" fill="#000"/>
<circle cx="636.56" cy="254.59" r="0.6" fill="#000"/>
<circle cx="636.53" cy="250.87" r="0.6" fill="#000"/>
<circle cx="636.19" cy="295.53" r="0.6" fill="#000"/>
<circle cx="632.57" cy="260.29" r="0.6" fill="#000"/>
<circle cx="634.59" cy="228.73" r="0.6" fill="#000"/>
<circle cx="636.33" cy="268.12" r="0.6" fill="#000"/>
<circle cx="636.09" cy="276.24" r="0.6" fill="#000"/>
<circle cx="632.61" cy="279.79" r="0.6" fill="#000"/>
<circle cx="637.73" cy="261.49" r="0.6" fill="#000"/>
<circle cx="635.11" cy="273.83" r="0.6" fill="#000"/>
<circle cx="634.42" cy="282.42" r="0.6" fill="#000"/>
<circle cx="636.21" cy="261.92" r="0.6" fill="#000"/>
<circle cx="635.69" cy="273.82" r="0.6" fill="#000"/>
<circle cx="635.84" cy="265.28" r="0.6" fill="#000"/>
<circle cx="633.85" cy="257.50" r="0.6" fill="#000"/>
<circle cx="637.28" cy="277.47" r="0.6" fill="#000"/>
<circle cx="633.22" cy="271.07" r="0.6" fill="#000"/>
<circle cx="637.15" cy="274.02" r="0.6" fill="#000"/>
<circle cx="636.65" cy="255.52" r="0.6" fill="#000"/>
<circle cx="637.85" cy="280.92" r="0.6" fill="#000"/>
<circle cx="632.78" cy="268.70" r="0.6" fill="#000"/>
<circle cx="636.45" cy="264.12" r="0.6" fill="#000"/>
<circle cx="635.94" cy="254.64" r="0.6" fill="#000"/>
<circle cx="637.20" cy="253.70" r="0.6" fill="#000"/>
<circle cx="634.59" cy="264.93" r="0.6" fill="#000"/>
<circle cx="637.42" cy="237.51" r="0.6" fill="#000"/>
<circle cx="632.78" cy="258.86" r="0.6" fill="#000"/>
<circle cx="634.76" cy="250.82" r="0.6" fill="#000"/>
<circle cx="635.45" cy="238.46" r="0.6" fill="#000"/>
<circle cx="633.66" cy="241.73" r="0.6" fill="#000"/>
<circle cx="637.59" cy="264.77" r="0.6" fill="#000"/>
<circle cx="633.66" cy="256.93" r="0.6" fill="#000"/>
<circle cx="637.43" cy="294.06" r="0.6" fill="#000"/>
<circle cx="633.11" cy="236.28" r="0.6" fill="#000"/>
<circle cx="633.03" cy="258.79" r="0.6" fill="#000"/>
<circle cx="636.06" cy="260.21" r="0.6" fill="#000"/>
<circle cx="635.69" cy="234.67" r="0.6" fill="#000"/>
<circle cx="635.39" cy="242.98" r="0.6" fill="#000"/>
<circle cx="635.05" cy="253.29" r="0.6" fill="#000"/>
<circle cx="635.23" cy="268.59" r="0.6" fill="#000"/>
<circle cx="637.95" cy="268.42" r="0.6" fill="#000"/>
<circle cx="635.76" cy="260.30" r="0.6" fill="#000"/>
<circle cx="632.35" cy="264.57" r="0.6" fill="#000"/>
<circle cx="634.32" cy="264.88" r="0.6" fill="#000"/>
<circle cx="634.34" cy="244.83" r="0.6" fill="#000"/>
<circle cx="632.95" cy="277.49" r="0.6" fill="#000"/>
<circle cx="636.64" cy="240.50" r="0.6" fill="#000"/>
<circle cx="632.67" cy="251.65" r="0.6" fill="#000"/>
<circle cx="638.08" cy="270.71" r="0.6" fill="#000"/>
<circle cx="636.42" cy="295.45" r="0.6" fill="#000"/>
<circle cx="637.25" cy="263.81" r="0.6" fill="#000"/>
<circle cx="634.55" cy="268.63" r="0.6" fill="#000"/>
<circle cx="636.30" cy="254.52" r="0.6" fill="#000"/>
<circle cx="635.60" cy="238.85" r="0.6" fill="#000"/>
<circle cx="636.41" cy="260.96" r="0.6" fill="#000"/>
<circle cx="635.83" cy="271.36" r="0.6" fill="#000"/>
<circle cx="637.88" cy="274.09" r="0.6" fill="#000"/>
<circle cx="637.59" cy="260.37" r="0.6" fill="#000"/>
<circle cx="636.35" cy="281.76" r="0.6" fill="#000"/>
<circle cx="634.16" cy="240.09" r="0.6" fill="#000"/>
<circle cx="632.73" cy="258.93" r="0.6" fill="#000"/>
<circle cx="632.49" cy="250.89" r="0.6" fill="#000"/>
<circle cx="633.81" cy="241.17" r="0.6" fill="#000"/>
<circle cx="635.15" cy="243.73" r="0.6" fill="#000"/>
<circle cx="636.88" cy="238.12" r="0.6" fill="#000"/>
<circle cx="637.97" cy="233.90" r="0.6" fill="#000"/>
<circle cx="633.33" cy="271.31" r="0.6" fill="#000"/>
<circle cx="638.05" cy="238.26" r="0.6" fill="#000"/>
<circle cx="632.81" cy="273.34" r="0.6" fill="#000"/>
<line x1="635.23" y1="308.5" x2="635.23" y2="310.7" stroke="#7a7a7a" stroke-width="0.7" />
<text transform="translate(639.33,318.4) rotate(-45)" font-size="9.0" fill="#222" stroke="#222" stroke-width="0.12" text-anchor="end" textLength="31.61" lengthAdjust="spacingAndGlyphs" >MER31A</text>
<line x1="648.2" y1="233.3" x2="648.2" y2="253" stroke="#333" stroke-width="0.7" />
<line x1="648.2" y1="267.6" x2="648.2" y2="291" stroke="#333" stroke-width="0.7" />
<rect x="643.20" y="253.00" width="10.00" height="14.60" fill="#a8d8e6" stroke="#555" stroke-width="0.8"/>
<line x1="643.2" y1="261" x2="653.2" y2="261" stroke="#333" stroke-width="1.1" />
<circle cx="650.07" cy="272.75" r="0.6" fill="#000"/>
<circle cx="648.44" cy="260.52" r="0.6" fill="#000"/>
<circle cx="645.53" cy="260.04" r="0.6" fill="#000"/>
<circle cx="646.17" cy="287.81" r="0.6" fill="#000"/>
<circle cx="647.77" cy="245.90" r="0.6" fill="#000"/>
<circle cx="646.91" cy="242.84" r="0.6" fill="#000"/>
<circle cx="650.70" cy="260.41" r="0.6" fill="#000"/>
<circle cx="650.57" cy="274.31" r="0.6" fill="#000"/>
<circle cx="646.43" cy="296.30" r="0.6" fill="#000"/>
<circle cx="650.25" cy="256.32" r="0.6" fill="#000"/>
<circle cx="646.11" cy="259.40" r="0.6" fill="#000"/>
<circle cx="650.46" cy="289.23" r="0.6" fill="#000"/>
<circle cx="647.99" cy="258.95" r="0.6" fill="#000"/>
<circle cx="648.96" cy="260.12" r="0.6" fill="#000"/>
<circle cx="645.56" cy="246.46" r="0.6" fill="#000"/>
<circle cx="650.35" cy="229.88" r="0.6" fill="#000"/>
<circle cx="648.16" cy="254.32" r="0.6" fill="#000"/>
<circle cx="645.94" cy="267.07" r="0.6" fill="#000"/>
<circle cx="646.05" cy="232.25" r="0.6" fill="#000"/>
<circle cx="648.52" cy="265.79" r="0.6" fill="#000"/>
<circle cx="645.65" cy="250.22" r="0.6" fill="#000"/>
<circle cx="645.73" cy="256.46" r="0.6" fill="#000"/>
<circle cx="645.63" cy="258.47" r="0.6" fill="#000"/>
<circle cx="650.23" cy="257.88" r="0.6" fill="#000"/>
<circle cx="645.71" cy="252.99" r="0.6" fill="#000"/>
<circle cx="648.43" cy="259.71" r="0.6" fill="#000"/>
<circle cx="646.74" cy="278.92" r="0.6" fill="#000"/>
<circle cx="650.62" cy="267.50" r="0.6" fill="#000"/>
<circle cx="648.93" cy="284.33" r="0.6" fill="#000"/>
<circle cx="646.50" cy="270.83" r="0.6" fill="#000"/>
<circle cx="645.95" cy="258.37" r="0.6" fill="#000"/>
<circle cx="649.56" cy="257.12" r="0.6" fill="#000"/>
<circle cx="646.27" cy="263.34" r="0.6" fill="#000"/>
<circle cx="648.84" cy="261.80" r="0.6" fill="#000"/>
<circle cx="646.10" cy="257.41" r="0.6" fill="#000"/>
<circle cx="645.92" cy="285.52" r="0.6" fill="#000"/>
<circle cx="646.58" cy="287.49" r="0.6" fill="#000"/>
<circle cx="647.76" cy="251.08" r="0.6" fill="#000"/>
<circle cx="648.22" cy="269.40" r="0.6" fill="#000"/>
<circle cx="650.88" cy="237.28" r="0.6" fill="#000"/>
<circle cx="647.31" cy="273.04" r="0.6" fill="#000"/>
<circle cx="649.99" cy="286.03" r="0.6" fill="#000"/>
<circle cx="646.07" cy="234.68" r="0.6" fill="#000"/>
<circle cx="648.96" cy="262.55" r="0.6" fill="#000"/>
<circle cx="646.83" cy="243.92" r="0.6" fill="#000"/>
<circle cx="645.32" cy="228.80" r="0.6" fill="#000"/>
<circle cx="648.84" cy="260.59" r="0.6" fill="#000"/>
<circle cx="645.62" cy="230.68" r="0.6" fill="#000"/>
<circle cx="650.23" cy="266.35" r="0.6" fill="#000"/>
<circle cx="648.20" cy="287.30" r="0.6" fill="#000"/>
<circle cx="647.48" cy="261.17" r="0.6" fill="#000"/>
<circle cx="649.28" cy="258.27" r="0.6" fill="#000"/>
<circle cx="650.06" cy="226.51" r="0.6" fill="#000"/>
<circle cx="647.84" cy="261.22" r="0.6" fill="#000"/>
<circle cx="650.39" cy="259.67" r="0.6" fill="#000"/>
<circle cx="650.19" cy="268.16" r="0.6" fill="#000"/>
<circle cx="647.17" cy="258.01" r="0.6" fill="#000"/>
<circle cx="647.96" cy="266.17" r="0.6" fill="#000"/>
<circle cx="645.84" cy="252.71" r="0.6" fill="#000"/>
<circle cx="645.52" cy="258.18" r="0.6" fill="#000"/>
<line x1="648.2" y1="308.5" x2="648.2" y2="310.7" stroke="#7a7a7a" stroke-width="0.7" />
<text transform="translate(652.3000000000001,318.4) rotate(-45)" font-size="9.0" fill="#222" stroke="#222" stroke-width="0.12" text-anchor="end" textLength="26.34" lengthAdjust="spacingAndGlyphs" >MER39</text>
<line x1="661.1700000000001" y1="220" x2="661.1700000000001" y2="252.5" stroke="#333" stroke-width="0.7" />
<line x1="661.1700000000001" y1="266.8" x2="661.1700000000001" y2="294.3" stroke="#333" stroke-width="0.7" />
<rect x="656.17" y="252.50" width="10.00" height="14.30" fill="#a8d8e6" stroke="#555" stroke-width="0.8"/>
<line x1="656.1700000000001" y1="260.4" x2="666.1700000000001" y2="260.4" stroke="#333" stroke-width="1.1" />
<circle cx="663.74" cy="269.11" r="0.6" fill="#000"/>
<circle cx="659.25" cy="258.19" r="0.6" fill="#000"/>
<circle cx="662.16" cy="259.46" r="0.6" fill="#000"/>
<circle cx="659.55" cy="259.19" r="0.6" fill="#000"/>
<circle cx="660.30" cy="224.92" r="0.6" fill="#000"/>
<circle cx="662.68" cy="271.09" r="0.6" fill="#000"/>
<circle cx="663.32" cy="260.63" r="0.6" fill="#000"/>
<circle cx="658.85" cy="267.58" r="0.6" fill="#000"/>
<circle cx="663.79" cy="257.99" r="0.6" fill="#000"/>
<circle cx="658.40" cy="219.86" r="0.6" fill="#000"/>
<circle cx="663.42" cy="222.68" r="0.6" fill="#000"/>
<circle cx="661.07" cy="232.45" r="0.6" fill="#000"/>
<circle cx="662.23" cy="262.58" r="0.6" fill="#000"/>
<circle cx="662.74" cy="250.84" r="0.6" fill="#000"/>
<circle cx="660.91" cy="266.34" r="0.6" fill="#000"/>
<circle cx="660.40" cy="221.35" r="0.6" fill="#000"/>
<circle cx="659.17" cy="262.36" r="0.6" fill="#000"/>
<circle cx="662.26" cy="272.87" r="0.6" fill="#000"/>
<circle cx="663.88" cy="266.09" r="0.6" fill="#000"/>
<circle cx="663.71" cy="218.97" r="0.6" fill="#000"/>
<circle cx="661.62" cy="268.03" r="0.6" fill="#000"/>
<circle cx="660.38" cy="256.79" r="0.6" fill="#000"/>
<circle cx="661.67" cy="267.21" r="0.6" fill="#000"/>
<circle cx="662.44" cy="272.24" r="0.6" fill="#000"/>
<circle cx="661.06" cy="231.49" r="0.6" fill="#000"/>
<circle cx="659.50" cy="296.69" r="0.6" fill="#000"/>
<circle cx="663.73" cy="258.29" r="0.6" fill="#000"/>
<circle cx="660.99" cy="264.52" r="0.6" fill="#000"/>
<circle cx="660.67" cy="255.39" r="0.6" fill="#000"/>
<circle cx="658.54" cy="267.78" r="0.6" fill="#000"/>
<circle cx="661.98" cy="258.96" r="0.6" fill="#000"/>
<circle cx="660.10" cy="239.65" r="0.6" fill="#000"/>
<circle cx="660.52" cy="256.34" r="0.6" fill="#000"/>
<circle cx="660.15" cy="221.90" r="0.6" fill="#000"/>
<circle cx="663.08" cy="251.74" r="0.6" fill="#000"/>
<circle cx="661.53" cy="238.40" r="0.6" fill="#000"/>
<circle cx="659.39" cy="262.73" r="0.6" fill="#000"/>
<circle cx="663.50" cy="265.70" r="0.6" fill="#000"/>
<circle cx="659.63" cy="260.38" r="0.6" fill="#000"/>
<circle cx="658.31" cy="258.88" r="0.6" fill="#000"/>
<circle cx="662.62" cy="264.81" r="0.6" fill="#000"/>
<circle cx="663.42" cy="242.39" r="0.6" fill="#000"/>
<circle cx="658.70" cy="258.32" r="0.6" fill="#000"/>
<circle cx="659.41" cy="256.38" r="0.6" fill="#000"/>
<circle cx="659.66" cy="256.64" r="0.6" fill="#000"/>
<circle cx="663.47" cy="263.19" r="0.6" fill="#000"/>
<circle cx="663.44" cy="259.79" r="0.6" fill="#000"/>
<circle cx="662.73" cy="264.01" r="0.6" fill="#000"/>
<circle cx="663.42" cy="288.47" r="0.6" fill="#000"/>
<circle cx="662.90" cy="262.14" r="0.6" fill="#000"/>
<circle cx="660.84" cy="264.35" r="0.6" fill="#000"/>
<circle cx="659.60" cy="258.75" r="0.6" fill="#000"/>
<circle cx="659.75" cy="218.91" r="0.6" fill="#000"/>
<circle cx="660.04" cy="282.62" r="0.6" fill="#000"/>
<circle cx="660.50" cy="260.59" r="0.6" fill="#000"/>
<circle cx="663.51" cy="258.65" r="0.6" fill="#000"/>
<circle cx="660.73" cy="248.90" r="0.6" fill="#000"/>
<circle cx="661.80" cy="260.92" r="0.6" fill="#000"/>
<circle cx="663.88" cy="240.28" r="0.6" fill="#000"/>
<circle cx="658.33" cy="258.26" r="0.6" fill="#000"/>
<circle cx="662.12" cy="225.41" r="0.6" fill="#000"/>
<circle cx="658.67" cy="252.95" r="0.6" fill="#000"/>
<circle cx="661.07" cy="260.97" r="0.6" fill="#000"/>
<circle cx="660.50" cy="275.51" r="0.6" fill="#000"/>
<circle cx="659.32" cy="224.17" r="0.6" fill="#000"/>
<circle cx="661.83" cy="249.30" r="0.6" fill="#000"/>
<circle cx="662.40" cy="256.80" r="0.6" fill="#000"/>
<circle cx="663.20" cy="261.64" r="0.6" fill="#000"/>
<circle cx="659.46" cy="284.10" r="0.6" fill="#000"/>
<circle cx="658.40" cy="259.72" r="0.6" fill="#000"/>
<circle cx="663.19" cy="287.16" r="0.6" fill="#000"/>
<circle cx="661.23" cy="278.14" r="0.6" fill="#000"/>
<circle cx="662.70" cy="296.59" r="0.6" fill="#000"/>
<circle cx="664.05" cy="265.95" r="0.6" fill="#000"/>
<circle cx="661.23" cy="279.54" r="0.6" fill="#000"/>
<circle cx="661.81" cy="257.88" r="0.6" fill="#000"/>
<circle cx="662.14" cy="252.75" r="0.6" fill="#000"/>
<circle cx="662.31" cy="255.98" r="0.6" fill="#000"/>
<circle cx="658.55" cy="269.87" r="0.6" fill="#000"/>
<circle cx="661.67" cy="239.16" r="0.6" fill="#000"/>
<circle cx="661.08" cy="261.39" r="0.6" fill="#000"/>
<circle cx="660.46" cy="250.71" r="0.6" fill="#000"/>
<circle cx="659.89" cy="253.51" r="0.6" fill="#000"/>
<circle cx="663.00" cy="260.61" r="0.6" fill="#000"/>
<circle cx="658.51" cy="258.86" r="0.6" fill="#000"/>
<circle cx="661.84" cy="278.84" r="0.6" fill="#000"/>
<circle cx="662.91" cy="219.05" r="0.6" fill="#000"/>
<circle cx="660.61" cy="265.14" r="0.6" fill="#000"/>
<circle cx="658.86" cy="273.03" r="0.6" fill="#000"/>
<circle cx="661.02" cy="261.45" r="0.6" fill="#000"/>
<circle cx="661.87" cy="261.40" r="0.6" fill="#000"/>
<circle cx="660.16" cy="262.70" r="0.6" fill="#000"/>
<circle cx="663.80" cy="258.65" r="0.6" fill="#000"/>
<circle cx="659.91" cy="266.82" r="0.6" fill="#000"/>
<circle cx="662.03" cy="223.57" r="0.6" fill="#000"/>
<circle cx="659.76" cy="268.59" r="0.6" fill="#000"/>
<circle cx="661.93" cy="253.99" r="0.6" fill="#000"/>
<circle cx="662.27" cy="234.08" r="0.6" fill="#000"/>
<circle cx="659.61" cy="260.02" r="0.6" fill="#000"/>
<circle cx="658.38" cy="262.51" r="0.6" fill="#000"/>
<circle cx="660.63" cy="289.47" r="0.6" fill="#000"/>
<circle cx="660.79" cy="264.07" r="0.6" fill="#000"/>
<circle cx="659.78" cy="261.37" r="0.6" fill="#000"/>
<circle cx="660.30" cy="297.53" r="0.6" fill="#000"/>
<circle cx="659.60" cy="250.16" r="0.6" fill="#000"/>
<circle cx="658.75" cy="252.97" r="0.6" fill="#000"/>
<circle cx="663.17" cy="278.43" r="0.6" fill="#000"/>
<circle cx="661.77" cy="254.45" r="0.6" fill="#000"/>
<circle cx="663.98" cy="253.31" r="0.6" fill="#000"/>
<circle cx="662.15" cy="267.52" r="0.6" fill="#000"/>
<circle cx="658.82" cy="270.39" r="0.6" fill="#000"/>
<circle cx="661.51" cy="266.88" r="0.6" fill="#000"/>
<circle cx="661.56" cy="262.67" r="0.6" fill="#000"/>
<circle cx="662.23" cy="238.59" r="0.6" fill="#000"/>
<circle cx="658.51" cy="253.59" r="0.6" fill="#000"/>
<circle cx="658.86" cy="260.12" r="0.6" fill="#000"/>
<circle cx="659.24" cy="252.75" r="0.6" fill="#000"/>
<circle cx="663.69" cy="258.82" r="0.6" fill="#000"/>
<circle cx="658.53" cy="252.83" r="0.6" fill="#000"/>
<circle cx="663.56" cy="258.99" r="0.6" fill="#000"/>
<circle cx="661.48" cy="279.90" r="0.6" fill="#000"/>
<line x1="661.1700000000001" y1="308.5" x2="661.1700000000001" y2="310.7" stroke="#7a7a7a" stroke-width="0.7" />
<text transform="translate(665.2700000000001,318.4) rotate(-45)" font-size="9.0" fill="#222" stroke="#222" stroke-width="0.12" text-anchor="end" textLength="31.61" lengthAdjust="spacingAndGlyphs" >MER41B</text>
<line x1="674.14" y1="251.2" x2="674.14" y2="254.9" stroke="#333" stroke-width="0.7" />
<line x1="674.14" y1="271.9" x2="674.14" y2="285.4" stroke="#333" stroke-width="0.7" />
<rect x="669.14" y="254.90" width="10.00" height="17.00" fill="#a8d8e6" stroke="#555" stroke-width="0.8"/>
<line x1="669.14" y1="263.2" x2="679.14" y2="263.2" stroke="#333" stroke-width="1.1" />
<circle cx="675.30" cy="266.22" r="0.6" fill="#000"/>
<circle cx="672.18" cy="280.45" r="0.6" fill="#000"/>
<circle cx="676.83" cy="262.92" r="0.6" fill="#000"/>
<circle cx="673.28" cy="275.91" r="0.6" fill="#000"/>
<circle cx="672.21" cy="265.15" r="0.6" fill="#000"/>
<circle cx="672.71" cy="260.76" r="0.6" fill="#000"/>
<circle cx="674.99" cy="264.80" r="0.6" fill="#000"/>
<circle cx="676.53" cy="277.58" r="0.6" fill="#000"/>
<circle cx="672.66" cy="272.06" r="0.6" fill="#000"/>
<circle cx="671.27" cy="253.76" r="0.6" fill="#000"/>
<circle cx="673.76" cy="278.67" r="0.6" fill="#000"/>
<circle cx="674.43" cy="254.68" r="0.6" fill="#000"/>
<circle cx="672.49" cy="266.19" r="0.6" fill="#000"/>
<circle cx="672.22" cy="264.69" r="0.6" fill="#000"/>
<circle cx="671.64" cy="264.19" r="0.6" fill="#000"/>
<circle cx="674.61" cy="278.22" r="0.6" fill="#000"/>
<circle cx="674.03" cy="254.80" r="0.6" fill="#000"/>
<circle cx="671.63" cy="263.42" r="0.6" fill="#000"/>
<line x1="674.14" y1="308.5" x2="674.14" y2="310.7" stroke="#7a7a7a" stroke-width="0.7" />
<text transform="translate(678.24,318.4) rotate(-45)" font-size="9.0" fill="#222" stroke="#222" stroke-width="0.12" text-anchor="end" textLength="31.61" lengthAdjust="spacingAndGlyphs" >MER61E</text>
</svg></body></html>
